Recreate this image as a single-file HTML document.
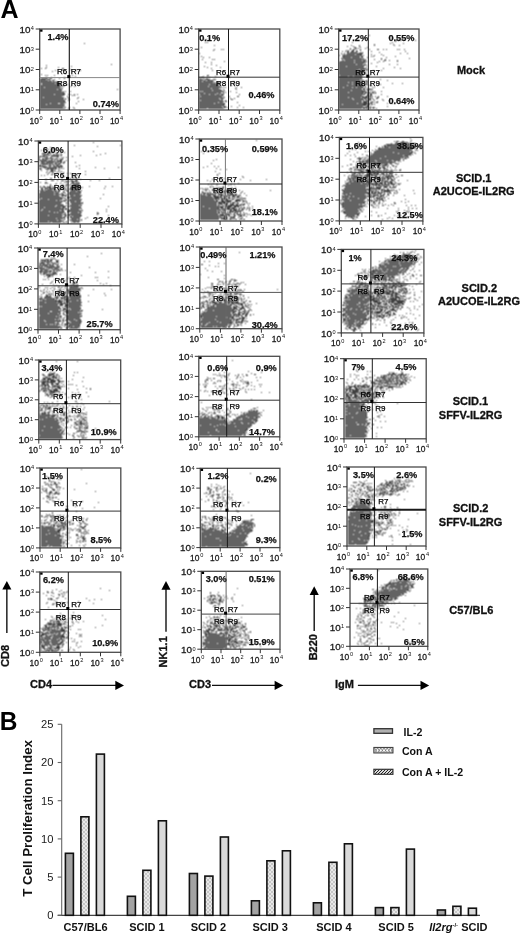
<!DOCTYPE html>
<html><head><meta charset="utf-8"><style>
html,body{margin:0;padding:0;background:#fff;}
body{width:520px;height:934px;overflow:hidden;}
svg{display:block;font-family:"Liberation Sans",sans-serif;}
.tk{font-size:9.4px;fill:#1a1a1a;stroke:#1a1a1a;stroke-width:0.3px;}
.sp{font-size:5.6px;fill:#111;}
.rl{font-size:8px;fill:#000;stroke:#000;stroke-width:0.25px;}
.pc{font-size:9.2px;font-weight:bold;fill:#111;stroke:#111;stroke-width:0.25px;}
.lab{font-size:11px;font-weight:bold;fill:#111;stroke:#111;stroke-width:0.3px;}
.ax{font-size:11px;font-weight:bold;fill:#111;stroke:#111;stroke-width:0.3px;}
.yt{font-size:11.2px;fill:#1a1a1a;}
.bl{font-size:11px;font-weight:bold;fill:#111;}
.lg{font-size:10.6px;font-weight:bold;fill:#111;}
.yl{font-size:13.3px;font-weight:bold;fill:#111;}
.big{font-size:25px;font-weight:bold;fill:#000;}
</style></head><body>
<svg width="520" height="934" viewBox="0 0 520 934">
<defs>
<filter id="bl" filterUnits="userSpaceOnUse" x="0" y="0" width="520" height="934"><feConvolveMatrix order="3" kernelMatrix="1 2 1 2 4 2 1 2 1" divisor="16" edgeMode="none"/></filter>
<pattern id="xh" width="4" height="4" patternUnits="userSpaceOnUse"><rect width="4" height="4" fill="#e8e8e8"/><path d="M0 0L4 4M4 0L0 4" stroke="#b8b8b8" stroke-width="0.7"/></pattern>
<pattern id="xh2" width="6" height="6" patternUnits="userSpaceOnUse"><rect width="6" height="6" fill="#f4f4f4"/><path d="M0 0L6 6M6 0L0 6" stroke="#555" stroke-width="0.8"/></pattern>
<pattern id="dh" width="3" height="3" patternUnits="userSpaceOnUse"><rect width="3" height="3" fill="#ddd"/><path d="M0 3L3 0" stroke="#222" stroke-width="1"/></pattern>
</defs>
<rect width="520" height="934" fill="#fff"/>
<text class="big" x="0.5" y="17.7">A</text>
<text class="big" transform="translate(-0.15,730.4) scale(0.98,1)">B</text>
<g filter="url(#bl)"><path fill="#646464" d="M40 79h6v1h-6zM47 79h2v1h-2zM40 80h8v1h-8zM49 80h2v1h-2zM40 81h12v1h-12zM53 81h2v1h-2zM40 82h16v1h-16zM40 83h1v1h-1zM42 83h13v1h-13zM56 83h1v1h-1zM40 84h1v1h-1zM42 84h16v1h-16zM40 85h19v1h-19zM40 86h20v1h-20zM40 87h4v1h-4zM45 87h15v1h-15zM40 88h21v1h-21zM40 89h17v1h-17zM58 89h3v1h-3zM40 90h22v1h-22zM40 91h22v1h-22zM40 92h23v1h-23zM40 93h23v1h-23zM40 94h14v1h-14zM55 94h8v1h-8zM40 95h23v1h-23zM40 96h22v1h-22zM40 97h3v1h-3zM44 97h20v1h-20zM40 98h24v1h-24zM40 99h24v1h-24zM40 100h24v1h-24zM40 101h24v1h-24zM40 102h24v1h-24zM40 103h10v1h-10zM51 103h7v1h-7zM60 103h4v1h-4zM40 104h6v1h-6zM47 104h17v1h-17zM40 105h24v1h-24zM40 106h24v1h-24zM40 107h23v1h-23zM40 108h24v1h-24z"/>
<path fill="#404040" d="M84 43h1v1h-1zM111 64h1v1h-1zM46 65h1v1h-1zM71 66h1v1h-1zM46 67h1v1h-1zM58 67h1v1h-1zM41 68h1v1h-1zM45 68h1v1h-1zM62 68h2v1h-2zM62 69h1v1h-1zM70 69h1v1h-1zM55 70h1v1h-1zM76 70h1v1h-1zM80 70h1v1h-1zM52 71h1v1h-1zM65 73h1v1h-1zM41 74h1v1h-1zM45 75h1v1h-1zM47 75h1v1h-1zM54 75h1v1h-1zM72 75h1v1h-1zM69 76h1v1h-1zM75 76h1v1h-1zM46 77h1v1h-1zM51 77h1v1h-1zM64 77h1v1h-1zM41 78h7v1h-7zM49 78h3v1h-3zM59 78h1v1h-1zM64 78h1v1h-1zM49 79h1v1h-1zM54 79h1v1h-1zM52 80h2v1h-2zM56 81h1v1h-1zM56 82h3v1h-3zM60 82h1v1h-1zM57 83h3v1h-3zM76 83h1v1h-1zM58 84h3v1h-3zM67 84h1v1h-1zM59 85h1v1h-1zM61 85h1v1h-1zM63 85h1v1h-1zM60 86h1v1h-1zM63 86h1v1h-1zM70 86h1v1h-1zM74 86h1v1h-1zM61 87h1v1h-1zM62 88h1v1h-1zM61 89h1v1h-1zM117 89h1v1h-1zM63 91h1v1h-1zM65 91h1v1h-1zM70 91h1v1h-1zM63 92h1v1h-1zM63 93h2v1h-2zM63 94h2v1h-2zM68 94h1v1h-1zM70 94h1v1h-1zM74 94h1v1h-1zM77 94h1v1h-1zM63 95h1v1h-1zM72 95h1v1h-1zM74 95h1v1h-1zM67 96h1v1h-1zM68 97h1v1h-1zM78 97h1v1h-1zM65 98h1v1h-1zM68 98h1v1h-1zM77 98h1v1h-1zM65 99h1v1h-1zM69 99h1v1h-1zM83 99h1v1h-1zM64 100h1v1h-1zM68 100h1v1h-1zM64 101h1v1h-1zM78 101h1v1h-1zM64 102h2v1h-2zM76 103h1v1h-1zM64 104h1v1h-1zM64 106h1v1h-1zM65 107h1v1h-1zM69 107h1v1h-1zM73 107h1v1h-1zM64 108h1v1h-1zM68 108h1v1h-1zM74 108h1v1h-1z"/></g>
<rect x="39.7" y="29.0" width="80.4" height="81.0" fill="none" stroke="#4a4a4a" stroke-width="1.3"/>
<line x1="69.3" y1="29.0" x2="69.3" y2="110.0" stroke="#111" stroke-width="1.1"/>
<line x1="39.7" y1="77.6" x2="120.1" y2="77.6" stroke="#888" stroke-width="1"/>
<rect x="40.1" y="29.5" width="2.4" height="2.2" fill="#000"/>
<rect x="67.3" y="75.1" width="3" height="3" fill="#000"/>
<line x1="39.7" y1="110.0" x2="39.7" y2="114.0" stroke="#333" stroke-width="1"/>
<line x1="35.7" y1="110.0" x2="39.7" y2="110.0" stroke="#333" stroke-width="1"/>
<text class="tk" x="38.9" y="123.5" text-anchor="end" textLength="9.4" lengthAdjust="spacingAndGlyphs">10</text><text class="sp" x="39.6" y="119.6">0</text>
<text class="tk" x="30.4" y="113.6" text-anchor="end" textLength="11" lengthAdjust="spacingAndGlyphs">10</text><text class="sp" x="30.8" y="111.3">0</text>
<line x1="59.8" y1="110.0" x2="59.8" y2="114.0" stroke="#333" stroke-width="1"/>
<line x1="35.7" y1="89.8" x2="39.7" y2="89.8" stroke="#333" stroke-width="1"/>
<text class="tk" x="59.0" y="123.5" text-anchor="end" textLength="9.4" lengthAdjust="spacingAndGlyphs">10</text><text class="sp" x="59.7" y="119.6">1</text>
<text class="tk" x="30.4" y="93.3" text-anchor="end" textLength="11" lengthAdjust="spacingAndGlyphs">10</text><text class="sp" x="30.8" y="91.0">1</text>
<line x1="79.9" y1="110.0" x2="79.9" y2="114.0" stroke="#333" stroke-width="1"/>
<line x1="35.7" y1="69.5" x2="39.7" y2="69.5" stroke="#333" stroke-width="1"/>
<text class="tk" x="79.1" y="123.5" text-anchor="end" textLength="9.4" lengthAdjust="spacingAndGlyphs">10</text><text class="sp" x="79.8" y="119.6">2</text>
<text class="tk" x="30.4" y="73.1" text-anchor="end" textLength="11" lengthAdjust="spacingAndGlyphs">10</text><text class="sp" x="30.8" y="70.8">2</text>
<line x1="100.0" y1="110.0" x2="100.0" y2="114.0" stroke="#333" stroke-width="1"/>
<line x1="35.7" y1="49.2" x2="39.7" y2="49.2" stroke="#333" stroke-width="1"/>
<text class="tk" x="99.2" y="123.5" text-anchor="end" textLength="9.4" lengthAdjust="spacingAndGlyphs">10</text><text class="sp" x="99.9" y="119.6">3</text>
<text class="tk" x="30.4" y="52.9" text-anchor="end" textLength="11" lengthAdjust="spacingAndGlyphs">10</text><text class="sp" x="30.8" y="50.5">3</text>
<line x1="120.1" y1="110.0" x2="120.1" y2="114.0" stroke="#333" stroke-width="1"/>
<line x1="35.7" y1="29.0" x2="39.7" y2="29.0" stroke="#333" stroke-width="1"/>
<text class="tk" x="119.3" y="123.5" text-anchor="end" textLength="9.4" lengthAdjust="spacingAndGlyphs">10</text><text class="sp" x="120.0" y="119.6">4</text>
<text class="tk" x="30.4" y="32.6" text-anchor="end" textLength="11" lengthAdjust="spacingAndGlyphs">10</text><text class="sp" x="30.8" y="30.3">4</text>
<text class="rl" x="67.3" y="74.2" text-anchor="end">R6</text>
<text class="rl" x="70.7" y="74.2">R7</text>
<text class="rl" x="67.3" y="86.0" text-anchor="end">R8</text>
<text class="rl" x="70.7" y="86.0">R9</text>
<text class="pc" x="47.5" y="40.4" text-anchor="start">1.4%</text>
<text class="pc" x="118.9" y="106.7" text-anchor="end">0.74%</text>
<g filter="url(#bl)"><path fill="#646464" d="M199 79h4v1h-4zM205 79h3v1h-3zM199 80h7v1h-7zM207 80h4v1h-4zM199 81h3v1h-3zM203 81h11v1h-11zM199 82h14v1h-14zM214 82h1v1h-1zM199 83h17v1h-17zM199 84h10v1h-10zM210 84h7v1h-7zM199 85h19v1h-19zM199 86h9v1h-9zM209 86h10v1h-10zM199 87h21v1h-21zM199 88h12v1h-12zM212 88h7v1h-7zM199 89h22v1h-22zM199 90h13v1h-13zM213 90h8v1h-8zM199 91h1v1h-1zM201 91h1v1h-1zM203 91h18v1h-18zM199 92h22v1h-22zM199 93h5v1h-5zM205 93h12v1h-12zM218 93h4v1h-4zM200 94h9v1h-9zM210 94h5v1h-5zM216 94h4v1h-4zM221 94h1v1h-1zM199 95h23v1h-23zM199 96h1v1h-1zM201 96h21v1h-21zM199 97h24v1h-24zM199 98h20v1h-20zM220 98h3v1h-3zM199 99h21v1h-21zM221 99h2v1h-2zM199 100h1v1h-1zM201 100h22v1h-22zM199 101h24v1h-24zM199 102h19v1h-19zM219 102h4v1h-4zM199 103h15v1h-15zM215 103h8v1h-8zM199 104h24v1h-24zM199 105h24v1h-24zM199 106h23v1h-23zM199 107h24v1h-24zM199 108h8v1h-8zM208 108h15v1h-15z"/>
<path fill="#404040" d="M215 36h1v1h-1zM203 38h1v1h-1zM206 39h1v1h-1zM205 42h1v1h-1zM207 42h1v1h-1zM214 45h1v1h-1zM201 47h1v1h-1zM214 49h1v1h-1zM221 49h1v1h-1zM223 49h1v1h-1zM213 50h1v1h-1zM199 53h1v1h-1zM201 56h1v1h-1zM203 57h1v1h-1zM209 57h1v1h-1zM202 59h1v1h-1zM212 59h1v1h-1zM214 59h1v1h-1zM224 61h1v1h-1zM205 62h1v1h-1zM211 62h1v1h-1zM211 64h1v1h-1zM216 65h1v1h-1zM204 66h1v1h-1zM207 67h1v1h-1zM220 67h1v1h-1zM211 68h1v1h-1zM212 70h1v1h-1zM238 72h1v1h-1zM207 75h2v1h-2zM203 76h1v1h-1zM207 76h1v1h-1zM215 76h1v1h-1zM199 77h1v1h-1zM201 77h2v1h-2zM209 77h1v1h-1zM229 77h1v1h-1zM200 78h1v1h-1zM203 78h2v1h-2zM206 78h2v1h-2zM208 79h2v1h-2zM213 79h3v1h-3zM211 80h2v1h-2zM233 81h1v1h-1zM216 82h3v1h-3zM220 82h1v1h-1zM217 83h3v1h-3zM234 83h1v1h-1zM217 84h2v1h-2zM234 84h1v1h-1zM219 85h1v1h-1zM231 85h1v1h-1zM219 86h1v1h-1zM220 87h2v1h-2zM223 87h1v1h-1zM225 87h1v1h-1zM236 87h1v1h-1zM241 87h1v1h-1zM235 88h1v1h-1zM223 89h1v1h-1zM236 89h1v1h-1zM221 90h1v1h-1zM224 90h1v1h-1zM221 91h3v1h-3zM230 91h1v1h-1zM223 92h1v1h-1zM225 92h1v1h-1zM236 92h1v1h-1zM263 92h1v1h-1zM223 93h1v1h-1zM222 94h2v1h-2zM239 94h1v1h-1zM222 95h1v1h-1zM223 96h1v1h-1zM229 96h1v1h-1zM237 96h2v1h-2zM224 97h1v1h-1zM223 98h1v1h-1zM230 98h1v1h-1zM234 98h1v1h-1zM231 99h2v1h-2zM225 100h1v1h-1zM223 101h1v1h-1zM225 101h2v1h-2zM237 102h1v1h-1zM223 103h2v1h-2zM223 104h2v1h-2zM223 105h1v1h-1zM239 105h1v1h-1zM223 106h3v1h-3zM231 106h1v1h-1zM224 107h2v1h-2zM227 107h1v1h-1zM237 107h1v1h-1zM243 107h1v1h-1zM223 108h1v1h-1z"/></g>
<rect x="198.7" y="29.0" width="81.1" height="81.0" fill="none" stroke="#4a4a4a" stroke-width="1.3"/>
<line x1="228.5" y1="29.0" x2="228.5" y2="110.0" stroke="#1a1a1a" stroke-width="1"/>
<line x1="198.7" y1="77.2" x2="279.8" y2="77.2" stroke="#333" stroke-width="1"/>
<rect x="199.1" y="29.5" width="2.4" height="2.2" fill="#000"/>
<rect x="226.5" y="74.7" width="3" height="3" fill="#000"/>
<line x1="198.7" y1="110.0" x2="198.7" y2="114.0" stroke="#333" stroke-width="1"/>
<line x1="194.7" y1="110.0" x2="198.7" y2="110.0" stroke="#333" stroke-width="1"/>
<text class="tk" x="197.9" y="123.5" text-anchor="end" textLength="9.4" lengthAdjust="spacingAndGlyphs">10</text><text class="sp" x="198.6" y="119.6">0</text>
<text class="tk" x="189.4" y="113.6" text-anchor="end" textLength="11" lengthAdjust="spacingAndGlyphs">10</text><text class="sp" x="189.8" y="111.3">0</text>
<line x1="219.0" y1="110.0" x2="219.0" y2="114.0" stroke="#333" stroke-width="1"/>
<line x1="194.7" y1="89.8" x2="198.7" y2="89.8" stroke="#333" stroke-width="1"/>
<text class="tk" x="218.2" y="123.5" text-anchor="end" textLength="9.4" lengthAdjust="spacingAndGlyphs">10</text><text class="sp" x="218.9" y="119.6">1</text>
<text class="tk" x="189.4" y="93.3" text-anchor="end" textLength="11" lengthAdjust="spacingAndGlyphs">10</text><text class="sp" x="189.8" y="91.0">1</text>
<line x1="239.2" y1="110.0" x2="239.2" y2="114.0" stroke="#333" stroke-width="1"/>
<line x1="194.7" y1="69.5" x2="198.7" y2="69.5" stroke="#333" stroke-width="1"/>
<text class="tk" x="238.4" y="123.5" text-anchor="end" textLength="9.4" lengthAdjust="spacingAndGlyphs">10</text><text class="sp" x="239.2" y="119.6">2</text>
<text class="tk" x="189.4" y="73.1" text-anchor="end" textLength="11" lengthAdjust="spacingAndGlyphs">10</text><text class="sp" x="189.8" y="70.8">2</text>
<line x1="259.5" y1="110.0" x2="259.5" y2="114.0" stroke="#333" stroke-width="1"/>
<line x1="194.7" y1="49.2" x2="198.7" y2="49.2" stroke="#333" stroke-width="1"/>
<text class="tk" x="258.7" y="123.5" text-anchor="end" textLength="9.4" lengthAdjust="spacingAndGlyphs">10</text><text class="sp" x="259.4" y="119.6">3</text>
<text class="tk" x="189.4" y="52.9" text-anchor="end" textLength="11" lengthAdjust="spacingAndGlyphs">10</text><text class="sp" x="189.8" y="50.5">3</text>
<line x1="279.8" y1="110.0" x2="279.8" y2="114.0" stroke="#333" stroke-width="1"/>
<line x1="194.7" y1="29.0" x2="198.7" y2="29.0" stroke="#333" stroke-width="1"/>
<text class="tk" x="279.0" y="123.5" text-anchor="end" textLength="9.4" lengthAdjust="spacingAndGlyphs">10</text><text class="sp" x="279.7" y="119.6">4</text>
<text class="tk" x="189.4" y="32.6" text-anchor="end" textLength="11" lengthAdjust="spacingAndGlyphs">10</text><text class="sp" x="189.8" y="30.3">4</text>
<text class="rl" x="226.3" y="74.6" text-anchor="end">R6</text>
<text class="rl" x="229.7" y="74.6">R7</text>
<text class="rl" x="226.3" y="86.1" text-anchor="end">R8</text>
<text class="rl" x="229.7" y="86.1">R9</text>
<text class="pc" x="199.2" y="40.9" text-anchor="start">0.1%</text>
<text class="pc" x="274.5" y="97.9" text-anchor="end">0.46%</text>
<g filter="url(#bl)"><path fill="#646464" d="M350 52h6v1h-6zM347 53h11v1h-11zM346 54h9v1h-9zM356 54h4v1h-4zM345 55h16v1h-16zM344 56h16v1h-16zM344 57h7v1h-7zM352 57h8v1h-8zM361 57h1v1h-1zM343 58h19v1h-19zM342 59h1v1h-1zM344 59h19v1h-19zM342 60h2v1h-2zM345 60h9v1h-9zM355 60h7v1h-7zM341 61h23v1h-23zM340 62h14v1h-14zM355 62h9v1h-9zM339 63h25v1h-25zM339 64h17v1h-17zM357 64h6v1h-6zM339 65h25v1h-25zM339 66h7v1h-7zM347 66h17v1h-17zM339 67h25v1h-25zM339 68h25v1h-25zM339 69h20v1h-20zM360 69h4v1h-4zM339 70h18v1h-18zM358 70h5v1h-5zM339 71h24v1h-24zM339 72h24v1h-24zM339 73h24v1h-24zM339 74h23v1h-23zM340 75h22v1h-22zM339 76h9v1h-9zM349 76h4v1h-4zM354 76h7v1h-7zM339 77h22v1h-22zM339 78h21v1h-21zM339 79h21v1h-21zM339 80h21v1h-21zM339 81h21v1h-21zM339 82h9v1h-9zM349 82h3v1h-3zM353 82h7v1h-7zM339 83h22v1h-22zM339 84h13v1h-13zM353 84h8v1h-8zM339 85h8v1h-8zM348 85h13v1h-13zM339 86h22v1h-22zM339 87h4v1h-4zM344 87h8v1h-8zM353 87h3v1h-3zM357 87h5v1h-5zM339 88h23v1h-23zM339 89h23v1h-23zM339 90h12v1h-12zM352 90h10v1h-10zM339 91h23v1h-23zM339 92h9v1h-9zM349 92h13v1h-13zM339 93h23v1h-23zM339 94h23v1h-23zM339 95h23v1h-23zM339 96h23v1h-23zM339 97h9v1h-9zM349 97h12v1h-12zM339 98h13v1h-13zM353 98h9v1h-9zM339 99h14v1h-14zM354 99h8v1h-8zM339 100h23v1h-23zM339 101h23v1h-23zM339 102h23v1h-23zM339 103h18v1h-18zM358 103h5v1h-5zM339 104h3v1h-3zM343 104h20v1h-20zM339 105h24v1h-24zM339 106h24v1h-24zM339 107h24v1h-24zM339 108h23v1h-23z"/>
<path fill="#404040" d="M369 35h1v1h-1zM347 38h1v1h-1zM392 38h1v1h-1zM396 40h1v1h-1zM400 40h1v1h-1zM415 40h1v1h-1zM395 41h1v1h-1zM352 42h1v1h-1zM392 42h1v1h-1zM390 43h1v1h-1zM403 43h1v1h-1zM374 44h1v1h-1zM393 44h1v1h-1zM351 45h1v1h-1zM359 45h1v1h-1zM374 45h1v1h-1zM394 45h1v1h-1zM399 45h1v1h-1zM347 46h1v1h-1zM353 46h1v1h-1zM359 46h1v1h-1zM354 47h2v1h-2zM360 47h1v1h-1zM367 47h1v1h-1zM350 48h1v1h-1zM355 48h2v1h-2zM358 48h1v1h-1zM365 48h1v1h-1zM350 49h1v1h-1zM353 49h2v1h-2zM360 49h1v1h-1zM369 49h1v1h-1zM377 49h2v1h-2zM383 49h1v1h-1zM386 49h1v1h-1zM397 49h1v1h-1zM399 49h1v1h-1zM404 49h1v1h-1zM346 50h1v1h-1zM348 50h1v1h-1zM352 50h2v1h-2zM356 50h1v1h-1zM360 50h1v1h-1zM342 51h1v1h-1zM345 51h1v1h-1zM347 51h2v1h-2zM351 51h3v1h-3zM356 51h2v1h-2zM371 51h1v1h-1zM405 51h1v1h-1zM347 52h2v1h-2zM356 52h1v1h-1zM360 52h1v1h-1zM362 52h1v1h-1zM379 52h1v1h-1zM341 53h1v1h-1zM344 53h1v1h-1zM358 53h5v1h-5zM400 53h1v1h-1zM407 53h1v1h-1zM342 54h1v1h-1zM344 54h1v1h-1zM360 54h2v1h-2zM371 54h1v1h-1zM381 54h1v1h-1zM339 55h1v1h-1zM343 55h2v1h-2zM361 55h1v1h-1zM363 55h1v1h-1zM374 55h1v1h-1zM383 55h1v1h-1zM342 56h2v1h-2zM361 56h2v1h-2zM371 56h1v1h-1zM373 56h1v1h-1zM395 56h1v1h-1zM343 57h1v1h-1zM362 57h1v1h-1zM367 57h1v1h-1zM386 57h1v1h-1zM341 58h2v1h-2zM363 58h1v1h-1zM381 58h1v1h-1zM409 58h1v1h-1zM363 59h1v1h-1zM365 59h1v1h-1zM374 59h1v1h-1zM381 59h1v1h-1zM385 59h1v1h-1zM363 60h3v1h-3zM384 60h2v1h-2zM389 60h1v1h-1zM397 60h1v1h-1zM340 61h1v1h-1zM364 61h1v1h-1zM366 61h1v1h-1zM379 61h1v1h-1zM383 61h1v1h-1zM397 61h1v1h-1zM339 62h1v1h-1zM364 62h2v1h-2zM377 62h1v1h-1zM371 63h1v1h-1zM364 64h2v1h-2zM389 64h1v1h-1zM397 64h1v1h-1zM364 65h1v1h-1zM366 65h1v1h-1zM376 66h1v1h-1zM366 67h1v1h-1zM394 67h1v1h-1zM364 68h2v1h-2zM383 68h1v1h-1zM400 68h1v1h-1zM364 69h1v1h-1zM366 69h2v1h-2zM364 70h1v1h-1zM366 70h1v1h-1zM373 70h1v1h-1zM381 70h1v1h-1zM363 72h3v1h-3zM365 73h1v1h-1zM362 74h1v1h-1zM365 74h1v1h-1zM362 75h1v1h-1zM361 76h1v1h-1zM361 77h1v1h-1zM360 78h2v1h-2zM361 79h1v1h-1zM380 79h1v1h-1zM360 80h1v1h-1zM362 80h2v1h-2zM366 80h1v1h-1zM387 80h1v1h-1zM361 81h2v1h-2zM364 81h4v1h-4zM361 82h1v1h-1zM367 82h1v1h-1zM361 83h2v1h-2zM364 83h3v1h-3zM392 83h1v1h-1zM402 83h1v1h-1zM361 84h2v1h-2zM364 84h1v1h-1zM366 84h2v1h-2zM380 84h1v1h-1zM361 85h1v1h-1zM364 85h1v1h-1zM369 85h1v1h-1zM371 85h1v1h-1zM361 86h3v1h-3zM365 86h1v1h-1zM362 87h1v1h-1zM365 87h1v1h-1zM372 87h1v1h-1zM374 87h1v1h-1zM383 87h1v1h-1zM363 88h2v1h-2zM367 88h1v1h-1zM369 88h1v1h-1zM363 89h2v1h-2zM366 89h1v1h-1zM368 89h5v1h-5zM362 90h1v1h-1zM364 90h1v1h-1zM367 90h2v1h-2zM362 91h4v1h-4zM370 91h1v1h-1zM372 91h1v1h-1zM374 91h1v1h-1zM381 91h1v1h-1zM362 92h2v1h-2zM365 92h5v1h-5zM372 92h2v1h-2zM375 92h1v1h-1zM362 93h1v1h-1zM364 93h2v1h-2zM368 93h1v1h-1zM370 93h2v1h-2zM373 93h1v1h-1zM375 93h1v1h-1zM362 94h3v1h-3zM367 94h2v1h-2zM370 94h2v1h-2zM381 94h1v1h-1zM367 95h2v1h-2zM370 95h2v1h-2zM362 96h2v1h-2zM365 96h3v1h-3zM369 96h2v1h-2zM372 96h1v1h-1zM375 96h1v1h-1zM378 96h1v1h-1zM387 96h1v1h-1zM362 97h6v1h-6zM369 97h1v1h-1zM371 97h1v1h-1zM377 97h2v1h-2zM362 98h1v1h-1zM364 98h2v1h-2zM367 98h1v1h-1zM369 98h2v1h-2zM372 98h1v1h-1zM376 98h2v1h-2zM362 99h2v1h-2zM365 99h2v1h-2zM368 99h3v1h-3zM373 99h1v1h-1zM382 99h1v1h-1zM363 100h1v1h-1zM366 100h1v1h-1zM368 100h1v1h-1zM370 100h1v1h-1zM374 100h1v1h-1zM383 100h1v1h-1zM363 101h6v1h-6zM372 101h1v1h-1zM377 101h1v1h-1zM363 102h4v1h-4zM370 102h3v1h-3zM374 102h1v1h-1zM376 102h2v1h-2zM363 103h7v1h-7zM371 103h1v1h-1zM387 103h1v1h-1zM392 103h1v1h-1zM363 104h4v1h-4zM368 104h2v1h-2zM371 104h2v1h-2zM374 104h1v1h-1zM363 105h3v1h-3zM367 105h2v1h-2zM366 106h3v1h-3zM370 106h1v1h-1zM387 106h1v1h-1zM363 107h4v1h-4zM368 107h1v1h-1zM370 107h1v1h-1zM372 107h3v1h-3zM363 108h2v1h-2zM366 108h2v1h-2zM369 108h2v1h-2zM373 108h1v1h-1zM376 108h1v1h-1z"/></g>
<rect x="338.7" y="29.0" width="80.3" height="81.0" fill="none" stroke="#4a4a4a" stroke-width="1.3"/>
<line x1="368.3" y1="29.0" x2="368.3" y2="110.0" stroke="#1a1a1a" stroke-width="1"/>
<line x1="338.7" y1="77.1" x2="419.0" y2="77.1" stroke="#333" stroke-width="1"/>
<rect x="339.1" y="29.5" width="2.4" height="2.2" fill="#000"/>
<rect x="366.3" y="74.6" width="3" height="3" fill="#000"/>
<line x1="338.7" y1="110.0" x2="338.7" y2="114.0" stroke="#333" stroke-width="1"/>
<line x1="334.7" y1="110.0" x2="338.7" y2="110.0" stroke="#333" stroke-width="1"/>
<text class="tk" x="337.9" y="123.5" text-anchor="end" textLength="9.4" lengthAdjust="spacingAndGlyphs">10</text><text class="sp" x="338.6" y="119.6">0</text>
<text class="tk" x="329.4" y="113.6" text-anchor="end" textLength="11" lengthAdjust="spacingAndGlyphs">10</text><text class="sp" x="329.8" y="111.3">0</text>
<line x1="358.8" y1="110.0" x2="358.8" y2="114.0" stroke="#333" stroke-width="1"/>
<line x1="334.7" y1="89.8" x2="338.7" y2="89.8" stroke="#333" stroke-width="1"/>
<text class="tk" x="358.0" y="123.5" text-anchor="end" textLength="9.4" lengthAdjust="spacingAndGlyphs">10</text><text class="sp" x="358.7" y="119.6">1</text>
<text class="tk" x="329.4" y="93.3" text-anchor="end" textLength="11" lengthAdjust="spacingAndGlyphs">10</text><text class="sp" x="329.8" y="91.0">1</text>
<line x1="378.9" y1="110.0" x2="378.9" y2="114.0" stroke="#333" stroke-width="1"/>
<line x1="334.7" y1="69.5" x2="338.7" y2="69.5" stroke="#333" stroke-width="1"/>
<text class="tk" x="378.1" y="123.5" text-anchor="end" textLength="9.4" lengthAdjust="spacingAndGlyphs">10</text><text class="sp" x="378.8" y="119.6">2</text>
<text class="tk" x="329.4" y="73.1" text-anchor="end" textLength="11" lengthAdjust="spacingAndGlyphs">10</text><text class="sp" x="329.8" y="70.8">2</text>
<line x1="398.9" y1="110.0" x2="398.9" y2="114.0" stroke="#333" stroke-width="1"/>
<line x1="334.7" y1="49.2" x2="338.7" y2="49.2" stroke="#333" stroke-width="1"/>
<text class="tk" x="398.1" y="123.5" text-anchor="end" textLength="9.4" lengthAdjust="spacingAndGlyphs">10</text><text class="sp" x="398.8" y="119.6">3</text>
<text class="tk" x="329.4" y="52.9" text-anchor="end" textLength="11" lengthAdjust="spacingAndGlyphs">10</text><text class="sp" x="329.8" y="50.5">3</text>
<line x1="419.0" y1="110.0" x2="419.0" y2="114.0" stroke="#333" stroke-width="1"/>
<line x1="334.7" y1="29.0" x2="338.7" y2="29.0" stroke="#333" stroke-width="1"/>
<text class="tk" x="418.2" y="123.5" text-anchor="end" textLength="9.4" lengthAdjust="spacingAndGlyphs">10</text><text class="sp" x="418.9" y="119.6">4</text>
<text class="tk" x="329.4" y="32.6" text-anchor="end" textLength="11" lengthAdjust="spacingAndGlyphs">10</text><text class="sp" x="329.8" y="30.3">4</text>
<text class="rl" x="365.5" y="74.6" text-anchor="end">R6</text>
<text class="rl" x="369.7" y="74.6">R7</text>
<text class="rl" x="365.5" y="86.1" text-anchor="end">R8</text>
<text class="rl" x="369.7" y="86.1">R9</text>
<text class="pc" x="342.1" y="40.9" text-anchor="start">17.2%</text>
<text class="pc" x="414.5" y="40.9" text-anchor="end">0.55%</text>
<text class="pc" x="414.5" y="103.8" text-anchor="end">0.64%</text>
<g filter="url(#bl)"><path fill="#646464" d="M48 154h1v1h-1zM50 154h1v1h-1zM53 154h1v1h-1zM46 155h1v1h-1zM48 155h2v1h-2zM51 155h5v1h-5zM44 156h1v1h-1zM46 156h2v1h-2zM51 156h6v1h-6zM44 157h4v1h-4zM50 157h2v1h-2zM57 157h1v1h-1zM43 158h1v1h-1zM45 158h9v1h-9zM55 158h3v1h-3zM42 159h6v1h-6zM51 159h2v1h-2zM54 159h2v1h-2zM57 159h1v1h-1zM42 160h5v1h-5zM48 160h5v1h-5zM54 160h1v1h-1zM56 160h4v1h-4zM42 161h14v1h-14zM57 161h3v1h-3zM42 162h3v1h-3zM46 162h8v1h-8zM55 162h4v1h-4zM42 163h11v1h-11zM54 163h3v1h-3zM58 163h2v1h-2zM43 164h5v1h-5zM49 164h2v1h-2zM52 164h2v1h-2zM55 164h4v1h-4zM44 165h1v1h-1zM48 165h4v1h-4zM53 165h2v1h-2zM56 165h3v1h-3zM44 166h3v1h-3zM49 166h2v1h-2zM53 166h5v1h-5zM45 167h12v1h-12zM47 168h8v1h-8zM75 181h1v1h-1zM73 182h1v1h-1zM76 182h1v1h-1zM73 183h5v1h-5zM73 184h6v1h-6zM72 185h7v1h-7zM72 186h7v1h-7zM71 187h9v1h-9zM71 188h9v1h-9zM44 189h2v1h-2zM47 189h5v1h-5zM53 189h1v1h-1zM71 189h8v1h-8zM42 190h2v1h-2zM45 190h8v1h-8zM54 190h2v1h-2zM71 190h9v1h-9zM41 191h16v1h-16zM71 191h5v1h-5zM77 191h3v1h-3zM40 192h14v1h-14zM55 192h3v1h-3zM70 192h10v1h-10zM39 193h20v1h-20zM70 193h11v1h-11zM39 194h15v1h-15zM55 194h5v1h-5zM70 194h10v1h-10zM39 195h20v1h-20zM70 195h4v1h-4zM75 195h6v1h-6zM39 196h21v1h-21zM70 196h11v1h-11zM39 197h22v1h-22zM70 197h11v1h-11zM39 198h2v1h-2zM42 198h19v1h-19zM71 198h9v1h-9zM40 199h8v1h-8zM49 199h13v1h-13zM70 199h11v1h-11zM39 200h17v1h-17zM57 200h3v1h-3zM61 200h1v1h-1zM70 200h11v1h-11zM39 201h23v1h-23zM70 201h5v1h-5zM76 201h5v1h-5zM39 202h23v1h-23zM70 202h11v1h-11zM39 203h22v1h-22zM71 203h10v1h-10zM39 204h23v1h-23zM71 204h10v1h-10zM39 205h17v1h-17zM57 205h6v1h-6zM70 205h9v1h-9zM80 205h1v1h-1zM39 206h16v1h-16zM56 206h7v1h-7zM70 206h11v1h-11zM39 207h5v1h-5zM45 207h16v1h-16zM62 207h1v1h-1zM71 207h10v1h-10zM39 208h24v1h-24zM70 208h11v1h-11zM39 209h3v1h-3zM43 209h20v1h-20zM70 209h9v1h-9zM39 210h2v1h-2zM42 210h18v1h-18zM61 210h2v1h-2zM70 210h11v1h-11zM39 211h10v1h-10zM50 211h13v1h-13zM70 211h11v1h-11zM39 212h15v1h-15zM55 212h2v1h-2zM58 212h5v1h-5zM71 212h7v1h-7zM79 212h2v1h-2zM39 213h24v1h-24zM70 213h11v1h-11zM39 214h23v1h-23zM70 214h11v1h-11zM39 215h9v1h-9zM49 215h14v1h-14zM71 215h9v1h-9zM39 216h23v1h-23zM71 216h1v1h-1zM73 216h7v1h-7zM39 217h24v1h-24zM71 217h9v1h-9zM39 218h17v1h-17zM57 218h6v1h-6zM71 218h9v1h-9zM39 219h22v1h-22zM62 219h1v1h-1zM71 219h6v1h-6zM78 219h2v1h-2zM39 220h18v1h-18zM58 220h4v1h-4zM71 220h9v1h-9zM39 221h9v1h-9zM49 221h13v1h-13zM72 221h8v1h-8zM39 222h12v1h-12zM52 222h9v1h-9zM73 222h3v1h-3zM77 222h2v1h-2z"/>
<path fill="#404040" d="M93 142h1v1h-1zM74 145h1v1h-1zM120 145h1v1h-1zM97 146h1v1h-1zM50 147h1v1h-1zM48 149h1v1h-1zM52 149h1v1h-1zM41 150h1v1h-1zM45 150h1v1h-1zM54 150h1v1h-1zM50 151h1v1h-1zM60 151h1v1h-1zM93 151h1v1h-1zM44 152h1v1h-1zM48 152h3v1h-3zM52 152h1v1h-1zM56 152h1v1h-1zM64 152h1v1h-1zM42 153h4v1h-4zM47 153h2v1h-2zM50 153h1v1h-1zM56 153h2v1h-2zM60 153h1v1h-1zM105 153h1v1h-1zM42 154h1v1h-1zM44 154h1v1h-1zM46 154h2v1h-2zM54 154h1v1h-1zM56 154h1v1h-1zM58 154h1v1h-1zM61 154h1v1h-1zM100 154h1v1h-1zM43 155h3v1h-3zM56 155h3v1h-3zM60 155h2v1h-2zM80 155h1v1h-1zM96 155h1v1h-1zM39 156h5v1h-5zM57 156h2v1h-2zM72 156h1v1h-1zM39 157h1v1h-1zM61 157h1v1h-1zM63 157h1v1h-1zM66 157h1v1h-1zM39 158h1v1h-1zM42 158h1v1h-1zM59 158h1v1h-1zM62 158h1v1h-1zM39 159h1v1h-1zM60 159h3v1h-3zM39 160h3v1h-3zM60 160h2v1h-2zM66 160h1v1h-1zM41 161h1v1h-1zM60 161h2v1h-2zM64 161h1v1h-1zM39 162h1v1h-1zM41 162h1v1h-1zM60 162h2v1h-2zM63 162h2v1h-2zM75 162h1v1h-1zM41 163h1v1h-1zM60 163h1v1h-1zM63 163h1v1h-1zM40 164h1v1h-1zM42 164h1v1h-1zM59 164h1v1h-1zM39 165h2v1h-2zM42 165h1v1h-1zM60 165h2v1h-2zM79 165h1v1h-1zM39 166h5v1h-5zM58 166h5v1h-5zM76 166h1v1h-1zM43 167h2v1h-2zM58 167h2v1h-2zM61 167h1v1h-1zM95 167h1v1h-1zM118 167h1v1h-1zM39 168h3v1h-3zM45 168h1v1h-1zM55 168h2v1h-2zM59 168h1v1h-1zM61 168h1v1h-1zM63 168h1v1h-1zM79 168h1v1h-1zM104 168h1v1h-1zM40 169h1v1h-1zM46 169h3v1h-3zM50 169h4v1h-4zM55 169h1v1h-1zM58 169h1v1h-1zM41 170h1v1h-1zM51 170h2v1h-2zM54 170h1v1h-1zM59 170h1v1h-1zM47 171h1v1h-1zM50 171h4v1h-4zM55 171h1v1h-1zM58 171h1v1h-1zM61 171h1v1h-1zM85 171h1v1h-1zM46 172h1v1h-1zM49 172h1v1h-1zM52 172h1v1h-1zM57 172h1v1h-1zM60 172h1v1h-1zM63 172h1v1h-1zM48 173h1v1h-1zM53 173h1v1h-1zM63 173h1v1h-1zM67 173h1v1h-1zM70 173h1v1h-1zM47 174h1v1h-1zM51 174h2v1h-2zM56 174h1v1h-1zM74 174h1v1h-1zM77 174h1v1h-1zM85 174h1v1h-1zM41 175h1v1h-1zM44 175h1v1h-1zM73 175h1v1h-1zM76 175h1v1h-1zM62 176h3v1h-3zM67 176h1v1h-1zM73 177h1v1h-1zM75 177h1v1h-1zM50 178h2v1h-2zM70 178h1v1h-1zM73 178h1v1h-1zM76 178h1v1h-1zM109 178h1v1h-1zM45 179h2v1h-2zM61 179h1v1h-1zM70 179h1v1h-1zM76 179h2v1h-2zM80 179h1v1h-1zM51 180h3v1h-3zM57 180h1v1h-1zM62 180h2v1h-2zM65 180h1v1h-1zM71 180h2v1h-2zM75 180h2v1h-2zM90 180h1v1h-1zM99 180h1v1h-1zM61 181h1v1h-1zM66 181h2v1h-2zM69 181h1v1h-1zM71 181h4v1h-4zM76 181h2v1h-2zM40 182h1v1h-1zM45 182h2v1h-2zM64 182h1v1h-1zM66 182h1v1h-1zM72 182h1v1h-1zM78 182h1v1h-1zM45 183h1v1h-1zM47 183h1v1h-1zM56 183h1v1h-1zM60 183h1v1h-1zM71 183h2v1h-2zM78 183h2v1h-2zM50 184h1v1h-1zM55 184h1v1h-1zM62 184h1v1h-1zM66 184h2v1h-2zM70 184h1v1h-1zM50 185h1v1h-1zM62 185h1v1h-1zM64 185h1v1h-1zM66 185h1v1h-1zM69 185h1v1h-1zM79 185h1v1h-1zM40 186h1v1h-1zM43 186h2v1h-2zM47 186h1v1h-1zM49 186h2v1h-2zM52 186h1v1h-1zM58 186h1v1h-1zM62 186h1v1h-1zM66 186h1v1h-1zM71 186h1v1h-1zM79 186h1v1h-1zM89 186h1v1h-1zM105 186h1v1h-1zM112 186h1v1h-1zM40 187h1v1h-1zM42 187h1v1h-1zM44 187h2v1h-2zM47 187h4v1h-4zM53 187h2v1h-2zM59 187h2v1h-2zM63 187h2v1h-2zM70 187h1v1h-1zM80 187h1v1h-1zM82 187h1v1h-1zM41 188h2v1h-2zM45 188h3v1h-3zM49 188h5v1h-5zM55 188h1v1h-1zM58 188h1v1h-1zM61 188h1v1h-1zM63 188h1v1h-1zM65 188h1v1h-1zM67 188h1v1h-1zM70 188h1v1h-1zM104 188h1v1h-1zM41 189h2v1h-2zM54 189h1v1h-1zM59 189h2v1h-2zM63 189h1v1h-1zM65 189h1v1h-1zM69 189h2v1h-2zM39 190h1v1h-1zM41 190h1v1h-1zM56 190h1v1h-1zM58 190h2v1h-2zM64 190h1v1h-1zM66 190h2v1h-2zM81 190h1v1h-1zM40 191h1v1h-1zM58 191h2v1h-2zM63 191h1v1h-1zM67 191h1v1h-1zM70 191h1v1h-1zM80 191h1v1h-1zM58 192h1v1h-1zM63 192h2v1h-2zM69 192h1v1h-1zM80 192h1v1h-1zM61 193h2v1h-2zM65 193h1v1h-1zM69 193h1v1h-1zM60 194h1v1h-1zM62 194h2v1h-2zM67 194h1v1h-1zM69 194h1v1h-1zM103 194h1v1h-1zM61 195h6v1h-6zM81 195h1v1h-1zM62 196h1v1h-1zM65 196h1v1h-1zM68 196h1v1h-1zM61 197h1v1h-1zM63 197h1v1h-1zM67 197h3v1h-3zM61 198h2v1h-2zM64 198h2v1h-2zM68 198h1v1h-1zM100 198h1v1h-1zM66 199h1v1h-1zM69 199h1v1h-1zM81 199h1v1h-1zM63 200h4v1h-4zM69 200h1v1h-1zM62 201h1v1h-1zM64 201h1v1h-1zM68 201h1v1h-1zM66 202h1v1h-1zM82 202h1v1h-1zM66 203h1v1h-1zM68 203h1v1h-1zM81 203h2v1h-2zM62 204h1v1h-1zM69 204h1v1h-1zM63 205h1v1h-1zM66 205h1v1h-1zM81 205h1v1h-1zM63 206h3v1h-3zM68 206h2v1h-2zM108 206h1v1h-1zM63 207h2v1h-2zM63 208h1v1h-1zM65 208h2v1h-2zM81 208h1v1h-1zM63 209h1v1h-1zM65 209h2v1h-2zM68 209h1v1h-1zM106 209h1v1h-1zM63 210h1v1h-1zM68 210h2v1h-2zM81 210h2v1h-2zM63 211h1v1h-1zM67 211h3v1h-3zM106 211h1v1h-1zM63 212h2v1h-2zM68 212h1v1h-1zM81 212h1v1h-1zM97 212h1v1h-1zM65 213h1v1h-1zM97 213h2v1h-2zM63 214h3v1h-3zM68 214h2v1h-2zM97 214h1v1h-1zM65 215h2v1h-2zM68 215h2v1h-2zM80 215h2v1h-2zM108 215h1v1h-1zM64 216h2v1h-2zM70 216h1v1h-1zM80 216h1v1h-1zM63 217h2v1h-2zM67 217h2v1h-2zM70 217h1v1h-1zM87 217h1v1h-1zM64 218h1v1h-1zM85 218h1v1h-1zM64 219h1v1h-1zM69 219h1v1h-1zM81 219h1v1h-1zM63 220h1v1h-1zM70 220h1v1h-1zM81 220h1v1h-1zM62 221h1v1h-1zM66 221h1v1h-1zM63 222h2v1h-2zM66 222h1v1h-1zM71 222h1v1h-1zM118 222h1v1h-1z"/></g>
<rect x="38.4" y="141.0" width="83.5" height="82.9" fill="none" stroke="#4a4a4a" stroke-width="1.3"/>
<line x1="68.1" y1="141.0" x2="68.1" y2="223.9" stroke="#1a1a1a" stroke-width="1"/>
<line x1="38.4" y1="179.5" x2="121.9" y2="179.5" stroke="#333" stroke-width="1"/>
<rect x="38.8" y="141.5" width="2.4" height="2.2" fill="#000"/>
<rect x="66.1" y="177.0" width="3" height="3" fill="#000"/>
<line x1="38.4" y1="223.9" x2="38.4" y2="227.9" stroke="#333" stroke-width="1"/>
<line x1="34.4" y1="223.9" x2="38.4" y2="223.9" stroke="#333" stroke-width="1"/>
<text class="tk" x="37.6" y="237.4" text-anchor="end" textLength="9.4" lengthAdjust="spacingAndGlyphs">10</text><text class="sp" x="38.3" y="233.5">0</text>
<text class="tk" x="29.1" y="227.5" text-anchor="end" textLength="11" lengthAdjust="spacingAndGlyphs">10</text><text class="sp" x="29.5" y="225.2">0</text>
<line x1="59.3" y1="223.9" x2="59.3" y2="227.9" stroke="#333" stroke-width="1"/>
<line x1="34.4" y1="203.2" x2="38.4" y2="203.2" stroke="#333" stroke-width="1"/>
<text class="tk" x="58.5" y="237.4" text-anchor="end" textLength="9.4" lengthAdjust="spacingAndGlyphs">10</text><text class="sp" x="59.2" y="233.5">1</text>
<text class="tk" x="29.1" y="206.8" text-anchor="end" textLength="11" lengthAdjust="spacingAndGlyphs">10</text><text class="sp" x="29.5" y="204.5">1</text>
<line x1="80.2" y1="223.9" x2="80.2" y2="227.9" stroke="#333" stroke-width="1"/>
<line x1="34.4" y1="182.4" x2="38.4" y2="182.4" stroke="#333" stroke-width="1"/>
<text class="tk" x="79.4" y="237.4" text-anchor="end" textLength="9.4" lengthAdjust="spacingAndGlyphs">10</text><text class="sp" x="80.1" y="233.5">2</text>
<text class="tk" x="29.1" y="186.0" text-anchor="end" textLength="11" lengthAdjust="spacingAndGlyphs">10</text><text class="sp" x="29.5" y="183.8">2</text>
<line x1="101.0" y1="223.9" x2="101.0" y2="227.9" stroke="#333" stroke-width="1"/>
<line x1="34.4" y1="161.7" x2="38.4" y2="161.7" stroke="#333" stroke-width="1"/>
<text class="tk" x="100.2" y="237.4" text-anchor="end" textLength="9.4" lengthAdjust="spacingAndGlyphs">10</text><text class="sp" x="100.9" y="233.5">3</text>
<text class="tk" x="29.1" y="165.3" text-anchor="end" textLength="11" lengthAdjust="spacingAndGlyphs">10</text><text class="sp" x="29.5" y="163.0">3</text>
<line x1="121.9" y1="223.9" x2="121.9" y2="227.9" stroke="#333" stroke-width="1"/>
<line x1="34.4" y1="141.0" x2="38.4" y2="141.0" stroke="#333" stroke-width="1"/>
<text class="tk" x="121.1" y="237.4" text-anchor="end" textLength="9.4" lengthAdjust="spacingAndGlyphs">10</text><text class="sp" x="121.8" y="233.5">4</text>
<text class="tk" x="29.1" y="144.6" text-anchor="end" textLength="11" lengthAdjust="spacingAndGlyphs">10</text><text class="sp" x="29.5" y="142.3">4</text>
<text class="rl" x="64.1" y="177.6" text-anchor="end">R6</text>
<text class="rl" x="71.2" y="177.6">R7</text>
<text class="rl" x="64.1" y="190.0" text-anchor="end">R8</text>
<text class="rl" x="71.2" y="190.0">R9</text>
<text class="pc" x="42.8" y="152.8" text-anchor="start">6.0%</text>
<text class="pc" x="118.9" y="222.7" text-anchor="end">22.4%</text>
<g filter="url(#bl)"><path fill="#646464" d="M200 194h2v1h-2zM203 194h2v1h-2zM206 194h3v1h-3zM200 195h6v1h-6zM207 195h4v1h-4zM200 196h12v1h-12zM200 197h13v1h-13zM200 198h15v1h-15zM200 199h14v1h-14zM200 200h15v1h-15zM200 201h16v1h-16zM200 202h17v1h-17zM200 203h17v1h-17zM200 204h17v1h-17zM200 205h17v1h-17zM200 206h3v1h-3zM204 206h14v1h-14zM200 207h18v1h-18zM200 208h9v1h-9zM210 208h8v1h-8zM200 209h18v1h-18zM200 210h17v1h-17zM200 211h19v1h-19zM200 212h17v1h-17zM218 212h1v1h-1zM200 213h19v1h-19zM200 214h18v1h-18zM200 215h19v1h-19zM200 216h19v1h-19zM200 217h19v1h-19zM200 218h19v1h-19zM200 219h19v1h-19z"/>
<path fill="#404040" d="M256 140h1v1h-1zM203 146h1v1h-1zM205 146h1v1h-1zM201 151h1v1h-1zM207 151h1v1h-1zM203 153h1v1h-1zM216 159h1v1h-1zM213 160h1v1h-1zM211 163h1v1h-1zM207 166h1v1h-1zM214 166h1v1h-1zM218 166h1v1h-1zM203 167h1v1h-1zM216 168h1v1h-1zM220 169h1v1h-1zM226 169h1v1h-1zM215 171h1v1h-1zM219 173h1v1h-1zM217 174h1v1h-1zM217 175h1v1h-1zM242 176h1v1h-1zM243 177h1v1h-1zM224 178h1v1h-1zM212 179h1v1h-1zM227 179h1v1h-1zM240 179h1v1h-1zM266 179h1v1h-1zM207 180h1v1h-1zM222 180h1v1h-1zM250 180h1v1h-1zM210 181h1v1h-1zM221 181h1v1h-1zM213 183h1v1h-1zM238 183h1v1h-1zM208 184h1v1h-1zM211 184h1v1h-1zM216 184h2v1h-2zM225 184h1v1h-1zM230 184h2v1h-2zM234 184h1v1h-1zM228 185h1v1h-1zM210 186h1v1h-1zM212 186h1v1h-1zM223 186h1v1h-1zM210 187h1v1h-1zM213 187h1v1h-1zM216 187h1v1h-1zM218 187h1v1h-1zM220 187h1v1h-1zM222 187h2v1h-2zM231 187h1v1h-1zM235 187h1v1h-1zM200 188h1v1h-1zM202 188h1v1h-1zM205 188h1v1h-1zM207 188h1v1h-1zM214 188h1v1h-1zM216 188h1v1h-1zM218 188h1v1h-1zM220 188h1v1h-1zM222 188h2v1h-2zM226 188h1v1h-1zM229 188h1v1h-1zM232 188h1v1h-1zM203 189h1v1h-1zM205 189h1v1h-1zM207 189h1v1h-1zM212 189h2v1h-2zM215 189h1v1h-1zM218 189h4v1h-4zM228 189h5v1h-5zM205 190h2v1h-2zM209 190h1v1h-1zM212 190h2v1h-2zM216 190h1v1h-1zM218 190h2v1h-2zM221 190h2v1h-2zM224 190h5v1h-5zM230 190h2v1h-2zM233 190h1v1h-1zM239 190h1v1h-1zM270 190h1v1h-1zM202 191h1v1h-1zM214 191h2v1h-2zM218 191h1v1h-1zM221 191h1v1h-1zM223 191h2v1h-2zM226 191h4v1h-4zM231 191h3v1h-3zM235 191h1v1h-1zM242 191h1v1h-1zM202 192h2v1h-2zM205 192h1v1h-1zM207 192h1v1h-1zM209 192h2v1h-2zM215 192h2v1h-2zM218 192h1v1h-1zM220 192h3v1h-3zM224 192h2v1h-2zM227 192h4v1h-4zM232 192h1v1h-1zM241 192h1v1h-1zM201 193h1v1h-1zM203 193h3v1h-3zM207 193h2v1h-2zM210 193h1v1h-1zM212 193h1v1h-1zM214 193h2v1h-2zM217 193h1v1h-1zM219 193h1v1h-1zM221 193h1v1h-1zM224 193h1v1h-1zM227 193h1v1h-1zM229 193h4v1h-4zM235 193h1v1h-1zM240 193h1v1h-1zM244 193h1v1h-1zM209 194h5v1h-5zM215 194h1v1h-1zM218 194h5v1h-5zM224 194h1v1h-1zM227 194h2v1h-2zM230 194h4v1h-4zM235 194h2v1h-2zM213 195h3v1h-3zM218 195h1v1h-1zM220 195h3v1h-3zM224 195h1v1h-1zM226 195h1v1h-1zM228 195h3v1h-3zM232 195h5v1h-5zM238 195h3v1h-3zM246 195h1v1h-1zM213 196h6v1h-6zM220 196h2v1h-2zM223 196h5v1h-5zM229 196h1v1h-1zM232 196h3v1h-3zM237 196h2v1h-2zM214 197h8v1h-8zM224 197h2v1h-2zM228 197h2v1h-2zM232 197h1v1h-1zM234 197h1v1h-1zM236 197h4v1h-4zM241 197h1v1h-1zM215 198h4v1h-4zM221 198h6v1h-6zM228 198h3v1h-3zM232 198h1v1h-1zM234 198h1v1h-1zM240 198h1v1h-1zM242 198h4v1h-4zM215 199h2v1h-2zM218 199h2v1h-2zM221 199h2v1h-2zM224 199h4v1h-4zM232 199h2v1h-2zM236 199h4v1h-4zM241 199h1v1h-1zM216 200h2v1h-2zM221 200h3v1h-3zM226 200h6v1h-6zM235 200h6v1h-6zM242 200h2v1h-2zM245 200h1v1h-1zM216 201h2v1h-2zM219 201h1v1h-1zM221 201h10v1h-10zM235 201h3v1h-3zM239 201h1v1h-1zM243 201h2v1h-2zM246 201h1v1h-1zM218 202h8v1h-8zM227 202h2v1h-2zM230 202h1v1h-1zM232 202h3v1h-3zM237 202h1v1h-1zM242 202h1v1h-1zM246 202h1v1h-1zM218 203h4v1h-4zM223 203h5v1h-5zM230 203h1v1h-1zM232 203h2v1h-2zM235 203h1v1h-1zM237 203h2v1h-2zM244 203h1v1h-1zM247 203h1v1h-1zM249 203h1v1h-1zM218 204h1v1h-1zM220 204h3v1h-3zM225 204h3v1h-3zM230 204h4v1h-4zM236 204h2v1h-2zM240 204h5v1h-5zM218 205h2v1h-2zM223 205h1v1h-1zM225 205h2v1h-2zM228 205h13v1h-13zM243 205h1v1h-1zM248 205h1v1h-1zM218 206h1v1h-1zM220 206h4v1h-4zM225 206h7v1h-7zM234 206h5v1h-5zM241 206h1v1h-1zM252 206h1v1h-1zM218 207h5v1h-5zM225 207h1v1h-1zM227 207h4v1h-4zM232 207h4v1h-4zM238 207h1v1h-1zM240 207h1v1h-1zM243 207h2v1h-2zM247 207h1v1h-1zM249 207h1v1h-1zM218 208h1v1h-1zM221 208h4v1h-4zM226 208h4v1h-4zM231 208h4v1h-4zM236 208h1v1h-1zM239 208h1v1h-1zM241 208h2v1h-2zM244 208h1v1h-1zM247 208h1v1h-1zM249 208h1v1h-1zM252 208h1v1h-1zM218 209h3v1h-3zM222 209h1v1h-1zM224 209h2v1h-2zM227 209h5v1h-5zM233 209h4v1h-4zM238 209h2v1h-2zM242 209h2v1h-2zM246 209h1v1h-1zM249 209h1v1h-1zM218 210h1v1h-1zM220 210h1v1h-1zM222 210h4v1h-4zM230 210h2v1h-2zM233 210h4v1h-4zM238 210h1v1h-1zM240 210h3v1h-3zM249 210h1v1h-1zM219 211h1v1h-1zM221 211h1v1h-1zM224 211h1v1h-1zM227 211h1v1h-1zM229 211h5v1h-5zM235 211h6v1h-6zM219 212h1v1h-1zM221 212h4v1h-4zM227 212h1v1h-1zM229 212h2v1h-2zM232 212h1v1h-1zM234 212h2v1h-2zM237 212h1v1h-1zM240 212h1v1h-1zM243 212h1v1h-1zM219 213h1v1h-1zM222 213h1v1h-1zM224 213h3v1h-3zM228 213h1v1h-1zM230 213h1v1h-1zM234 213h1v1h-1zM236 213h2v1h-2zM240 213h1v1h-1zM244 213h1v1h-1zM246 213h1v1h-1zM220 214h4v1h-4zM226 214h4v1h-4zM231 214h1v1h-1zM233 214h2v1h-2zM237 214h4v1h-4zM242 214h1v1h-1zM244 214h1v1h-1zM247 214h1v1h-1zM249 214h1v1h-1zM219 215h8v1h-8zM228 215h2v1h-2zM234 215h2v1h-2zM238 215h1v1h-1zM240 215h2v1h-2zM243 215h2v1h-2zM251 215h1v1h-1zM220 216h1v1h-1zM222 216h1v1h-1zM224 216h3v1h-3zM229 216h1v1h-1zM231 216h1v1h-1zM233 216h2v1h-2zM239 216h3v1h-3zM246 216h1v1h-1zM219 217h3v1h-3zM223 217h5v1h-5zM230 217h5v1h-5zM238 217h1v1h-1zM242 217h1v1h-1zM221 218h6v1h-6zM230 218h1v1h-1zM232 218h1v1h-1zM234 218h1v1h-1zM240 218h2v1h-2zM221 219h1v1h-1zM223 219h5v1h-5zM229 219h3v1h-3zM233 219h1v1h-1zM235 219h2v1h-2zM239 219h1v1h-1zM241 219h1v1h-1zM243 219h2v1h-2z"/></g>
<rect x="199.4" y="139.0" width="82.6" height="82.0" fill="none" stroke="#4a4a4a" stroke-width="1.3"/>
<line x1="225.4" y1="139.0" x2="225.4" y2="221.0" stroke="#777" stroke-width="1"/>
<line x1="199.4" y1="184.0" x2="282.0" y2="184.0" stroke="#222" stroke-width="1"/>
<rect x="199.8" y="139.5" width="2.4" height="2.2" fill="#000"/>
<rect x="223.4" y="181.5" width="3" height="3" fill="#000"/>
<line x1="199.4" y1="221.0" x2="199.4" y2="225.0" stroke="#333" stroke-width="1"/>
<line x1="195.4" y1="221.0" x2="199.4" y2="221.0" stroke="#333" stroke-width="1"/>
<text class="tk" x="198.6" y="234.5" text-anchor="end" textLength="9.4" lengthAdjust="spacingAndGlyphs">10</text><text class="sp" x="199.3" y="230.6">0</text>
<text class="tk" x="190.1" y="224.6" text-anchor="end" textLength="11" lengthAdjust="spacingAndGlyphs">10</text><text class="sp" x="190.5" y="222.3">0</text>
<line x1="220.1" y1="221.0" x2="220.1" y2="225.0" stroke="#333" stroke-width="1"/>
<line x1="195.4" y1="200.5" x2="199.4" y2="200.5" stroke="#333" stroke-width="1"/>
<text class="tk" x="219.2" y="234.5" text-anchor="end" textLength="9.4" lengthAdjust="spacingAndGlyphs">10</text><text class="sp" x="220.0" y="230.6">1</text>
<text class="tk" x="190.1" y="204.1" text-anchor="end" textLength="11" lengthAdjust="spacingAndGlyphs">10</text><text class="sp" x="190.5" y="201.8">1</text>
<line x1="240.7" y1="221.0" x2="240.7" y2="225.0" stroke="#333" stroke-width="1"/>
<line x1="195.4" y1="180.0" x2="199.4" y2="180.0" stroke="#333" stroke-width="1"/>
<text class="tk" x="239.9" y="234.5" text-anchor="end" textLength="9.4" lengthAdjust="spacingAndGlyphs">10</text><text class="sp" x="240.6" y="230.6">2</text>
<text class="tk" x="190.1" y="183.6" text-anchor="end" textLength="11" lengthAdjust="spacingAndGlyphs">10</text><text class="sp" x="190.5" y="181.3">2</text>
<line x1="261.4" y1="221.0" x2="261.4" y2="225.0" stroke="#333" stroke-width="1"/>
<line x1="195.4" y1="159.5" x2="199.4" y2="159.5" stroke="#333" stroke-width="1"/>
<text class="tk" x="260.6" y="234.5" text-anchor="end" textLength="9.4" lengthAdjust="spacingAndGlyphs">10</text><text class="sp" x="261.2" y="230.6">3</text>
<text class="tk" x="190.1" y="163.1" text-anchor="end" textLength="11" lengthAdjust="spacingAndGlyphs">10</text><text class="sp" x="190.5" y="160.8">3</text>
<line x1="282.0" y1="221.0" x2="282.0" y2="225.0" stroke="#333" stroke-width="1"/>
<line x1="195.4" y1="139.0" x2="199.4" y2="139.0" stroke="#333" stroke-width="1"/>
<text class="tk" x="281.2" y="234.5" text-anchor="end" textLength="9.4" lengthAdjust="spacingAndGlyphs">10</text><text class="sp" x="281.9" y="230.6">4</text>
<text class="tk" x="190.1" y="142.6" text-anchor="end" textLength="11" lengthAdjust="spacingAndGlyphs">10</text><text class="sp" x="190.5" y="140.3">4</text>
<text class="rl" x="223.3" y="181.8" text-anchor="end">R6</text>
<text class="rl" x="226.8" y="181.8">R7</text>
<text class="rl" x="223.3" y="193.3" text-anchor="end">R8</text>
<text class="rl" x="226.8" y="193.3">R9</text>
<text class="pc" x="202.1" y="152.0" text-anchor="start">0.35%</text>
<text class="pc" x="277.8" y="152.0" text-anchor="end">0.59%</text>
<text class="pc" x="277.8" y="215.4" text-anchor="end">18.1%</text>
<g filter="url(#bl)"><path fill="#646464" d="M397 143h9v1h-9zM407 143h2v1h-2zM392 144h8v1h-8zM401 144h9v1h-9zM388 145h15v1h-15zM404 145h6v1h-6zM386 146h27v1h-27zM384 147h5v1h-5zM390 147h23v1h-23zM381 148h32v1h-32zM379 149h33v1h-33zM377 150h35v1h-35zM375 151h35v1h-35zM411 151h1v1h-1zM374 152h19v1h-19zM394 152h17v1h-17zM373 153h25v1h-25zM399 153h11v1h-11zM372 154h37v1h-37zM370 155h33v1h-33zM404 155h4v1h-4zM369 156h16v1h-16zM386 156h20v1h-20zM369 157h35v1h-35zM368 158h12v1h-12zM381 158h20v1h-20zM402 158h1v1h-1zM367 159h34v1h-34zM367 160h8v1h-8zM376 160h11v1h-11zM388 160h4v1h-4zM393 160h6v1h-6zM367 161h9v1h-9zM377 161h16v1h-16zM394 161h2v1h-2zM367 162h26v1h-26zM368 163h1v1h-1zM370 163h2v1h-2zM373 163h15v1h-15zM389 163h1v1h-1zM370 164h2v1h-2zM373 164h8v1h-8zM382 164h1v1h-1zM384 164h2v1h-2zM354 175h4v1h-4zM359 175h1v1h-1zM353 176h7v1h-7zM351 177h8v1h-8zM360 177h2v1h-2zM350 178h13v1h-13zM350 179h1v1h-1zM352 179h3v1h-3zM356 179h7v1h-7zM349 180h16v1h-16zM349 181h3v1h-3zM353 181h11v1h-11zM347 182h18v1h-18zM347 183h2v1h-2zM350 183h11v1h-11zM362 183h4v1h-4zM346 184h20v1h-20zM346 185h20v1h-20zM345 186h21v1h-21zM345 187h21v1h-21zM345 188h21v1h-21zM344 189h23v1h-23zM344 190h23v1h-23zM344 191h23v1h-23zM343 192h24v1h-24zM343 193h7v1h-7zM351 193h16v1h-16zM343 194h3v1h-3zM347 194h18v1h-18zM344 195h22v1h-22zM343 196h6v1h-6zM350 196h3v1h-3zM354 196h12v1h-12zM343 197h23v1h-23zM344 198h4v1h-4zM349 198h9v1h-9zM359 198h7v1h-7zM343 199h22v1h-22zM343 200h7v1h-7zM351 200h13v1h-13zM344 201h21v1h-21zM343 202h21v1h-21zM343 203h21v1h-21zM343 204h16v1h-16zM360 204h2v1h-2zM343 205h20v1h-20zM343 206h20v1h-20zM343 207h19v1h-19zM344 208h16v1h-16zM344 209h14v1h-14zM359 209h2v1h-2zM345 210h14v1h-14zM345 211h14v1h-14zM345 212h13v1h-13zM346 213h12v1h-12zM346 214h11v1h-11zM348 215h7v1h-7zM349 216h5v1h-5z"/>
<path fill="#404040" d="M410 138h1v1h-1zM411 140h1v1h-1zM394 141h1v1h-1zM396 141h3v1h-3zM402 141h2v1h-2zM410 141h1v1h-1zM358 142h1v1h-1zM396 142h1v1h-1zM400 142h8v1h-8zM391 143h1v1h-1zM395 143h2v1h-2zM409 143h7v1h-7zM356 144h1v1h-1zM386 144h6v1h-6zM411 144h1v1h-1zM413 144h1v1h-1zM420 144h1v1h-1zM361 145h1v1h-1zM384 145h2v1h-2zM387 145h1v1h-1zM414 145h3v1h-3zM349 146h1v1h-1zM356 146h1v1h-1zM376 146h1v1h-1zM382 146h1v1h-1zM384 146h2v1h-2zM414 146h2v1h-2zM417 146h1v1h-1zM379 147h1v1h-1zM382 147h1v1h-1zM413 147h3v1h-3zM359 148h2v1h-2zM378 148h3v1h-3zM414 148h1v1h-1zM420 148h1v1h-1zM352 149h1v1h-1zM355 149h1v1h-1zM375 149h1v1h-1zM378 149h1v1h-1zM416 149h1v1h-1zM372 150h1v1h-1zM376 150h1v1h-1zM415 150h1v1h-1zM417 150h1v1h-1zM349 151h1v1h-1zM365 151h1v1h-1zM368 151h1v1h-1zM374 151h1v1h-1zM412 151h1v1h-1zM357 152h1v1h-1zM370 152h1v1h-1zM411 152h2v1h-2zM414 152h1v1h-1zM347 153h1v1h-1zM371 153h1v1h-1zM410 153h2v1h-2zM415 153h1v1h-1zM354 154h1v1h-1zM362 154h1v1h-1zM370 154h1v1h-1zM409 154h2v1h-2zM412 154h1v1h-1zM345 155h1v1h-1zM350 155h1v1h-1zM366 155h2v1h-2zM408 155h1v1h-1zM410 155h1v1h-1zM355 156h1v1h-1zM368 156h1v1h-1zM406 156h2v1h-2zM359 157h1v1h-1zM362 157h1v1h-1zM364 157h1v1h-1zM366 157h1v1h-1zM405 157h1v1h-1zM407 157h2v1h-2zM357 158h5v1h-5zM365 158h1v1h-1zM404 158h3v1h-3zM350 159h1v1h-1zM359 159h2v1h-2zM363 159h2v1h-2zM403 159h1v1h-1zM359 160h1v1h-1zM362 160h1v1h-1zM365 160h2v1h-2zM399 160h1v1h-1zM403 160h1v1h-1zM353 161h1v1h-1zM357 161h1v1h-1zM359 161h2v1h-2zM362 161h3v1h-3zM366 161h1v1h-1zM398 161h1v1h-1zM400 161h1v1h-1zM356 162h1v1h-1zM359 162h5v1h-5zM365 162h2v1h-2zM393 162h2v1h-2zM359 163h2v1h-2zM364 163h2v1h-2zM367 163h1v1h-1zM390 163h2v1h-2zM395 163h2v1h-2zM398 163h1v1h-1zM350 164h2v1h-2zM356 164h1v1h-1zM358 164h1v1h-1zM360 164h3v1h-3zM364 164h1v1h-1zM368 164h1v1h-1zM386 164h2v1h-2zM391 164h1v1h-1zM397 164h1v1h-1zM347 165h1v1h-1zM356 165h2v1h-2zM361 165h1v1h-1zM363 165h4v1h-4zM369 165h2v1h-2zM372 165h3v1h-3zM376 165h5v1h-5zM382 165h5v1h-5zM388 165h1v1h-1zM392 165h2v1h-2zM342 166h1v1h-1zM356 166h2v1h-2zM359 166h1v1h-1zM361 166h2v1h-2zM364 166h1v1h-1zM367 166h3v1h-3zM371 166h1v1h-1zM373 166h1v1h-1zM377 166h2v1h-2zM382 166h1v1h-1zM384 166h1v1h-1zM387 166h1v1h-1zM393 166h1v1h-1zM395 166h2v1h-2zM353 167h2v1h-2zM356 167h2v1h-2zM360 167h1v1h-1zM363 167h1v1h-1zM365 167h1v1h-1zM368 167h3v1h-3zM372 167h2v1h-2zM378 167h3v1h-3zM382 167h3v1h-3zM387 167h1v1h-1zM390 167h1v1h-1zM350 168h2v1h-2zM356 168h1v1h-1zM360 168h5v1h-5zM370 168h2v1h-2zM373 168h1v1h-1zM376 168h1v1h-1zM379 168h2v1h-2zM383 168h3v1h-3zM395 168h1v1h-1zM349 169h1v1h-1zM351 169h1v1h-1zM354 169h2v1h-2zM357 169h3v1h-3zM361 169h1v1h-1zM363 169h1v1h-1zM366 169h3v1h-3zM371 169h2v1h-2zM374 169h1v1h-1zM378 169h2v1h-2zM384 169h1v1h-1zM386 169h2v1h-2zM391 169h1v1h-1zM400 169h1v1h-1zM354 170h1v1h-1zM356 170h1v1h-1zM358 170h4v1h-4zM363 170h1v1h-1zM365 170h4v1h-4zM372 170h1v1h-1zM374 170h4v1h-4zM379 170h1v1h-1zM381 170h1v1h-1zM383 170h2v1h-2zM386 170h1v1h-1zM388 170h1v1h-1zM390 170h1v1h-1zM392 170h1v1h-1zM394 170h1v1h-1zM396 170h1v1h-1zM399 170h2v1h-2zM350 171h2v1h-2zM360 171h4v1h-4zM366 171h2v1h-2zM369 171h6v1h-6zM376 171h6v1h-6zM383 171h1v1h-1zM385 171h2v1h-2zM388 171h1v1h-1zM390 171h3v1h-3zM347 172h1v1h-1zM351 172h1v1h-1zM354 172h2v1h-2zM358 172h2v1h-2zM361 172h2v1h-2zM364 172h1v1h-1zM367 172h1v1h-1zM369 172h2v1h-2zM372 172h4v1h-4zM377 172h2v1h-2zM381 172h1v1h-1zM383 172h2v1h-2zM386 172h2v1h-2zM389 172h2v1h-2zM392 172h1v1h-1zM352 173h4v1h-4zM357 173h1v1h-1zM359 173h2v1h-2zM362 173h2v1h-2zM367 173h5v1h-5zM373 173h6v1h-6zM381 173h3v1h-3zM386 173h1v1h-1zM389 173h4v1h-4zM352 174h1v1h-1zM354 174h1v1h-1zM357 174h1v1h-1zM359 174h1v1h-1zM366 174h7v1h-7zM374 174h1v1h-1zM376 174h3v1h-3zM380 174h1v1h-1zM382 174h3v1h-3zM386 174h2v1h-2zM389 174h1v1h-1zM391 174h1v1h-1zM395 174h2v1h-2zM344 175h1v1h-1zM349 175h1v1h-1zM351 175h3v1h-3zM360 175h3v1h-3zM364 175h6v1h-6zM371 175h6v1h-6zM380 175h1v1h-1zM384 175h1v1h-1zM386 175h1v1h-1zM388 175h2v1h-2zM391 175h2v1h-2zM401 175h2v1h-2zM348 176h1v1h-1zM351 176h1v1h-1zM361 176h1v1h-1zM364 176h1v1h-1zM366 176h4v1h-4zM371 176h1v1h-1zM375 176h2v1h-2zM379 176h1v1h-1zM382 176h2v1h-2zM385 176h9v1h-9zM398 176h1v1h-1zM348 177h1v1h-1zM363 177h5v1h-5zM369 177h2v1h-2zM372 177h1v1h-1zM374 177h7v1h-7zM382 177h1v1h-1zM384 177h1v1h-1zM386 177h3v1h-3zM390 177h1v1h-1zM393 177h1v1h-1zM396 177h1v1h-1zM348 178h2v1h-2zM363 178h1v1h-1zM365 178h2v1h-2zM368 178h1v1h-1zM370 178h1v1h-1zM374 178h1v1h-1zM377 178h3v1h-3zM381 178h5v1h-5zM387 178h5v1h-5zM394 178h1v1h-1zM347 179h1v1h-1zM349 179h1v1h-1zM365 179h1v1h-1zM367 179h5v1h-5zM374 179h2v1h-2zM378 179h2v1h-2zM382 179h1v1h-1zM384 179h1v1h-1zM387 179h2v1h-2zM391 179h2v1h-2zM394 179h1v1h-1zM347 180h1v1h-1zM366 180h2v1h-2zM369 180h6v1h-6zM378 180h6v1h-6zM385 180h1v1h-1zM387 180h1v1h-1zM391 180h3v1h-3zM398 180h1v1h-1zM407 180h1v1h-1zM345 181h1v1h-1zM366 181h6v1h-6zM374 181h1v1h-1zM376 181h1v1h-1zM378 181h1v1h-1zM382 181h1v1h-1zM384 181h4v1h-4zM389 181h3v1h-3zM394 181h1v1h-1zM366 182h5v1h-5zM374 182h4v1h-4zM379 182h4v1h-4zM384 182h2v1h-2zM387 182h2v1h-2zM390 182h3v1h-3zM395 182h1v1h-1zM345 183h2v1h-2zM366 183h1v1h-1zM368 183h6v1h-6zM375 183h3v1h-3zM379 183h4v1h-4zM384 183h2v1h-2zM388 183h5v1h-5zM394 183h1v1h-1zM396 183h1v1h-1zM398 183h1v1h-1zM400 183h1v1h-1zM366 184h4v1h-4zM371 184h9v1h-9zM381 184h2v1h-2zM384 184h5v1h-5zM391 184h4v1h-4zM398 184h2v1h-2zM343 185h3v1h-3zM367 185h1v1h-1zM369 185h2v1h-2zM373 185h1v1h-1zM375 185h2v1h-2zM378 185h3v1h-3zM382 185h3v1h-3zM386 185h1v1h-1zM388 185h2v1h-2zM393 185h1v1h-1zM396 185h1v1h-1zM342 186h1v1h-1zM366 186h3v1h-3zM371 186h1v1h-1zM373 186h1v1h-1zM376 186h1v1h-1zM378 186h1v1h-1zM380 186h2v1h-2zM384 186h4v1h-4zM390 186h1v1h-1zM393 186h1v1h-1zM395 186h1v1h-1zM369 187h3v1h-3zM373 187h1v1h-1zM376 187h5v1h-5zM383 187h4v1h-4zM389 187h2v1h-2zM392 187h4v1h-4zM344 188h1v1h-1zM367 188h1v1h-1zM369 188h12v1h-12zM387 188h1v1h-1zM391 188h1v1h-1zM342 189h1v1h-1zM367 189h4v1h-4zM372 189h1v1h-1zM374 189h1v1h-1zM376 189h1v1h-1zM378 189h2v1h-2zM381 189h4v1h-4zM387 189h2v1h-2zM393 189h1v1h-1zM399 189h1v1h-1zM342 190h2v1h-2zM368 190h4v1h-4zM373 190h1v1h-1zM375 190h2v1h-2zM381 190h2v1h-2zM384 190h9v1h-9zM394 190h1v1h-1zM396 190h1v1h-1zM413 190h1v1h-1zM343 191h1v1h-1zM369 191h1v1h-1zM371 191h3v1h-3zM375 191h1v1h-1zM377 191h2v1h-2zM381 191h1v1h-1zM383 191h7v1h-7zM396 191h1v1h-1zM367 192h3v1h-3zM371 192h2v1h-2zM374 192h3v1h-3zM378 192h2v1h-2zM381 192h2v1h-2zM384 192h1v1h-1zM387 192h1v1h-1zM389 192h2v1h-2zM394 192h1v1h-1zM397 192h1v1h-1zM342 193h1v1h-1zM367 193h3v1h-3zM371 193h5v1h-5zM377 193h5v1h-5zM384 193h1v1h-1zM388 193h1v1h-1zM390 193h1v1h-1zM394 193h1v1h-1zM396 193h1v1h-1zM414 193h1v1h-1zM368 194h3v1h-3zM373 194h1v1h-1zM375 194h1v1h-1zM377 194h1v1h-1zM380 194h1v1h-1zM383 194h2v1h-2zM387 194h2v1h-2zM342 195h1v1h-1zM366 195h1v1h-1zM368 195h1v1h-1zM370 195h2v1h-2zM373 195h6v1h-6zM380 195h4v1h-4zM388 195h1v1h-1zM393 195h1v1h-1zM404 195h1v1h-1zM342 196h1v1h-1zM367 196h4v1h-4zM372 196h3v1h-3zM378 196h1v1h-1zM380 196h2v1h-2zM383 196h1v1h-1zM386 196h1v1h-1zM342 197h1v1h-1zM366 197h1v1h-1zM369 197h3v1h-3zM373 197h1v1h-1zM376 197h2v1h-2zM379 197h2v1h-2zM382 197h1v1h-1zM384 197h1v1h-1zM342 198h1v1h-1zM374 198h1v1h-1zM376 198h4v1h-4zM381 198h2v1h-2zM384 198h1v1h-1zM388 198h1v1h-1zM342 199h1v1h-1zM367 199h2v1h-2zM370 199h1v1h-1zM374 199h1v1h-1zM377 199h1v1h-1zM379 199h4v1h-4zM405 199h1v1h-1zM340 200h2v1h-2zM368 200h5v1h-5zM375 200h3v1h-3zM379 200h1v1h-1zM382 200h2v1h-2zM385 200h1v1h-1zM365 201h1v1h-1zM367 201h1v1h-1zM371 201h1v1h-1zM373 201h2v1h-2zM376 201h1v1h-1zM379 201h1v1h-1zM383 201h1v1h-1zM401 201h1v1h-1zM408 201h1v1h-1zM340 202h1v1h-1zM342 202h1v1h-1zM364 202h1v1h-1zM370 202h1v1h-1zM373 202h2v1h-2zM379 202h1v1h-1zM394 202h1v1h-1zM405 202h1v1h-1zM340 203h1v1h-1zM342 203h1v1h-1zM364 203h1v1h-1zM367 203h1v1h-1zM373 203h1v1h-1zM375 203h1v1h-1zM378 203h2v1h-2zM382 203h1v1h-1zM394 203h2v1h-2zM341 204h2v1h-2zM365 204h1v1h-1zM369 204h1v1h-1zM371 204h1v1h-1zM374 204h1v1h-1zM385 204h1v1h-1zM391 204h1v1h-1zM342 205h1v1h-1zM363 205h2v1h-2zM371 205h2v1h-2zM376 205h1v1h-1zM378 205h1v1h-1zM382 205h2v1h-2zM388 205h1v1h-1zM393 205h1v1h-1zM406 205h1v1h-1zM411 205h1v1h-1zM415 205h1v1h-1zM342 206h1v1h-1zM364 206h1v1h-1zM366 206h1v1h-1zM373 206h1v1h-1zM342 207h1v1h-1zM362 207h1v1h-1zM373 207h1v1h-1zM375 207h1v1h-1zM378 207h1v1h-1zM408 207h1v1h-1zM387 208h1v1h-1zM398 208h1v1h-1zM412 208h1v1h-1zM416 208h1v1h-1zM343 209h1v1h-1zM361 209h1v1h-1zM363 209h1v1h-1zM408 209h1v1h-1zM342 210h1v1h-1zM360 210h1v1h-1zM398 210h1v1h-1zM404 210h1v1h-1zM341 211h1v1h-1zM343 211h2v1h-2zM361 211h2v1h-2zM371 211h1v1h-1zM396 211h1v1h-1zM406 211h2v1h-2zM409 211h1v1h-1zM343 212h2v1h-2zM359 212h1v1h-1zM376 212h1v1h-1zM397 212h1v1h-1zM408 212h1v1h-1zM344 213h2v1h-2zM358 213h2v1h-2zM385 213h1v1h-1zM357 214h2v1h-2zM398 214h1v1h-1zM404 214h2v1h-2zM346 215h2v1h-2zM357 215h2v1h-2zM371 215h1v1h-1zM378 215h1v1h-1zM381 215h1v1h-1zM394 215h1v1h-1zM400 215h1v1h-1zM345 216h2v1h-2zM348 216h1v1h-1zM354 216h1v1h-1zM356 216h1v1h-1zM365 216h1v1h-1zM378 216h1v1h-1zM397 216h1v1h-1zM348 217h1v1h-1zM350 217h3v1h-3zM354 217h1v1h-1zM356 217h2v1h-2zM389 217h1v1h-1zM345 218h1v1h-1zM352 218h2v1h-2zM387 218h1v1h-1zM392 218h1v1h-1zM353 219h1v1h-1zM355 219h1v1h-1zM382 219h1v1h-1z"/></g>
<rect x="339.4" y="137.4" width="83.5" height="83.5" fill="none" stroke="#4a4a4a" stroke-width="1.3"/>
<line x1="369.5" y1="137.4" x2="369.5" y2="220.9" stroke="#1a1a1a" stroke-width="1"/>
<line x1="339.4" y1="172.3" x2="422.9" y2="172.3" stroke="#333" stroke-width="1"/>
<rect x="339.8" y="137.9" width="2.4" height="2.2" fill="#000"/>
<rect x="367.5" y="169.8" width="3" height="3" fill="#000"/>
<line x1="339.4" y1="220.9" x2="339.4" y2="224.9" stroke="#333" stroke-width="1"/>
<line x1="335.4" y1="220.9" x2="339.4" y2="220.9" stroke="#333" stroke-width="1"/>
<text class="tk" x="338.6" y="234.4" text-anchor="end" textLength="9.4" lengthAdjust="spacingAndGlyphs">10</text><text class="sp" x="339.3" y="230.5">0</text>
<text class="tk" x="330.1" y="224.5" text-anchor="end" textLength="11" lengthAdjust="spacingAndGlyphs">10</text><text class="sp" x="330.5" y="222.2">0</text>
<line x1="360.3" y1="220.9" x2="360.3" y2="224.9" stroke="#333" stroke-width="1"/>
<line x1="335.4" y1="200.0" x2="339.4" y2="200.0" stroke="#333" stroke-width="1"/>
<text class="tk" x="359.5" y="234.4" text-anchor="end" textLength="9.4" lengthAdjust="spacingAndGlyphs">10</text><text class="sp" x="360.2" y="230.5">1</text>
<text class="tk" x="330.1" y="203.6" text-anchor="end" textLength="11" lengthAdjust="spacingAndGlyphs">10</text><text class="sp" x="330.5" y="201.3">1</text>
<line x1="381.1" y1="220.9" x2="381.1" y2="224.9" stroke="#333" stroke-width="1"/>
<line x1="335.4" y1="179.2" x2="339.4" y2="179.2" stroke="#333" stroke-width="1"/>
<text class="tk" x="380.3" y="234.4" text-anchor="end" textLength="9.4" lengthAdjust="spacingAndGlyphs">10</text><text class="sp" x="381.0" y="230.5">2</text>
<text class="tk" x="330.1" y="182.8" text-anchor="end" textLength="11" lengthAdjust="spacingAndGlyphs">10</text><text class="sp" x="330.5" y="180.5">2</text>
<line x1="402.0" y1="220.9" x2="402.0" y2="224.9" stroke="#333" stroke-width="1"/>
<line x1="335.4" y1="158.3" x2="339.4" y2="158.3" stroke="#333" stroke-width="1"/>
<text class="tk" x="401.2" y="234.4" text-anchor="end" textLength="9.4" lengthAdjust="spacingAndGlyphs">10</text><text class="sp" x="401.9" y="230.5">3</text>
<text class="tk" x="330.1" y="161.9" text-anchor="end" textLength="11" lengthAdjust="spacingAndGlyphs">10</text><text class="sp" x="330.5" y="159.6">3</text>
<line x1="422.9" y1="220.9" x2="422.9" y2="224.9" stroke="#333" stroke-width="1"/>
<line x1="335.4" y1="137.4" x2="339.4" y2="137.4" stroke="#333" stroke-width="1"/>
<text class="tk" x="422.1" y="234.4" text-anchor="end" textLength="9.4" lengthAdjust="spacingAndGlyphs">10</text><text class="sp" x="422.8" y="230.5">4</text>
<text class="tk" x="330.1" y="141.0" text-anchor="end" textLength="11" lengthAdjust="spacingAndGlyphs">10</text><text class="sp" x="330.5" y="138.7">4</text>
<text class="rl" x="366.8" y="168.4" text-anchor="end">R6</text>
<text class="rl" x="370.4" y="168.4">R7</text>
<text class="rl" x="366.8" y="181.7" text-anchor="end">R8</text>
<text class="rl" x="370.4" y="181.7">R9</text>
<text class="pc" x="346.0" y="148.9" text-anchor="start">1.6%</text>
<text class="pc" x="422.9" y="148.9" text-anchor="end">38.5%</text>
<text class="pc" x="422.9" y="218.3" text-anchor="end">12.5%</text>
<g filter="url(#bl)"><path fill="#646464" d="M45 261h7v1h-7zM43 262h2v1h-2zM46 262h4v1h-4zM51 262h2v1h-2zM54 262h1v1h-1zM42 263h3v1h-3zM47 263h2v1h-2zM50 263h1v1h-1zM52 263h4v1h-4zM42 264h9v1h-9zM52 264h2v1h-2zM55 264h2v1h-2zM41 265h7v1h-7zM49 265h5v1h-5zM41 266h2v1h-2zM44 266h11v1h-11zM56 266h2v1h-2zM40 267h3v1h-3zM44 267h1v1h-1zM46 267h12v1h-12zM40 268h5v1h-5zM46 268h1v1h-1zM48 268h5v1h-5zM54 268h4v1h-4zM40 269h9v1h-9zM52 269h5v1h-5zM41 270h2v1h-2zM44 270h4v1h-4zM49 270h3v1h-3zM53 270h2v1h-2zM56 270h1v1h-1zM41 271h11v1h-11zM53 271h2v1h-2zM43 272h5v1h-5zM49 272h2v1h-2zM52 272h3v1h-3zM44 273h3v1h-3zM48 273h1v1h-1zM50 273h1v1h-1zM52 273h2v1h-2zM47 274h4v1h-4zM73 285h3v1h-3zM71 286h6v1h-6zM71 287h7v1h-7zM70 288h8v1h-8zM70 289h9v1h-9zM69 290h10v1h-10zM69 291h10v1h-10zM69 292h9v1h-9zM79 292h1v1h-1zM69 293h11v1h-11zM69 294h11v1h-11zM69 295h11v1h-11zM69 296h11v1h-11zM44 297h8v1h-8zM68 297h12v1h-12zM41 298h2v1h-2zM44 298h9v1h-9zM68 298h1v1h-1zM70 298h10v1h-10zM40 299h5v1h-5zM46 299h9v1h-9zM68 299h12v1h-12zM40 300h1v1h-1zM42 300h13v1h-13zM68 300h9v1h-9zM78 300h3v1h-3zM39 301h17v1h-17zM68 301h2v1h-2zM71 301h10v1h-10zM39 302h6v1h-6zM46 302h11v1h-11zM68 302h13v1h-13zM39 303h19v1h-19zM68 303h13v1h-13zM39 304h19v1h-19zM67 304h14v1h-14zM39 305h19v1h-19zM68 305h13v1h-13zM40 306h1v1h-1zM42 306h17v1h-17zM68 306h12v1h-12zM39 307h20v1h-20zM68 307h13v1h-13zM39 308h20v1h-20zM68 308h1v1h-1zM70 308h11v1h-11zM39 309h20v1h-20zM68 309h2v1h-2zM71 309h10v1h-10zM39 310h20v1h-20zM68 310h12v1h-12zM39 311h11v1h-11zM52 311h7v1h-7zM68 311h13v1h-13zM39 312h20v1h-20zM68 312h10v1h-10zM79 312h1v1h-1zM39 313h9v1h-9zM49 313h9v1h-9zM68 313h13v1h-13zM39 314h20v1h-20zM68 314h13v1h-13zM40 315h19v1h-19zM68 315h12v1h-12zM39 316h17v1h-17zM57 316h3v1h-3zM68 316h12v1h-12zM39 317h20v1h-20zM68 317h12v1h-12zM39 318h21v1h-21zM68 318h12v1h-12zM39 319h16v1h-16zM56 319h2v1h-2zM59 319h1v1h-1zM68 319h6v1h-6zM75 319h5v1h-5zM39 320h5v1h-5zM45 320h15v1h-15zM68 320h8v1h-8zM77 320h3v1h-3zM39 321h6v1h-6zM46 321h14v1h-14zM70 321h10v1h-10zM39 322h16v1h-16zM57 322h2v1h-2zM68 322h2v1h-2zM71 322h9v1h-9zM39 323h20v1h-20zM69 323h11v1h-11zM39 324h7v1h-7zM47 324h3v1h-3zM51 324h1v1h-1zM53 324h2v1h-2zM56 324h3v1h-3zM69 324h10v1h-10zM39 325h19v1h-19zM69 325h10v1h-10zM39 326h20v1h-20zM70 326h3v1h-3zM74 326h5v1h-5zM39 327h20v1h-20zM70 327h9v1h-9zM39 328h20v1h-20zM70 328h8v1h-8z"/>
<path fill="#404040" d="M59 253h1v1h-1zM101 253h1v1h-1zM87 256h1v1h-1zM51 257h1v1h-1zM53 258h2v1h-2zM41 259h1v1h-1zM43 259h1v1h-1zM45 259h4v1h-4zM50 259h3v1h-3zM55 259h1v1h-1zM41 260h5v1h-5zM47 260h2v1h-2zM50 260h2v1h-2zM56 260h3v1h-3zM40 261h1v1h-1zM42 261h1v1h-1zM44 261h1v1h-1zM56 261h2v1h-2zM41 262h2v1h-2zM56 262h3v1h-3zM39 263h3v1h-3zM40 264h1v1h-1zM57 264h2v1h-2zM61 264h1v1h-1zM74 264h1v1h-1zM39 265h2v1h-2zM57 265h1v1h-1zM39 266h1v1h-1zM58 266h2v1h-2zM39 267h1v1h-1zM58 267h1v1h-1zM89 267h1v1h-1zM39 268h1v1h-1zM59 268h1v1h-1zM61 268h1v1h-1zM57 269h2v1h-2zM61 269h1v1h-1zM40 270h1v1h-1zM58 270h3v1h-3zM62 270h1v1h-1zM65 270h1v1h-1zM39 271h2v1h-2zM56 271h2v1h-2zM108 271h1v1h-1zM40 272h2v1h-2zM55 272h1v1h-1zM70 272h1v1h-1zM95 272h1v1h-1zM40 273h1v1h-1zM43 273h1v1h-1zM54 273h3v1h-3zM41 274h1v1h-1zM43 274h2v1h-2zM46 274h1v1h-1zM51 274h4v1h-4zM56 274h1v1h-1zM60 274h1v1h-1zM46 275h5v1h-5zM52 275h1v1h-1zM81 275h1v1h-1zM44 276h1v1h-1zM48 276h3v1h-3zM52 276h1v1h-1zM47 277h2v1h-2zM69 277h1v1h-1zM74 277h1v1h-1zM95 277h1v1h-1zM97 277h1v1h-1zM108 277h1v1h-1zM56 278h1v1h-1zM67 278h1v1h-1zM43 279h1v1h-1zM45 279h1v1h-1zM48 279h1v1h-1zM54 279h1v1h-1zM65 280h1v1h-1zM97 280h1v1h-1zM52 281h1v1h-1zM74 281h1v1h-1zM51 282h1v1h-1zM63 282h1v1h-1zM72 282h1v1h-1zM74 282h1v1h-1zM76 282h1v1h-1zM50 283h1v1h-1zM73 283h3v1h-3zM100 283h1v1h-1zM106 283h1v1h-1zM42 284h1v1h-1zM53 284h1v1h-1zM65 284h1v1h-1zM70 284h1v1h-1zM72 284h2v1h-2zM77 284h1v1h-1zM103 284h1v1h-1zM56 285h1v1h-1zM66 285h1v1h-1zM68 285h1v1h-1zM71 285h1v1h-1zM76 285h2v1h-2zM110 285h1v1h-1zM54 286h1v1h-1zM58 286h2v1h-2zM62 286h1v1h-1zM64 286h2v1h-2zM69 286h2v1h-2zM77 286h2v1h-2zM39 287h1v1h-1zM45 287h1v1h-1zM47 287h1v1h-1zM52 287h1v1h-1zM58 287h1v1h-1zM61 287h1v1h-1zM70 287h1v1h-1zM81 287h1v1h-1zM50 288h1v1h-1zM54 288h1v1h-1zM60 288h1v1h-1zM65 288h1v1h-1zM69 288h1v1h-1zM78 288h3v1h-3zM82 288h1v1h-1zM44 289h1v1h-1zM47 289h1v1h-1zM54 289h1v1h-1zM59 289h1v1h-1zM63 289h1v1h-1zM67 289h1v1h-1zM69 289h1v1h-1zM79 289h1v1h-1zM93 289h1v1h-1zM111 289h1v1h-1zM40 290h1v1h-1zM43 290h1v1h-1zM52 290h1v1h-1zM57 290h1v1h-1zM59 290h3v1h-3zM67 290h2v1h-2zM79 290h2v1h-2zM41 291h1v1h-1zM46 291h1v1h-1zM49 291h1v1h-1zM53 291h1v1h-1zM59 291h2v1h-2zM65 291h1v1h-1zM68 291h1v1h-1zM43 292h2v1h-2zM47 292h1v1h-1zM56 292h1v1h-1zM58 292h1v1h-1zM62 292h1v1h-1zM64 292h2v1h-2zM68 292h1v1h-1zM43 293h1v1h-1zM49 293h1v1h-1zM51 293h1v1h-1zM53 293h1v1h-1zM57 293h1v1h-1zM59 293h1v1h-1zM62 293h4v1h-4zM68 293h1v1h-1zM104 293h1v1h-1zM41 294h1v1h-1zM46 294h1v1h-1zM48 294h2v1h-2zM51 294h1v1h-1zM59 294h6v1h-6zM46 295h2v1h-2zM50 295h1v1h-1zM53 295h1v1h-1zM57 295h2v1h-2zM62 295h2v1h-2zM66 295h1v1h-1zM80 295h1v1h-1zM88 295h1v1h-1zM105 295h1v1h-1zM39 296h1v1h-1zM41 296h1v1h-1zM45 296h6v1h-6zM55 296h1v1h-1zM57 296h1v1h-1zM63 296h5v1h-5zM80 296h1v1h-1zM41 297h1v1h-1zM55 297h4v1h-4zM60 297h3v1h-3zM64 297h2v1h-2zM67 297h1v1h-1zM80 297h1v1h-1zM39 298h2v1h-2zM53 298h2v1h-2zM56 298h2v1h-2zM61 298h4v1h-4zM66 298h2v1h-2zM39 299h1v1h-1zM56 299h1v1h-1zM59 299h1v1h-1zM61 299h1v1h-1zM64 299h4v1h-4zM80 299h1v1h-1zM55 300h2v1h-2zM58 300h3v1h-3zM62 300h1v1h-1zM64 300h1v1h-1zM66 300h2v1h-2zM56 301h7v1h-7zM64 301h1v1h-1zM66 301h2v1h-2zM88 301h1v1h-1zM58 302h4v1h-4zM64 302h1v1h-1zM66 302h2v1h-2zM81 302h1v1h-1zM58 303h1v1h-1zM60 303h6v1h-6zM59 304h4v1h-4zM65 304h2v1h-2zM60 305h3v1h-3zM65 305h3v1h-3zM81 305h1v1h-1zM59 306h1v1h-1zM64 306h3v1h-3zM59 307h1v1h-1zM62 307h1v1h-1zM66 307h2v1h-2zM59 308h2v1h-2zM63 308h3v1h-3zM60 309h1v1h-1zM63 309h4v1h-4zM102 309h1v1h-1zM60 310h1v1h-1zM62 310h2v1h-2zM66 310h2v1h-2zM81 310h2v1h-2zM59 311h2v1h-2zM64 311h4v1h-4zM81 311h1v1h-1zM59 312h1v1h-1zM63 312h1v1h-1zM66 312h2v1h-2zM59 313h2v1h-2zM63 313h1v1h-1zM66 313h2v1h-2zM81 313h1v1h-1zM59 314h1v1h-1zM63 314h2v1h-2zM60 315h1v1h-1zM65 315h3v1h-3zM81 315h1v1h-1zM60 316h2v1h-2zM67 316h1v1h-1zM80 316h2v1h-2zM60 317h1v1h-1zM64 317h1v1h-1zM66 317h2v1h-2zM61 318h1v1h-1zM63 318h1v1h-1zM67 318h1v1h-1zM63 319h1v1h-1zM66 319h2v1h-2zM80 319h1v1h-1zM60 320h1v1h-1zM62 320h2v1h-2zM65 320h2v1h-2zM80 320h1v1h-1zM60 321h1v1h-1zM63 321h1v1h-1zM67 321h1v1h-1zM80 321h2v1h-2zM62 322h1v1h-1zM67 322h1v1h-1zM80 322h1v1h-1zM62 323h1v1h-1zM65 323h1v1h-1zM67 323h2v1h-2zM80 323h1v1h-1zM59 324h1v1h-1zM61 324h1v1h-1zM64 324h4v1h-4zM79 324h1v1h-1zM62 325h1v1h-1zM65 325h1v1h-1zM68 325h1v1h-1zM79 325h1v1h-1zM59 326h2v1h-2zM64 326h1v1h-1zM68 326h2v1h-2zM79 326h1v1h-1zM59 327h1v1h-1zM61 327h1v1h-1zM66 327h3v1h-3zM60 328h2v1h-2zM66 328h1v1h-1zM69 328h1v1h-1zM79 328h1v1h-1z"/></g>
<rect x="38.0" y="248.0" width="82.2" height="81.7" fill="none" stroke="#4a4a4a" stroke-width="1.3"/>
<line x1="67.1" y1="248.0" x2="67.1" y2="329.7" stroke="#1a1a1a" stroke-width="1"/>
<line x1="38.0" y1="285.8" x2="120.2" y2="285.8" stroke="#333" stroke-width="1"/>
<rect x="38.4" y="248.5" width="2.4" height="2.2" fill="#000"/>
<rect x="65.1" y="283.3" width="3" height="3" fill="#000"/>
<line x1="38.0" y1="329.7" x2="38.0" y2="333.7" stroke="#333" stroke-width="1"/>
<line x1="34.0" y1="329.7" x2="38.0" y2="329.7" stroke="#333" stroke-width="1"/>
<text class="tk" x="37.2" y="343.2" text-anchor="end" textLength="9.4" lengthAdjust="spacingAndGlyphs">10</text><text class="sp" x="37.9" y="339.3">0</text>
<text class="tk" x="28.7" y="333.3" text-anchor="end" textLength="11" lengthAdjust="spacingAndGlyphs">10</text><text class="sp" x="29.1" y="331.0">0</text>
<line x1="58.5" y1="329.7" x2="58.5" y2="333.7" stroke="#333" stroke-width="1"/>
<line x1="34.0" y1="309.3" x2="38.0" y2="309.3" stroke="#333" stroke-width="1"/>
<text class="tk" x="57.8" y="343.2" text-anchor="end" textLength="9.4" lengthAdjust="spacingAndGlyphs">10</text><text class="sp" x="58.4" y="339.3">1</text>
<text class="tk" x="28.7" y="312.9" text-anchor="end" textLength="11" lengthAdjust="spacingAndGlyphs">10</text><text class="sp" x="29.1" y="310.6">1</text>
<line x1="79.1" y1="329.7" x2="79.1" y2="333.7" stroke="#333" stroke-width="1"/>
<line x1="34.0" y1="288.9" x2="38.0" y2="288.9" stroke="#333" stroke-width="1"/>
<text class="tk" x="78.3" y="343.2" text-anchor="end" textLength="9.4" lengthAdjust="spacingAndGlyphs">10</text><text class="sp" x="79.0" y="339.3">2</text>
<text class="tk" x="28.7" y="292.5" text-anchor="end" textLength="11" lengthAdjust="spacingAndGlyphs">10</text><text class="sp" x="29.1" y="290.2">2</text>
<line x1="99.7" y1="329.7" x2="99.7" y2="333.7" stroke="#333" stroke-width="1"/>
<line x1="34.0" y1="268.4" x2="38.0" y2="268.4" stroke="#333" stroke-width="1"/>
<text class="tk" x="98.9" y="343.2" text-anchor="end" textLength="9.4" lengthAdjust="spacingAndGlyphs">10</text><text class="sp" x="99.6" y="339.3">3</text>
<text class="tk" x="28.7" y="272.0" text-anchor="end" textLength="11" lengthAdjust="spacingAndGlyphs">10</text><text class="sp" x="29.1" y="269.7">3</text>
<line x1="120.2" y1="329.7" x2="120.2" y2="333.7" stroke="#333" stroke-width="1"/>
<line x1="34.0" y1="248.0" x2="38.0" y2="248.0" stroke="#333" stroke-width="1"/>
<text class="tk" x="119.4" y="343.2" text-anchor="end" textLength="9.4" lengthAdjust="spacingAndGlyphs">10</text><text class="sp" x="120.1" y="339.3">4</text>
<text class="tk" x="28.7" y="251.6" text-anchor="end" textLength="11" lengthAdjust="spacingAndGlyphs">10</text><text class="sp" x="29.1" y="249.3">4</text>
<text class="rl" x="64.8" y="283.3" text-anchor="end">R6</text>
<text class="rl" x="69.3" y="283.3">R7</text>
<text class="rl" x="64.8" y="296.4" text-anchor="end">R8</text>
<text class="rl" x="69.3" y="296.4">R9</text>
<text class="pc" x="42.7" y="256.8" text-anchor="start">7.4%</text>
<text class="pc" x="112.6" y="326.5" text-anchor="end">25.7%</text>
<g filter="url(#bl)"><path fill="#646464" d="M221 302h1v1h-1zM224 302h1v1h-1zM217 303h9v1h-9zM227 303h1v1h-1zM213 304h14v1h-14zM228 304h1v1h-1zM212 305h3v1h-3zM216 305h14v1h-14zM210 306h5v1h-5zM216 306h15v1h-15zM209 307h22v1h-22zM207 308h25v1h-25zM206 309h26v1h-26zM207 310h6v1h-6zM214 310h19v1h-19zM206 311h27v1h-27zM204 312h27v1h-27zM232 312h1v1h-1zM203 313h28v1h-28zM232 313h1v1h-1zM203 314h29v1h-29zM202 315h30v1h-30zM202 316h14v1h-14zM217 316h16v1h-16zM203 317h23v1h-23zM227 317h5v1h-5zM201 318h29v1h-29zM231 318h1v1h-1zM202 319h13v1h-13zM216 319h16v1h-16zM201 320h30v1h-30zM201 321h16v1h-16zM218 321h13v1h-13zM201 322h8v1h-8zM210 322h10v1h-10zM221 322h9v1h-9zM202 323h5v1h-5zM208 323h22v1h-22zM202 324h4v1h-4zM207 324h21v1h-21zM201 325h4v1h-4zM206 325h22v1h-22zM201 326h12v1h-12zM214 326h2v1h-2zM217 326h9v1h-9zM202 327h19v1h-19zM222 327h3v1h-3z"/>
<path fill="#404040" d="M239 252h1v1h-1zM256 255h1v1h-1zM219 257h1v1h-1zM204 261h1v1h-1zM209 261h1v1h-1zM218 263h1v1h-1zM224 263h1v1h-1zM201 264h2v1h-2zM209 265h1v1h-1zM215 266h1v1h-1zM218 266h1v1h-1zM205 268h1v1h-1zM207 270h1v1h-1zM212 271h1v1h-1zM221 271h1v1h-1zM200 274h1v1h-1zM224 275h1v1h-1zM208 277h1v1h-1zM224 278h1v1h-1zM217 279h2v1h-2zM231 279h2v1h-2zM234 279h1v1h-1zM230 280h1v1h-1zM234 280h3v1h-3zM219 281h2v1h-2zM222 281h1v1h-1zM226 281h1v1h-1zM229 281h2v1h-2zM234 281h1v1h-1zM218 282h1v1h-1zM222 282h1v1h-1zM225 282h1v1h-1zM229 282h1v1h-1zM241 282h1v1h-1zM243 282h1v1h-1zM211 283h2v1h-2zM223 283h1v1h-1zM229 283h1v1h-1zM233 283h1v1h-1zM236 283h3v1h-3zM240 283h1v1h-1zM212 284h1v1h-1zM217 284h2v1h-2zM220 284h1v1h-1zM223 284h1v1h-1zM227 284h3v1h-3zM231 284h1v1h-1zM234 284h2v1h-2zM239 284h1v1h-1zM245 284h1v1h-1zM211 285h1v1h-1zM232 285h1v1h-1zM235 285h2v1h-2zM212 286h2v1h-2zM216 286h1v1h-1zM228 286h1v1h-1zM232 286h1v1h-1zM237 286h2v1h-2zM207 287h1v1h-1zM209 287h1v1h-1zM211 287h1v1h-1zM219 287h1v1h-1zM205 288h1v1h-1zM211 288h1v1h-1zM215 288h1v1h-1zM219 288h1v1h-1zM222 288h4v1h-4zM227 288h1v1h-1zM231 288h1v1h-1zM233 288h2v1h-2zM202 289h1v1h-1zM216 289h1v1h-1zM219 289h1v1h-1zM227 289h1v1h-1zM235 289h2v1h-2zM238 289h1v1h-1zM240 289h1v1h-1zM244 289h1v1h-1zM277 289h1v1h-1zM214 290h1v1h-1zM216 290h2v1h-2zM224 290h2v1h-2zM227 290h1v1h-1zM232 290h1v1h-1zM234 290h1v1h-1zM238 290h1v1h-1zM240 290h2v1h-2zM204 291h1v1h-1zM207 291h1v1h-1zM215 291h1v1h-1zM219 291h1v1h-1zM222 291h1v1h-1zM225 291h1v1h-1zM227 291h1v1h-1zM229 291h1v1h-1zM236 291h2v1h-2zM239 291h1v1h-1zM242 291h2v1h-2zM201 292h1v1h-1zM205 292h1v1h-1zM207 292h3v1h-3zM211 292h1v1h-1zM221 292h1v1h-1zM223 292h1v1h-1zM225 292h1v1h-1zM229 292h3v1h-3zM234 292h1v1h-1zM236 292h1v1h-1zM203 293h1v1h-1zM209 293h2v1h-2zM212 293h1v1h-1zM215 293h1v1h-1zM220 293h1v1h-1zM225 293h1v1h-1zM227 293h1v1h-1zM230 293h2v1h-2zM234 293h1v1h-1zM236 293h3v1h-3zM240 293h1v1h-1zM208 294h1v1h-1zM210 294h1v1h-1zM213 294h1v1h-1zM224 294h1v1h-1zM227 294h2v1h-2zM230 294h1v1h-1zM234 294h3v1h-3zM239 294h3v1h-3zM209 295h1v1h-1zM212 295h1v1h-1zM218 295h1v1h-1zM220 295h2v1h-2zM223 295h1v1h-1zM227 295h1v1h-1zM229 295h4v1h-4zM243 295h1v1h-1zM203 296h3v1h-3zM209 296h1v1h-1zM212 296h1v1h-1zM219 296h1v1h-1zM228 296h1v1h-1zM230 296h1v1h-1zM233 296h2v1h-2zM236 296h1v1h-1zM240 296h1v1h-1zM243 296h1v1h-1zM200 297h1v1h-1zM202 297h1v1h-1zM205 297h1v1h-1zM207 297h1v1h-1zM217 297h2v1h-2zM222 297h2v1h-2zM225 297h3v1h-3zM230 297h1v1h-1zM232 297h1v1h-1zM234 297h5v1h-5zM248 297h1v1h-1zM200 298h1v1h-1zM203 298h1v1h-1zM210 298h1v1h-1zM212 298h1v1h-1zM217 298h2v1h-2zM220 298h1v1h-1zM222 298h2v1h-2zM226 298h1v1h-1zM228 298h2v1h-2zM231 298h1v1h-1zM234 298h2v1h-2zM238 298h1v1h-1zM240 298h2v1h-2zM244 298h1v1h-1zM209 299h1v1h-1zM218 299h1v1h-1zM220 299h1v1h-1zM223 299h3v1h-3zM228 299h1v1h-1zM230 299h2v1h-2zM233 299h1v1h-1zM236 299h3v1h-3zM241 299h1v1h-1zM243 299h1v1h-1zM206 300h1v1h-1zM209 300h1v1h-1zM212 300h1v1h-1zM217 300h1v1h-1zM221 300h1v1h-1zM223 300h4v1h-4zM229 300h1v1h-1zM231 300h1v1h-1zM233 300h2v1h-2zM236 300h1v1h-1zM238 300h1v1h-1zM241 300h1v1h-1zM246 300h1v1h-1zM203 301h1v1h-1zM205 301h3v1h-3zM211 301h4v1h-4zM217 301h3v1h-3zM221 301h1v1h-1zM224 301h2v1h-2zM227 301h6v1h-6zM234 301h1v1h-1zM236 301h2v1h-2zM241 301h1v1h-1zM243 301h1v1h-1zM245 301h1v1h-1zM249 301h2v1h-2zM201 302h2v1h-2zM204 302h1v1h-1zM207 302h1v1h-1zM209 302h2v1h-2zM212 302h5v1h-5zM219 302h2v1h-2zM225 302h2v1h-2zM228 302h2v1h-2zM231 302h8v1h-8zM243 302h2v1h-2zM200 303h1v1h-1zM202 303h2v1h-2zM207 303h1v1h-1zM210 303h1v1h-1zM212 303h1v1h-1zM214 303h3v1h-3zM228 303h2v1h-2zM231 303h3v1h-3zM235 303h8v1h-8zM244 303h1v1h-1zM247 303h1v1h-1zM256 303h1v1h-1zM200 304h1v1h-1zM203 304h1v1h-1zM205 304h1v1h-1zM207 304h1v1h-1zM209 304h1v1h-1zM230 304h2v1h-2zM233 304h2v1h-2zM238 304h1v1h-1zM240 304h3v1h-3zM245 304h1v1h-1zM249 304h1v1h-1zM251 304h1v1h-1zM202 305h2v1h-2zM207 305h2v1h-2zM210 305h1v1h-1zM230 305h2v1h-2zM235 305h2v1h-2zM239 305h1v1h-1zM241 305h2v1h-2zM245 305h1v1h-1zM247 305h2v1h-2zM200 306h1v1h-1zM202 306h2v1h-2zM206 306h1v1h-1zM208 306h1v1h-1zM233 306h2v1h-2zM236 306h2v1h-2zM242 306h2v1h-2zM245 306h2v1h-2zM250 306h1v1h-1zM201 307h1v1h-1zM203 307h2v1h-2zM207 307h2v1h-2zM231 307h1v1h-1zM233 307h4v1h-4zM238 307h2v1h-2zM241 307h3v1h-3zM247 307h2v1h-2zM200 308h2v1h-2zM233 308h4v1h-4zM240 308h5v1h-5zM249 308h1v1h-1zM205 309h1v1h-1zM232 309h3v1h-3zM236 309h2v1h-2zM239 309h3v1h-3zM244 309h1v1h-1zM250 309h1v1h-1zM205 310h1v1h-1zM233 310h1v1h-1zM235 310h1v1h-1zM238 310h2v1h-2zM244 310h2v1h-2zM248 310h2v1h-2zM251 310h1v1h-1zM202 311h1v1h-1zM204 311h1v1h-1zM233 311h4v1h-4zM239 311h1v1h-1zM242 311h3v1h-3zM246 311h1v1h-1zM248 311h1v1h-1zM203 312h1v1h-1zM233 312h2v1h-2zM238 312h4v1h-4zM244 312h2v1h-2zM247 312h2v1h-2zM201 313h2v1h-2zM233 313h1v1h-1zM235 313h1v1h-1zM238 313h2v1h-2zM242 313h3v1h-3zM246 313h2v1h-2zM200 314h1v1h-1zM202 314h1v1h-1zM233 314h8v1h-8zM242 314h2v1h-2zM245 314h3v1h-3zM250 314h1v1h-1zM253 314h1v1h-1zM200 315h2v1h-2zM233 315h2v1h-2zM236 315h1v1h-1zM238 315h2v1h-2zM241 315h1v1h-1zM245 315h2v1h-2zM250 315h1v1h-1zM200 316h2v1h-2zM233 316h1v1h-1zM235 316h4v1h-4zM241 316h2v1h-2zM245 316h2v1h-2zM200 317h2v1h-2zM232 317h2v1h-2zM239 317h1v1h-1zM242 317h3v1h-3zM232 318h2v1h-2zM235 318h1v1h-1zM237 318h1v1h-1zM239 318h6v1h-6zM246 318h1v1h-1zM200 319h1v1h-1zM233 319h2v1h-2zM236 319h4v1h-4zM242 319h2v1h-2zM231 320h1v1h-1zM233 320h1v1h-1zM235 320h3v1h-3zM241 320h3v1h-3zM245 320h1v1h-1zM200 321h1v1h-1zM231 321h1v1h-1zM233 321h1v1h-1zM236 321h1v1h-1zM238 321h2v1h-2zM241 321h2v1h-2zM244 321h1v1h-1zM246 321h2v1h-2zM200 322h1v1h-1zM230 322h3v1h-3zM235 322h8v1h-8zM200 323h1v1h-1zM230 323h2v1h-2zM233 323h1v1h-1zM236 323h1v1h-1zM241 323h1v1h-1zM245 323h1v1h-1zM200 324h1v1h-1zM229 324h1v1h-1zM231 324h1v1h-1zM234 324h1v1h-1zM237 324h2v1h-2zM240 324h1v1h-1zM200 325h1v1h-1zM229 325h2v1h-2zM234 325h1v1h-1zM237 325h2v1h-2zM241 325h1v1h-1zM228 326h2v1h-2zM234 326h1v1h-1zM236 326h1v1h-1zM201 327h1v1h-1zM225 327h1v1h-1zM228 327h2v1h-2zM233 327h1v1h-1z"/></g>
<rect x="199.8" y="247.0" width="82.2" height="81.7" fill="none" stroke="#4a4a4a" stroke-width="1.3"/>
<line x1="226.0" y1="247.0" x2="226.0" y2="328.7" stroke="#666" stroke-width="1"/>
<line x1="199.8" y1="292.4" x2="282.0" y2="292.4" stroke="#555" stroke-width="1"/>
<rect x="200.2" y="247.5" width="2.4" height="2.2" fill="#000"/>
<rect x="224.0" y="289.9" width="3" height="3" fill="#000"/>
<line x1="199.8" y1="328.7" x2="199.8" y2="332.7" stroke="#333" stroke-width="1"/>
<line x1="195.8" y1="328.7" x2="199.8" y2="328.7" stroke="#333" stroke-width="1"/>
<text class="tk" x="199.0" y="342.2" text-anchor="end" textLength="9.4" lengthAdjust="spacingAndGlyphs">10</text><text class="sp" x="199.7" y="338.3">0</text>
<text class="tk" x="190.5" y="332.3" text-anchor="end" textLength="11" lengthAdjust="spacingAndGlyphs">10</text><text class="sp" x="190.9" y="330.0">0</text>
<line x1="220.4" y1="328.7" x2="220.4" y2="332.7" stroke="#333" stroke-width="1"/>
<line x1="195.8" y1="308.3" x2="199.8" y2="308.3" stroke="#333" stroke-width="1"/>
<text class="tk" x="219.6" y="342.2" text-anchor="end" textLength="9.4" lengthAdjust="spacingAndGlyphs">10</text><text class="sp" x="220.3" y="338.3">1</text>
<text class="tk" x="190.5" y="311.9" text-anchor="end" textLength="11" lengthAdjust="spacingAndGlyphs">10</text><text class="sp" x="190.9" y="309.6">1</text>
<line x1="240.9" y1="328.7" x2="240.9" y2="332.7" stroke="#333" stroke-width="1"/>
<line x1="195.8" y1="287.9" x2="199.8" y2="287.9" stroke="#333" stroke-width="1"/>
<text class="tk" x="240.1" y="342.2" text-anchor="end" textLength="9.4" lengthAdjust="spacingAndGlyphs">10</text><text class="sp" x="240.8" y="338.3">2</text>
<text class="tk" x="190.5" y="291.5" text-anchor="end" textLength="11" lengthAdjust="spacingAndGlyphs">10</text><text class="sp" x="190.9" y="289.2">2</text>
<line x1="261.4" y1="328.7" x2="261.4" y2="332.7" stroke="#333" stroke-width="1"/>
<line x1="195.8" y1="267.4" x2="199.8" y2="267.4" stroke="#333" stroke-width="1"/>
<text class="tk" x="260.6" y="342.2" text-anchor="end" textLength="9.4" lengthAdjust="spacingAndGlyphs">10</text><text class="sp" x="261.3" y="338.3">3</text>
<text class="tk" x="190.5" y="271.0" text-anchor="end" textLength="11" lengthAdjust="spacingAndGlyphs">10</text><text class="sp" x="190.9" y="268.7">3</text>
<line x1="282.0" y1="328.7" x2="282.0" y2="332.7" stroke="#333" stroke-width="1"/>
<line x1="195.8" y1="247.0" x2="199.8" y2="247.0" stroke="#333" stroke-width="1"/>
<text class="tk" x="281.2" y="342.2" text-anchor="end" textLength="9.4" lengthAdjust="spacingAndGlyphs">10</text><text class="sp" x="281.9" y="338.3">4</text>
<text class="tk" x="190.5" y="250.6" text-anchor="end" textLength="11" lengthAdjust="spacingAndGlyphs">10</text><text class="sp" x="190.9" y="248.3">4</text>
<text class="rl" x="223.3" y="290.7" text-anchor="end">R6</text>
<text class="rl" x="227.7" y="290.7">R7</text>
<text class="rl" x="223.3" y="301.3" text-anchor="end">R8</text>
<text class="rl" x="227.7" y="301.3">R9</text>
<text class="pc" x="200.3" y="258.3" text-anchor="start">0.49%</text>
<text class="pc" x="275.5" y="258.3" text-anchor="end">1.21%</text>
<text class="pc" x="277.8" y="328.2" text-anchor="end">30.4%</text>
<g filter="url(#bl)"><path fill="#646464" d="M407 254h2v1h-2zM401 255h12v1h-12zM397 256h1v1h-1zM399 256h12v1h-12zM394 257h2v1h-2zM397 257h3v1h-3zM401 257h10v1h-10zM412 257h1v1h-1zM414 257h1v1h-1zM392 258h2v1h-2zM395 258h16v1h-16zM412 258h1v1h-1zM414 258h1v1h-1zM390 259h1v1h-1zM392 259h10v1h-10zM403 259h6v1h-6zM410 259h2v1h-2zM414 259h1v1h-1zM388 260h4v1h-4zM393 260h15v1h-15zM409 260h5v1h-5zM387 261h12v1h-12zM400 261h3v1h-3zM404 261h4v1h-4zM409 261h6v1h-6zM384 262h1v1h-1zM386 262h1v1h-1zM388 262h25v1h-25zM383 263h5v1h-5zM389 263h10v1h-10zM400 263h13v1h-13zM382 264h1v1h-1zM384 264h29v1h-29zM380 265h20v1h-20zM401 265h10v1h-10zM379 266h6v1h-6zM386 266h7v1h-7zM394 266h1v1h-1zM396 266h14v1h-14zM378 267h31v1h-31zM378 268h2v1h-2zM381 268h20v1h-20zM403 268h2v1h-2zM406 268h2v1h-2zM376 269h2v1h-2zM379 269h2v1h-2zM382 269h5v1h-5zM388 269h12v1h-12zM401 269h6v1h-6zM375 270h16v1h-16zM392 270h7v1h-7zM400 270h4v1h-4zM405 270h1v1h-1zM374 271h8v1h-8zM383 271h3v1h-3zM387 271h15v1h-15zM403 271h1v1h-1zM373 272h3v1h-3zM377 272h7v1h-7zM385 272h17v1h-17zM373 273h25v1h-25zM399 273h2v1h-2zM373 274h1v1h-1zM375 274h7v1h-7zM383 274h16v1h-16zM373 275h2v1h-2zM376 275h4v1h-4zM381 275h5v1h-5zM387 275h9v1h-9zM373 276h6v1h-6zM380 276h1v1h-1zM382 276h8v1h-8zM391 276h3v1h-3zM373 277h4v1h-4zM378 277h9v1h-9zM388 277h3v1h-3zM374 278h1v1h-1zM377 278h2v1h-2zM380 278h1v1h-1zM382 278h5v1h-5zM376 279h1v1h-1zM378 279h5v1h-5zM358 285h3v1h-3zM355 286h2v1h-2zM358 286h3v1h-3zM362 286h2v1h-2zM356 287h5v1h-5zM362 287h1v1h-1zM364 287h1v1h-1zM352 288h1v1h-1zM355 288h5v1h-5zM361 288h2v1h-2zM364 288h2v1h-2zM351 289h7v1h-7zM359 289h1v1h-1zM361 289h5v1h-5zM351 290h7v1h-7zM359 290h6v1h-6zM351 291h12v1h-12zM364 291h3v1h-3zM349 292h7v1h-7zM357 292h11v1h-11zM350 293h4v1h-4zM355 293h13v1h-13zM348 294h20v1h-20zM348 295h3v1h-3zM352 295h17v1h-17zM347 296h1v1h-1zM349 296h10v1h-10zM360 296h8v1h-8zM346 297h2v1h-2zM349 297h16v1h-16zM367 297h3v1h-3zM346 298h24v1h-24zM346 299h1v1h-1zM348 299h1v1h-1zM350 299h13v1h-13zM364 299h7v1h-7zM345 300h26v1h-26zM345 301h24v1h-24zM370 301h1v1h-1zM346 302h13v1h-13zM360 302h8v1h-8zM369 302h1v1h-1zM345 303h14v1h-14zM360 303h7v1h-7zM368 303h1v1h-1zM370 303h1v1h-1zM346 304h1v1h-1zM348 304h9v1h-9zM358 304h6v1h-6zM365 304h1v1h-1zM367 304h4v1h-4zM344 305h25v1h-25zM346 306h13v1h-13zM360 306h8v1h-8zM369 306h2v1h-2zM345 307h20v1h-20zM366 307h4v1h-4zM344 308h7v1h-7zM352 308h18v1h-18zM344 309h2v1h-2zM347 309h3v1h-3zM351 309h5v1h-5zM357 309h4v1h-4zM362 309h6v1h-6zM369 309h1v1h-1zM344 310h21v1h-21zM366 310h3v1h-3zM345 311h19v1h-19zM366 311h3v1h-3zM345 312h18v1h-18zM364 312h4v1h-4zM344 313h9v1h-9zM354 313h12v1h-12zM367 313h1v1h-1zM344 314h2v1h-2zM347 314h8v1h-8zM356 314h11v1h-11zM344 315h23v1h-23zM345 316h2v1h-2zM349 316h17v1h-17zM345 317h21v1h-21zM344 318h2v1h-2zM347 318h2v1h-2zM350 318h15v1h-15zM345 319h16v1h-16zM362 319h3v1h-3zM345 320h1v1h-1zM347 320h8v1h-8zM356 320h8v1h-8zM345 321h13v1h-13zM359 321h4v1h-4zM346 322h1v1h-1zM348 322h7v1h-7zM356 322h1v1h-1zM358 322h3v1h-3zM346 323h8v1h-8zM355 323h7v1h-7zM348 324h7v1h-7zM356 324h5v1h-5zM348 325h4v1h-4zM353 325h7v1h-7zM349 326h5v1h-5zM356 326h2v1h-2zM353 327h3v1h-3z"/>
<path fill="#404040" d="M415 250h1v1h-1zM412 251h1v1h-1zM400 252h1v1h-1zM403 252h1v1h-1zM407 252h1v1h-1zM410 252h2v1h-2zM414 252h1v1h-1zM403 253h1v1h-1zM409 253h1v1h-1zM394 254h1v1h-1zM403 254h4v1h-4zM409 254h1v1h-1zM417 254h2v1h-2zM395 255h1v1h-1zM397 255h1v1h-1zM413 255h1v1h-1zM416 255h1v1h-1zM390 256h1v1h-1zM394 256h3v1h-3zM414 256h2v1h-2zM420 256h1v1h-1zM393 257h1v1h-1zM415 257h3v1h-3zM421 257h1v1h-1zM385 258h1v1h-1zM390 258h1v1h-1zM415 258h2v1h-2zM419 258h1v1h-1zM387 259h2v1h-2zM415 259h1v1h-1zM418 259h1v1h-1zM385 260h2v1h-2zM415 260h1v1h-1zM379 261h1v1h-1zM384 261h2v1h-2zM416 261h2v1h-2zM382 262h1v1h-1zM414 262h2v1h-2zM421 262h1v1h-1zM381 263h1v1h-1zM414 263h1v1h-1zM379 264h2v1h-2zM413 264h2v1h-2zM419 264h1v1h-1zM379 265h1v1h-1zM375 266h1v1h-1zM411 266h1v1h-1zM414 266h1v1h-1zM372 267h2v1h-2zM376 267h1v1h-1zM372 268h1v1h-1zM375 268h1v1h-1zM408 268h1v1h-1zM413 268h1v1h-1zM362 269h1v1h-1zM365 269h1v1h-1zM369 269h1v1h-1zM373 269h1v1h-1zM375 269h1v1h-1zM407 269h1v1h-1zM412 269h1v1h-1zM364 270h1v1h-1zM372 270h3v1h-3zM406 270h1v1h-1zM410 270h1v1h-1zM419 270h1v1h-1zM363 271h1v1h-1zM365 271h1v1h-1zM368 271h1v1h-1zM371 271h3v1h-3zM404 271h2v1h-2zM414 271h1v1h-1zM361 272h1v1h-1zM364 272h1v1h-1zM369 272h2v1h-2zM372 272h1v1h-1zM402 272h2v1h-2zM405 272h1v1h-1zM358 273h1v1h-1zM360 273h1v1h-1zM362 273h1v1h-1zM365 273h1v1h-1zM367 273h1v1h-1zM371 273h2v1h-2zM403 273h1v1h-1zM409 273h1v1h-1zM357 274h2v1h-2zM368 274h1v1h-1zM371 274h2v1h-2zM402 274h2v1h-2zM407 274h1v1h-1zM412 274h1v1h-1zM416 274h1v1h-1zM355 275h1v1h-1zM358 275h1v1h-1zM364 275h2v1h-2zM368 275h1v1h-1zM370 275h1v1h-1zM372 275h1v1h-1zM397 275h1v1h-1zM399 275h1v1h-1zM412 275h2v1h-2zM420 275h2v1h-2zM359 276h1v1h-1zM365 276h3v1h-3zM372 276h1v1h-1zM405 276h1v1h-1zM410 276h1v1h-1zM413 276h1v1h-1zM359 277h1v1h-1zM362 277h1v1h-1zM365 277h1v1h-1zM367 277h1v1h-1zM370 277h3v1h-3zM391 277h4v1h-4zM399 277h1v1h-1zM403 277h1v1h-1zM362 278h1v1h-1zM364 278h2v1h-2zM372 278h2v1h-2zM389 278h2v1h-2zM393 278h1v1h-1zM410 278h1v1h-1zM416 278h1v1h-1zM360 279h1v1h-1zM366 279h1v1h-1zM371 279h1v1h-1zM375 279h1v1h-1zM383 279h4v1h-4zM388 279h2v1h-2zM391 279h2v1h-2zM394 279h1v1h-1zM396 279h2v1h-2zM399 279h1v1h-1zM404 279h1v1h-1zM406 279h1v1h-1zM358 280h1v1h-1zM369 280h1v1h-1zM371 280h2v1h-2zM376 280h1v1h-1zM378 280h2v1h-2zM383 280h1v1h-1zM385 280h2v1h-2zM388 280h4v1h-4zM393 280h1v1h-1zM395 280h1v1h-1zM407 280h1v1h-1zM353 281h2v1h-2zM357 281h1v1h-1zM359 281h1v1h-1zM373 281h3v1h-3zM377 281h1v1h-1zM379 281h1v1h-1zM381 281h1v1h-1zM383 281h1v1h-1zM385 281h1v1h-1zM391 281h2v1h-2zM396 281h2v1h-2zM399 281h1v1h-1zM403 281h1v1h-1zM420 281h1v1h-1zM357 282h3v1h-3zM361 282h2v1h-2zM365 282h1v1h-1zM375 282h1v1h-1zM381 282h1v1h-1zM385 282h1v1h-1zM388 282h1v1h-1zM393 282h2v1h-2zM397 282h3v1h-3zM401 282h1v1h-1zM403 282h1v1h-1zM419 282h1v1h-1zM350 283h1v1h-1zM352 283h1v1h-1zM354 283h1v1h-1zM356 283h2v1h-2zM360 283h6v1h-6zM371 283h1v1h-1zM373 283h2v1h-2zM377 283h2v1h-2zM381 283h4v1h-4zM387 283h4v1h-4zM392 283h2v1h-2zM395 283h2v1h-2zM398 283h3v1h-3zM402 283h1v1h-1zM404 283h1v1h-1zM356 284h1v1h-1zM359 284h4v1h-4zM365 284h1v1h-1zM367 284h1v1h-1zM370 284h1v1h-1zM375 284h4v1h-4zM380 284h2v1h-2zM383 284h2v1h-2zM386 284h1v1h-1zM389 284h1v1h-1zM391 284h1v1h-1zM393 284h4v1h-4zM398 284h1v1h-1zM400 284h2v1h-2zM403 284h1v1h-1zM405 284h3v1h-3zM416 284h1v1h-1zM352 285h1v1h-1zM355 285h1v1h-1zM362 285h1v1h-1zM364 285h5v1h-5zM372 285h1v1h-1zM374 285h1v1h-1zM381 285h1v1h-1zM383 285h5v1h-5zM389 285h2v1h-2zM392 285h3v1h-3zM396 285h3v1h-3zM400 285h6v1h-6zM409 285h1v1h-1zM352 286h3v1h-3zM364 286h2v1h-2zM367 286h2v1h-2zM377 286h2v1h-2zM382 286h1v1h-1zM384 286h3v1h-3zM389 286h1v1h-1zM391 286h6v1h-6zM398 286h5v1h-5zM412 286h1v1h-1zM351 287h1v1h-1zM366 287h2v1h-2zM372 287h1v1h-1zM374 287h1v1h-1zM376 287h2v1h-2zM379 287h2v1h-2zM382 287h3v1h-3zM386 287h7v1h-7zM395 287h2v1h-2zM398 287h1v1h-1zM400 287h1v1h-1zM404 287h1v1h-1zM349 288h2v1h-2zM366 288h3v1h-3zM375 288h1v1h-1zM377 288h1v1h-1zM379 288h2v1h-2zM382 288h5v1h-5zM389 288h1v1h-1zM391 288h2v1h-2zM394 288h2v1h-2zM401 288h6v1h-6zM347 289h1v1h-1zM367 289h1v1h-1zM370 289h1v1h-1zM373 289h1v1h-1zM375 289h2v1h-2zM378 289h1v1h-1zM382 289h2v1h-2zM386 289h3v1h-3zM393 289h1v1h-1zM395 289h1v1h-1zM398 289h3v1h-3zM402 289h1v1h-1zM405 289h2v1h-2zM409 289h1v1h-1zM413 289h1v1h-1zM348 290h3v1h-3zM367 290h2v1h-2zM374 290h2v1h-2zM377 290h1v1h-1zM380 290h2v1h-2zM383 290h2v1h-2zM386 290h1v1h-1zM388 290h3v1h-3zM392 290h2v1h-2zM395 290h1v1h-1zM400 290h5v1h-5zM406 290h1v1h-1zM347 291h3v1h-3zM368 291h3v1h-3zM374 291h4v1h-4zM379 291h3v1h-3zM383 291h5v1h-5zM389 291h5v1h-5zM398 291h2v1h-2zM401 291h1v1h-1zM404 291h1v1h-1zM406 291h2v1h-2zM421 291h1v1h-1zM368 292h1v1h-1zM370 292h1v1h-1zM372 292h5v1h-5zM378 292h1v1h-1zM380 292h1v1h-1zM382 292h3v1h-3zM386 292h5v1h-5zM392 292h5v1h-5zM398 292h3v1h-3zM403 292h4v1h-4zM410 292h1v1h-1zM414 292h1v1h-1zM368 293h2v1h-2zM371 293h2v1h-2zM375 293h1v1h-1zM377 293h3v1h-3zM382 293h8v1h-8zM391 293h3v1h-3zM395 293h3v1h-3zM402 293h2v1h-2zM405 293h1v1h-1zM407 293h1v1h-1zM409 293h1v1h-1zM346 294h2v1h-2zM368 294h2v1h-2zM372 294h1v1h-1zM376 294h6v1h-6zM386 294h7v1h-7zM394 294h6v1h-6zM405 294h1v1h-1zM414 294h1v1h-1zM345 295h1v1h-1zM369 295h2v1h-2zM373 295h2v1h-2zM377 295h2v1h-2zM380 295h2v1h-2zM383 295h2v1h-2zM391 295h3v1h-3zM395 295h2v1h-2zM400 295h1v1h-1zM403 295h1v1h-1zM414 295h1v1h-1zM345 296h2v1h-2zM369 296h5v1h-5zM376 296h4v1h-4zM381 296h2v1h-2zM384 296h2v1h-2zM387 296h2v1h-2zM390 296h3v1h-3zM394 296h5v1h-5zM400 296h6v1h-6zM345 297h1v1h-1zM370 297h2v1h-2zM373 297h2v1h-2zM376 297h1v1h-1zM379 297h2v1h-2zM382 297h3v1h-3zM388 297h1v1h-1zM390 297h1v1h-1zM392 297h2v1h-2zM395 297h5v1h-5zM410 297h1v1h-1zM419 297h1v1h-1zM344 298h2v1h-2zM370 298h1v1h-1zM372 298h8v1h-8zM381 298h2v1h-2zM384 298h3v1h-3zM390 298h7v1h-7zM398 298h6v1h-6zM406 298h1v1h-1zM408 298h2v1h-2zM414 298h1v1h-1zM371 299h4v1h-4zM376 299h1v1h-1zM378 299h1v1h-1zM380 299h2v1h-2zM383 299h1v1h-1zM385 299h1v1h-1zM388 299h9v1h-9zM399 299h1v1h-1zM404 299h2v1h-2zM415 299h1v1h-1zM344 300h1v1h-1zM371 300h9v1h-9zM382 300h1v1h-1zM384 300h1v1h-1zM386 300h2v1h-2zM389 300h1v1h-1zM391 300h13v1h-13zM405 300h1v1h-1zM417 300h1v1h-1zM373 301h5v1h-5zM379 301h1v1h-1zM382 301h3v1h-3zM386 301h1v1h-1zM388 301h7v1h-7zM396 301h9v1h-9zM410 301h1v1h-1zM413 301h1v1h-1zM343 302h2v1h-2zM372 302h1v1h-1zM374 302h8v1h-8zM384 302h1v1h-1zM386 302h1v1h-1zM388 302h2v1h-2zM391 302h3v1h-3zM395 302h1v1h-1zM397 302h6v1h-6zM404 302h1v1h-1zM344 303h1v1h-1zM371 303h1v1h-1zM374 303h1v1h-1zM377 303h4v1h-4zM383 303h1v1h-1zM385 303h2v1h-2zM389 303h1v1h-1zM391 303h1v1h-1zM393 303h11v1h-11zM343 304h1v1h-1zM371 304h2v1h-2zM374 304h3v1h-3zM378 304h2v1h-2zM381 304h1v1h-1zM383 304h5v1h-5zM390 304h2v1h-2zM394 304h4v1h-4zM399 304h1v1h-1zM402 304h2v1h-2zM422 304h1v1h-1zM342 305h2v1h-2zM372 305h2v1h-2zM375 305h1v1h-1zM377 305h2v1h-2zM380 305h1v1h-1zM385 305h1v1h-1zM388 305h1v1h-1zM391 305h3v1h-3zM395 305h1v1h-1zM397 305h5v1h-5zM372 306h4v1h-4zM377 306h8v1h-8zM386 306h2v1h-2zM389 306h2v1h-2zM392 306h2v1h-2zM395 306h2v1h-2zM398 306h1v1h-1zM402 306h1v1h-1zM414 306h1v1h-1zM419 306h1v1h-1zM372 307h1v1h-1zM374 307h1v1h-1zM377 307h1v1h-1zM379 307h1v1h-1zM381 307h2v1h-2zM384 307h3v1h-3zM389 307h1v1h-1zM391 307h1v1h-1zM393 307h6v1h-6zM401 307h2v1h-2zM407 307h1v1h-1zM342 308h2v1h-2zM370 308h5v1h-5zM376 308h2v1h-2zM379 308h2v1h-2zM382 308h1v1h-1zM384 308h1v1h-1zM386 308h2v1h-2zM389 308h1v1h-1zM392 308h2v1h-2zM398 308h1v1h-1zM400 308h1v1h-1zM409 308h1v1h-1zM414 308h1v1h-1zM343 309h1v1h-1zM371 309h1v1h-1zM373 309h2v1h-2zM376 309h3v1h-3zM380 309h3v1h-3zM385 309h1v1h-1zM387 309h1v1h-1zM390 309h5v1h-5zM396 309h2v1h-2zM400 309h1v1h-1zM417 309h1v1h-1zM343 310h1v1h-1zM369 310h1v1h-1zM372 310h1v1h-1zM375 310h1v1h-1zM380 310h3v1h-3zM384 310h2v1h-2zM389 310h1v1h-1zM391 310h5v1h-5zM410 310h1v1h-1zM342 311h2v1h-2zM369 311h1v1h-1zM371 311h2v1h-2zM374 311h1v1h-1zM376 311h6v1h-6zM384 311h1v1h-1zM387 311h4v1h-4zM395 311h2v1h-2zM368 312h1v1h-1zM371 312h2v1h-2zM374 312h7v1h-7zM382 312h2v1h-2zM385 312h4v1h-4zM390 312h1v1h-1zM393 312h1v1h-1zM343 313h1v1h-1zM368 313h1v1h-1zM370 313h1v1h-1zM372 313h1v1h-1zM374 313h1v1h-1zM376 313h4v1h-4zM381 313h1v1h-1zM385 313h4v1h-4zM390 313h1v1h-1zM393 313h2v1h-2zM406 313h1v1h-1zM410 313h1v1h-1zM342 314h2v1h-2zM367 314h2v1h-2zM372 314h1v1h-1zM374 314h1v1h-1zM376 314h1v1h-1zM381 314h2v1h-2zM384 314h1v1h-1zM388 314h3v1h-3zM393 314h3v1h-3zM413 314h1v1h-1zM342 315h2v1h-2zM370 315h1v1h-1zM374 315h1v1h-1zM376 315h5v1h-5zM382 315h3v1h-3zM386 315h2v1h-2zM389 315h2v1h-2zM392 315h1v1h-1zM399 315h1v1h-1zM402 315h1v1h-1zM419 315h1v1h-1zM343 316h1v1h-1zM366 316h1v1h-1zM369 316h1v1h-1zM371 316h1v1h-1zM374 316h1v1h-1zM376 316h1v1h-1zM378 316h4v1h-4zM383 316h2v1h-2zM386 316h1v1h-1zM389 316h1v1h-1zM404 316h1v1h-1zM342 317h1v1h-1zM368 317h1v1h-1zM370 317h2v1h-2zM373 317h1v1h-1zM376 317h2v1h-2zM379 317h1v1h-1zM381 317h3v1h-3zM388 317h1v1h-1zM395 317h1v1h-1zM401 317h1v1h-1zM403 317h1v1h-1zM406 317h1v1h-1zM343 318h1v1h-1zM365 318h2v1h-2zM368 318h2v1h-2zM372 318h1v1h-1zM374 318h1v1h-1zM382 318h1v1h-1zM401 318h1v1h-1zM415 318h1v1h-1zM343 319h2v1h-2zM365 319h4v1h-4zM377 319h2v1h-2zM384 319h1v1h-1zM393 319h1v1h-1zM408 319h1v1h-1zM343 320h2v1h-2zM364 320h2v1h-2zM367 320h1v1h-1zM370 320h1v1h-1zM376 320h1v1h-1zM380 320h1v1h-1zM384 320h1v1h-1zM391 320h1v1h-1zM343 321h1v1h-1zM363 321h1v1h-1zM342 322h1v1h-1zM344 322h1v1h-1zM362 322h2v1h-2zM366 322h1v1h-1zM384 322h1v1h-1zM390 322h1v1h-1zM409 322h1v1h-1zM412 322h1v1h-1zM345 323h1v1h-1zM362 323h2v1h-2zM365 323h1v1h-1zM372 323h1v1h-1zM391 323h1v1h-1zM405 323h1v1h-1zM412 323h1v1h-1zM344 324h1v1h-1zM346 324h1v1h-1zM361 324h2v1h-2zM364 324h1v1h-1zM372 324h1v1h-1zM375 324h1v1h-1zM379 324h1v1h-1zM400 324h1v1h-1zM347 325h1v1h-1zM360 325h1v1h-1zM386 325h1v1h-1zM346 326h2v1h-2zM358 326h3v1h-3zM348 327h3v1h-3zM358 327h1v1h-1zM360 327h1v1h-1zM362 327h1v1h-1zM375 327h1v1h-1zM391 327h1v1h-1zM345 328h2v1h-2zM349 328h2v1h-2zM354 328h2v1h-2zM358 328h2v1h-2zM399 328h2v1h-2zM347 329h1v1h-1zM351 329h6v1h-6zM418 329h1v1h-1zM353 330h2v1h-2zM360 330h1v1h-1zM400 330h1v1h-1zM417 330h1v1h-1zM353 331h2v1h-2z"/></g>
<rect x="341.3" y="249.4" width="82.6" height="83.5" fill="none" stroke="#4a4a4a" stroke-width="1.3"/>
<line x1="370.9" y1="249.4" x2="370.9" y2="332.9" stroke="#1a1a1a" stroke-width="1"/>
<line x1="341.3" y1="283.9" x2="423.9" y2="283.9" stroke="#333" stroke-width="1"/>
<rect x="341.7" y="249.9" width="2.4" height="2.2" fill="#000"/>
<rect x="368.9" y="281.4" width="3" height="3" fill="#000"/>
<line x1="341.3" y1="332.9" x2="341.3" y2="336.9" stroke="#333" stroke-width="1"/>
<line x1="337.3" y1="332.9" x2="341.3" y2="332.9" stroke="#333" stroke-width="1"/>
<text class="tk" x="340.5" y="346.4" text-anchor="end" textLength="9.4" lengthAdjust="spacingAndGlyphs">10</text><text class="sp" x="341.2" y="342.5">0</text>
<text class="tk" x="332.0" y="336.5" text-anchor="end" textLength="11" lengthAdjust="spacingAndGlyphs">10</text><text class="sp" x="332.4" y="334.2">0</text>
<line x1="361.9" y1="332.9" x2="361.9" y2="336.9" stroke="#333" stroke-width="1"/>
<line x1="337.3" y1="312.0" x2="341.3" y2="312.0" stroke="#333" stroke-width="1"/>
<text class="tk" x="361.1" y="346.4" text-anchor="end" textLength="9.4" lengthAdjust="spacingAndGlyphs">10</text><text class="sp" x="361.8" y="342.5">1</text>
<text class="tk" x="332.0" y="315.6" text-anchor="end" textLength="11" lengthAdjust="spacingAndGlyphs">10</text><text class="sp" x="332.4" y="313.3">1</text>
<line x1="382.6" y1="332.9" x2="382.6" y2="336.9" stroke="#333" stroke-width="1"/>
<line x1="337.3" y1="291.1" x2="341.3" y2="291.1" stroke="#333" stroke-width="1"/>
<text class="tk" x="381.8" y="346.4" text-anchor="end" textLength="9.4" lengthAdjust="spacingAndGlyphs">10</text><text class="sp" x="382.5" y="342.5">2</text>
<text class="tk" x="332.0" y="294.8" text-anchor="end" textLength="11" lengthAdjust="spacingAndGlyphs">10</text><text class="sp" x="332.4" y="292.4">2</text>
<line x1="403.2" y1="332.9" x2="403.2" y2="336.9" stroke="#333" stroke-width="1"/>
<line x1="337.3" y1="270.3" x2="341.3" y2="270.3" stroke="#333" stroke-width="1"/>
<text class="tk" x="402.4" y="346.4" text-anchor="end" textLength="9.4" lengthAdjust="spacingAndGlyphs">10</text><text class="sp" x="403.1" y="342.5">3</text>
<text class="tk" x="332.0" y="273.9" text-anchor="end" textLength="11" lengthAdjust="spacingAndGlyphs">10</text><text class="sp" x="332.4" y="271.6">3</text>
<line x1="423.9" y1="332.9" x2="423.9" y2="336.9" stroke="#333" stroke-width="1"/>
<line x1="337.3" y1="249.4" x2="341.3" y2="249.4" stroke="#333" stroke-width="1"/>
<text class="tk" x="423.1" y="346.4" text-anchor="end" textLength="9.4" lengthAdjust="spacingAndGlyphs">10</text><text class="sp" x="423.8" y="342.5">4</text>
<text class="tk" x="332.0" y="253.0" text-anchor="end" textLength="11" lengthAdjust="spacingAndGlyphs">10</text><text class="sp" x="332.4" y="250.7">4</text>
<text class="rl" x="367.8" y="280.4" text-anchor="end">R6</text>
<text class="rl" x="374.0" y="280.4">R7</text>
<text class="rl" x="367.8" y="293.7" text-anchor="end">R8</text>
<text class="rl" x="374.0" y="293.7">R9</text>
<text class="pc" x="348.4" y="260.6" text-anchor="start">1%</text>
<text class="pc" x="417.4" y="260.6" text-anchor="end">24.3%</text>
<text class="pc" x="417.4" y="330.0" text-anchor="end">22.6%</text>
<g filter="url(#bl)"><path fill="#646464" d="M39 414h1v1h-1zM41 414h7v1h-7zM39 415h12v1h-12zM39 416h11v1h-11zM51 416h2v1h-2zM39 417h7v1h-7zM47 417h7v1h-7zM39 418h17v1h-17zM40 419h2v1h-2zM43 419h12v1h-12zM56 419h1v1h-1zM39 420h19v1h-19zM39 421h19v1h-19zM39 422h20v1h-20zM39 423h20v1h-20zM39 424h20v1h-20zM39 425h21v1h-21zM39 426h5v1h-5zM45 426h16v1h-16zM39 427h12v1h-12zM52 427h9v1h-9zM39 428h21v1h-21zM39 429h19v1h-19zM59 429h2v1h-2zM39 430h3v1h-3zM43 430h18v1h-18zM39 431h22v1h-22zM39 432h21v1h-21zM39 433h23v1h-23zM39 434h23v1h-23zM40 435h22v1h-22zM39 436h23v1h-23zM39 437h23v1h-23zM39 438h23v1h-23z"/>
<path fill="#404040" d="M56 361h1v1h-1zM77 361h1v1h-1zM50 369h1v1h-1zM51 370h1v1h-1zM46 371h1v1h-1zM50 372h1v1h-1zM54 372h1v1h-1zM74 372h1v1h-1zM77 372h1v1h-1zM49 373h1v1h-1zM51 373h4v1h-4zM42 374h2v1h-2zM48 374h6v1h-6zM56 374h2v1h-2zM43 375h2v1h-2zM48 375h4v1h-4zM53 375h2v1h-2zM56 375h1v1h-1zM58 375h1v1h-1zM73 375h1v1h-1zM45 376h1v1h-1zM47 376h1v1h-1zM49 376h1v1h-1zM52 376h3v1h-3zM56 376h1v1h-1zM59 376h1v1h-1zM43 377h1v1h-1zM45 377h3v1h-3zM49 377h1v1h-1zM51 377h6v1h-6zM58 377h1v1h-1zM83 377h1v1h-1zM43 378h3v1h-3zM47 378h4v1h-4zM53 378h1v1h-1zM55 378h2v1h-2zM59 378h1v1h-1zM61 378h1v1h-1zM42 379h4v1h-4zM47 379h7v1h-7zM57 379h2v1h-2zM72 379h1v1h-1zM41 380h1v1h-1zM43 380h1v1h-1zM45 380h1v1h-1zM47 380h2v1h-2zM50 380h6v1h-6zM57 380h3v1h-3zM40 381h1v1h-1zM42 381h7v1h-7zM50 381h6v1h-6zM58 381h6v1h-6zM68 381h1v1h-1zM82 381h1v1h-1zM41 382h5v1h-5zM47 382h8v1h-8zM58 382h2v1h-2zM42 383h3v1h-3zM46 383h2v1h-2zM51 383h2v1h-2zM55 383h4v1h-4zM61 383h1v1h-1zM41 384h5v1h-5zM47 384h2v1h-2zM51 384h3v1h-3zM56 384h3v1h-3zM63 384h1v1h-1zM68 384h1v1h-1zM70 384h1v1h-1zM72 384h1v1h-1zM40 385h1v1h-1zM42 385h1v1h-1zM44 385h5v1h-5zM52 385h1v1h-1zM54 385h2v1h-2zM57 385h1v1h-1zM59 385h1v1h-1zM76 385h1v1h-1zM39 386h1v1h-1zM41 386h2v1h-2zM44 386h2v1h-2zM48 386h2v1h-2zM52 386h8v1h-8zM61 386h2v1h-2zM64 386h1v1h-1zM83 386h1v1h-1zM43 387h1v1h-1zM45 387h1v1h-1zM47 387h2v1h-2zM50 387h1v1h-1zM52 387h1v1h-1zM54 387h1v1h-1zM57 387h4v1h-4zM41 388h6v1h-6zM48 388h1v1h-1zM52 388h1v1h-1zM55 388h2v1h-2zM58 388h3v1h-3zM68 388h1v1h-1zM86 388h1v1h-1zM90 388h1v1h-1zM41 389h1v1h-1zM43 389h1v1h-1zM45 389h1v1h-1zM47 389h3v1h-3zM51 389h1v1h-1zM53 389h5v1h-5zM60 389h1v1h-1zM77 389h1v1h-1zM90 389h1v1h-1zM39 390h1v1h-1zM41 390h1v1h-1zM43 390h4v1h-4zM49 390h3v1h-3zM53 390h5v1h-5zM39 391h1v1h-1zM43 391h2v1h-2zM46 391h1v1h-1zM48 391h1v1h-1zM50 391h10v1h-10zM45 392h1v1h-1zM49 392h6v1h-6zM59 392h1v1h-1zM62 392h1v1h-1zM72 392h1v1h-1zM78 392h1v1h-1zM86 392h1v1h-1zM45 393h1v1h-1zM47 393h1v1h-1zM50 393h1v1h-1zM52 393h1v1h-1zM54 393h1v1h-1zM56 393h1v1h-1zM65 393h1v1h-1zM75 393h1v1h-1zM46 394h2v1h-2zM49 394h4v1h-4zM55 394h1v1h-1zM58 394h1v1h-1zM60 394h1v1h-1zM65 394h1v1h-1zM80 394h1v1h-1zM45 395h1v1h-1zM47 395h2v1h-2zM52 395h1v1h-1zM56 395h1v1h-1zM60 395h1v1h-1zM73 395h1v1h-1zM76 395h1v1h-1zM48 396h1v1h-1zM51 396h2v1h-2zM71 396h1v1h-1zM79 396h2v1h-2zM88 396h1v1h-1zM50 397h1v1h-1zM68 397h1v1h-1zM81 399h1v1h-1zM57 401h1v1h-1zM75 401h2v1h-2zM109 401h1v1h-1zM44 402h1v1h-1zM47 402h1v1h-1zM52 402h1v1h-1zM49 403h1v1h-1zM52 403h1v1h-1zM77 403h1v1h-1zM81 403h1v1h-1zM42 404h1v1h-1zM46 404h1v1h-1zM54 404h1v1h-1zM57 404h2v1h-2zM62 404h1v1h-1zM83 404h1v1h-1zM40 405h2v1h-2zM43 405h2v1h-2zM46 405h2v1h-2zM49 405h1v1h-1zM52 405h1v1h-1zM56 405h1v1h-1zM69 405h1v1h-1zM43 406h1v1h-1zM45 406h1v1h-1zM47 406h1v1h-1zM50 406h1v1h-1zM52 406h1v1h-1zM54 406h1v1h-1zM57 406h1v1h-1zM60 406h1v1h-1zM63 406h1v1h-1zM72 406h1v1h-1zM76 406h2v1h-2zM80 406h1v1h-1zM39 407h2v1h-2zM43 407h1v1h-1zM45 407h2v1h-2zM48 407h3v1h-3zM55 407h1v1h-1zM63 407h1v1h-1zM67 407h1v1h-1zM73 407h1v1h-1zM84 407h1v1h-1zM41 408h2v1h-2zM45 408h1v1h-1zM47 408h4v1h-4zM59 408h1v1h-1zM61 408h1v1h-1zM63 408h1v1h-1zM66 408h1v1h-1zM72 408h1v1h-1zM39 409h1v1h-1zM41 409h1v1h-1zM45 409h1v1h-1zM47 409h1v1h-1zM49 409h1v1h-1zM54 409h1v1h-1zM56 409h2v1h-2zM83 409h1v1h-1zM40 410h3v1h-3zM45 410h1v1h-1zM50 410h1v1h-1zM54 410h1v1h-1zM60 410h1v1h-1zM62 410h1v1h-1zM68 410h1v1h-1zM39 411h1v1h-1zM44 411h1v1h-1zM49 411h1v1h-1zM52 411h2v1h-2zM61 411h2v1h-2zM71 411h1v1h-1zM42 412h1v1h-1zM44 412h2v1h-2zM47 412h3v1h-3zM57 412h1v1h-1zM61 412h2v1h-2zM64 412h2v1h-2zM69 412h1v1h-1zM74 412h1v1h-1zM76 412h1v1h-1zM81 412h1v1h-1zM86 412h1v1h-1zM39 413h1v1h-1zM41 413h5v1h-5zM48 413h1v1h-1zM52 413h1v1h-1zM63 413h2v1h-2zM67 413h1v1h-1zM78 413h3v1h-3zM82 413h3v1h-3zM48 414h2v1h-2zM53 414h1v1h-1zM55 414h1v1h-1zM57 414h1v1h-1zM60 414h1v1h-1zM63 414h2v1h-2zM85 414h2v1h-2zM51 415h5v1h-5zM57 415h1v1h-1zM61 415h1v1h-1zM63 415h2v1h-2zM66 415h1v1h-1zM69 415h1v1h-1zM74 415h1v1h-1zM77 415h4v1h-4zM83 415h1v1h-1zM53 416h2v1h-2zM57 416h1v1h-1zM67 416h1v1h-1zM69 416h2v1h-2zM72 416h1v1h-1zM76 416h1v1h-1zM78 416h1v1h-1zM81 416h1v1h-1zM56 417h1v1h-1zM58 417h1v1h-1zM60 417h1v1h-1zM65 417h3v1h-3zM74 417h1v1h-1zM77 417h1v1h-1zM80 417h1v1h-1zM82 417h1v1h-1zM84 417h3v1h-3zM56 418h1v1h-1zM59 418h4v1h-4zM64 418h1v1h-1zM66 418h2v1h-2zM81 418h1v1h-1zM83 418h1v1h-1zM57 419h1v1h-1zM60 419h1v1h-1zM63 419h1v1h-1zM68 419h1v1h-1zM70 419h2v1h-2zM74 419h2v1h-2zM79 419h1v1h-1zM82 419h3v1h-3zM86 419h1v1h-1zM58 420h1v1h-1zM60 420h1v1h-1zM62 420h3v1h-3zM67 420h1v1h-1zM71 420h1v1h-1zM79 420h1v1h-1zM81 420h1v1h-1zM84 420h2v1h-2zM61 421h1v1h-1zM67 421h2v1h-2zM76 421h3v1h-3zM80 421h2v1h-2zM83 421h1v1h-1zM86 421h1v1h-1zM59 422h1v1h-1zM61 422h1v1h-1zM66 422h2v1h-2zM74 422h2v1h-2zM79 422h3v1h-3zM84 422h1v1h-1zM86 422h1v1h-1zM63 423h1v1h-1zM66 423h1v1h-1zM75 423h2v1h-2zM78 423h1v1h-1zM80 423h4v1h-4zM85 423h1v1h-1zM87 423h1v1h-1zM61 424h1v1h-1zM74 424h1v1h-1zM76 424h2v1h-2zM79 424h3v1h-3zM83 424h2v1h-2zM86 424h1v1h-1zM63 425h1v1h-1zM71 425h1v1h-1zM76 425h1v1h-1zM78 425h1v1h-1zM81 425h1v1h-1zM85 425h1v1h-1zM87 425h1v1h-1zM74 426h1v1h-1zM79 426h2v1h-2zM82 426h1v1h-1zM85 426h1v1h-1zM87 426h1v1h-1zM61 427h1v1h-1zM65 427h3v1h-3zM70 427h1v1h-1zM74 427h1v1h-1zM79 427h1v1h-1zM81 427h1v1h-1zM84 427h1v1h-1zM86 427h2v1h-2zM62 428h1v1h-1zM75 428h3v1h-3zM79 428h2v1h-2zM82 428h1v1h-1zM84 428h4v1h-4zM95 428h1v1h-1zM61 429h1v1h-1zM64 429h1v1h-1zM79 429h1v1h-1zM61 430h1v1h-1zM63 430h1v1h-1zM77 430h1v1h-1zM79 430h3v1h-3zM84 430h2v1h-2zM62 431h2v1h-2zM77 431h3v1h-3zM81 431h3v1h-3zM86 431h2v1h-2zM61 432h2v1h-2zM76 432h1v1h-1zM81 432h1v1h-1zM83 432h3v1h-3zM62 433h1v1h-1zM64 433h1v1h-1zM67 433h1v1h-1zM73 433h2v1h-2zM81 433h1v1h-1zM63 434h1v1h-1zM69 434h1v1h-1zM80 434h1v1h-1zM83 434h1v1h-1zM85 434h1v1h-1zM72 435h2v1h-2zM77 435h1v1h-1zM81 435h1v1h-1zM83 435h1v1h-1zM73 436h1v1h-1zM78 436h2v1h-2zM81 436h1v1h-1zM83 436h1v1h-1zM62 437h1v1h-1zM74 437h1v1h-1zM82 437h1v1h-1zM84 437h1v1h-1zM86 437h1v1h-1zM73 438h1v1h-1zM82 438h2v1h-2zM85 438h1v1h-1z"/></g>
<rect x="38.8" y="360.0" width="81.9" height="79.6" fill="none" stroke="#4a4a4a" stroke-width="1.3"/>
<line x1="66.4" y1="360.0" x2="66.4" y2="439.6" stroke="#1a1a1a" stroke-width="1"/>
<line x1="38.8" y1="403.7" x2="120.7" y2="403.7" stroke="#333" stroke-width="1"/>
<rect x="39.2" y="360.5" width="2.4" height="2.2" fill="#000"/>
<rect x="64.4" y="401.2" width="3" height="3" fill="#000"/>
<line x1="38.8" y1="439.6" x2="38.8" y2="443.6" stroke="#333" stroke-width="1"/>
<line x1="34.8" y1="439.6" x2="38.8" y2="439.6" stroke="#333" stroke-width="1"/>
<text class="tk" x="38.0" y="453.1" text-anchor="end" textLength="9.4" lengthAdjust="spacingAndGlyphs">10</text><text class="sp" x="38.7" y="449.2">0</text>
<text class="tk" x="29.5" y="443.2" text-anchor="end" textLength="11" lengthAdjust="spacingAndGlyphs">10</text><text class="sp" x="29.9" y="440.9">0</text>
<line x1="59.3" y1="439.6" x2="59.3" y2="443.6" stroke="#333" stroke-width="1"/>
<line x1="34.8" y1="419.7" x2="38.8" y2="419.7" stroke="#333" stroke-width="1"/>
<text class="tk" x="58.5" y="453.1" text-anchor="end" textLength="9.4" lengthAdjust="spacingAndGlyphs">10</text><text class="sp" x="59.2" y="449.2">1</text>
<text class="tk" x="29.5" y="423.3" text-anchor="end" textLength="11" lengthAdjust="spacingAndGlyphs">10</text><text class="sp" x="29.9" y="421.0">1</text>
<line x1="79.8" y1="439.6" x2="79.8" y2="443.6" stroke="#333" stroke-width="1"/>
<line x1="34.8" y1="399.8" x2="38.8" y2="399.8" stroke="#333" stroke-width="1"/>
<text class="tk" x="79.0" y="453.1" text-anchor="end" textLength="9.4" lengthAdjust="spacingAndGlyphs">10</text><text class="sp" x="79.7" y="449.2">2</text>
<text class="tk" x="29.5" y="403.4" text-anchor="end" textLength="11" lengthAdjust="spacingAndGlyphs">10</text><text class="sp" x="29.9" y="401.1">2</text>
<line x1="100.2" y1="439.6" x2="100.2" y2="443.6" stroke="#333" stroke-width="1"/>
<line x1="34.8" y1="379.9" x2="38.8" y2="379.9" stroke="#333" stroke-width="1"/>
<text class="tk" x="99.4" y="453.1" text-anchor="end" textLength="9.4" lengthAdjust="spacingAndGlyphs">10</text><text class="sp" x="100.1" y="449.2">3</text>
<text class="tk" x="29.5" y="383.5" text-anchor="end" textLength="11" lengthAdjust="spacingAndGlyphs">10</text><text class="sp" x="29.9" y="381.2">3</text>
<line x1="120.7" y1="439.6" x2="120.7" y2="443.6" stroke="#333" stroke-width="1"/>
<line x1="34.8" y1="360.0" x2="38.8" y2="360.0" stroke="#333" stroke-width="1"/>
<text class="tk" x="119.9" y="453.1" text-anchor="end" textLength="9.4" lengthAdjust="spacingAndGlyphs">10</text><text class="sp" x="120.6" y="449.2">4</text>
<text class="tk" x="29.5" y="363.6" text-anchor="end" textLength="11" lengthAdjust="spacingAndGlyphs">10</text><text class="sp" x="29.9" y="361.3">4</text>
<text class="rl" x="63.2" y="399.2" text-anchor="end">R6</text>
<text class="rl" x="71.2" y="399.2">R7</text>
<text class="rl" x="63.2" y="413.4" text-anchor="end">R8</text>
<text class="rl" x="71.2" y="413.4">R9</text>
<text class="pc" x="41.4" y="370.9" text-anchor="start">3.4%</text>
<text class="pc" x="116.8" y="435.0" text-anchor="end">10.9%</text>
<g filter="url(#bl)"><path fill="#646464" d="M249 411h9v1h-9zM246 412h1v1h-1zM248 412h10v1h-10zM244 413h1v1h-1zM246 413h13v1h-13zM243 414h16v1h-16zM240 415h18v1h-18zM239 416h7v1h-7zM247 416h11v1h-11zM199 417h1v1h-1zM201 417h1v1h-1zM203 417h6v1h-6zM210 417h3v1h-3zM237 417h11v1h-11zM249 417h5v1h-5zM255 417h2v1h-2zM199 418h11v1h-11zM211 418h5v1h-5zM217 418h3v1h-3zM236 418h5v1h-5zM242 418h15v1h-15zM199 419h20v1h-20zM220 419h1v1h-1zM234 419h5v1h-5zM240 419h1v1h-1zM242 419h14v1h-14zM199 420h25v1h-25zM233 420h19v1h-19zM253 420h3v1h-3zM199 421h26v1h-26zM232 421h22v1h-22zM199 422h27v1h-27zM231 422h10v1h-10zM242 422h12v1h-12zM199 423h29v1h-29zM230 423h4v1h-4zM235 423h7v1h-7zM243 423h5v1h-5zM249 423h4v1h-4zM199 424h11v1h-11zM211 424h9v1h-9zM221 424h2v1h-2zM224 424h28v1h-28zM199 425h1v1h-1zM201 425h16v1h-16zM218 425h7v1h-7zM226 425h25v1h-25zM199 426h15v1h-15zM215 426h20v1h-20zM236 426h14v1h-14zM199 427h50v1h-50zM199 428h48v1h-48zM199 429h17v1h-17zM217 429h29v1h-29zM199 430h17v1h-17zM217 430h21v1h-21zM239 430h6v1h-6zM199 431h19v1h-19zM219 431h26v1h-26zM199 432h9v1h-9zM209 432h35v1h-35zM199 433h45v1h-45zM199 434h44v1h-44zM199 435h11v1h-11zM211 435h31v1h-31zM243 435h1v1h-1z"/>
<path fill="#404040" d="M232 360h1v1h-1zM268 368h1v1h-1zM248 371h1v1h-1zM224 372h1v1h-1zM261 372h1v1h-1zM219 373h1v1h-1zM229 373h1v1h-1zM251 373h1v1h-1zM213 374h1v1h-1zM215 374h1v1h-1zM228 374h1v1h-1zM238 374h1v1h-1zM242 374h1v1h-1zM246 374h1v1h-1zM254 374h2v1h-2zM217 375h1v1h-1zM219 375h2v1h-2zM222 375h1v1h-1zM224 375h1v1h-1zM228 375h1v1h-1zM235 375h1v1h-1zM238 375h1v1h-1zM246 375h2v1h-2zM224 376h2v1h-2zM237 376h1v1h-1zM243 376h1v1h-1zM207 377h1v1h-1zM221 377h1v1h-1zM225 377h1v1h-1zM227 377h1v1h-1zM237 377h1v1h-1zM240 377h1v1h-1zM256 377h1v1h-1zM260 377h1v1h-1zM208 378h1v1h-1zM210 378h1v1h-1zM213 378h2v1h-2zM236 378h1v1h-1zM206 379h2v1h-2zM226 379h1v1h-1zM229 379h1v1h-1zM242 379h1v1h-1zM205 380h1v1h-1zM207 380h1v1h-1zM211 380h1v1h-1zM218 380h1v1h-1zM220 380h1v1h-1zM226 380h1v1h-1zM240 380h1v1h-1zM257 380h1v1h-1zM205 381h1v1h-1zM217 381h1v1h-1zM220 381h1v1h-1zM232 381h1v1h-1zM241 381h1v1h-1zM243 381h1v1h-1zM245 381h1v1h-1zM247 381h1v1h-1zM205 382h1v1h-1zM214 382h1v1h-1zM237 382h1v1h-1zM245 382h1v1h-1zM247 382h2v1h-2zM251 382h1v1h-1zM207 383h1v1h-1zM213 383h1v1h-1zM215 383h1v1h-1zM227 383h1v1h-1zM233 383h1v1h-1zM243 383h1v1h-1zM246 383h3v1h-3zM199 384h1v1h-1zM203 384h1v1h-1zM205 384h1v1h-1zM225 384h1v1h-1zM231 384h3v1h-3zM235 384h1v1h-1zM237 384h1v1h-1zM248 384h1v1h-1zM259 384h1v1h-1zM261 384h1v1h-1zM206 385h1v1h-1zM224 385h1v1h-1zM233 385h1v1h-1zM236 385h1v1h-1zM239 385h1v1h-1zM247 385h1v1h-1zM251 385h1v1h-1zM204 386h2v1h-2zM215 386h1v1h-1zM219 386h2v1h-2zM222 386h1v1h-1zM224 386h1v1h-1zM233 386h1v1h-1zM246 386h1v1h-1zM254 386h1v1h-1zM260 386h1v1h-1zM205 387h1v1h-1zM235 387h2v1h-2zM243 387h1v1h-1zM217 388h1v1h-1zM222 388h2v1h-2zM225 388h1v1h-1zM229 388h1v1h-1zM233 388h1v1h-1zM239 388h1v1h-1zM242 388h1v1h-1zM221 389h1v1h-1zM230 389h1v1h-1zM233 389h1v1h-1zM240 389h1v1h-1zM245 389h1v1h-1zM248 389h1v1h-1zM251 389h1v1h-1zM254 389h1v1h-1zM200 390h1v1h-1zM205 390h1v1h-1zM222 390h1v1h-1zM226 390h1v1h-1zM235 390h1v1h-1zM204 391h1v1h-1zM207 391h1v1h-1zM211 391h2v1h-2zM218 391h1v1h-1zM220 391h1v1h-1zM245 391h1v1h-1zM213 392h1v1h-1zM215 392h1v1h-1zM218 392h1v1h-1zM222 392h1v1h-1zM224 392h1v1h-1zM233 392h1v1h-1zM238 392h1v1h-1zM246 392h1v1h-1zM261 392h1v1h-1zM269 392h1v1h-1zM224 393h1v1h-1zM234 393h1v1h-1zM227 394h1v1h-1zM209 395h1v1h-1zM220 395h1v1h-1zM251 399h1v1h-1zM201 402h1v1h-1zM222 405h1v1h-1zM215 406h1v1h-1zM206 407h1v1h-1zM208 407h1v1h-1zM210 407h1v1h-1zM212 407h1v1h-1zM218 407h1v1h-1zM257 407h1v1h-1zM202 408h1v1h-1zM216 408h1v1h-1zM227 408h1v1h-1zM253 408h3v1h-3zM203 409h1v1h-1zM207 409h1v1h-1zM213 409h3v1h-3zM217 409h3v1h-3zM227 409h1v1h-1zM251 409h1v1h-1zM205 410h1v1h-1zM222 410h1v1h-1zM226 410h1v1h-1zM229 410h1v1h-1zM249 410h1v1h-1zM251 410h1v1h-1zM253 410h2v1h-2zM256 410h2v1h-2zM263 410h1v1h-1zM199 411h1v1h-1zM206 411h1v1h-1zM214 411h1v1h-1zM217 411h1v1h-1zM219 411h1v1h-1zM230 411h1v1h-1zM248 411h1v1h-1zM202 412h1v1h-1zM209 412h1v1h-1zM211 412h1v1h-1zM214 412h1v1h-1zM219 412h1v1h-1zM224 412h1v1h-1zM230 412h1v1h-1zM241 412h1v1h-1zM244 412h1v1h-1zM259 412h1v1h-1zM261 412h1v1h-1zM199 413h1v1h-1zM201 413h1v1h-1zM204 413h1v1h-1zM208 413h1v1h-1zM213 413h3v1h-3zM227 413h1v1h-1zM229 413h1v1h-1zM243 413h1v1h-1zM259 413h1v1h-1zM199 414h1v1h-1zM202 414h3v1h-3zM206 414h1v1h-1zM211 414h1v1h-1zM226 414h3v1h-3zM232 414h1v1h-1zM234 414h1v1h-1zM237 414h1v1h-1zM241 414h1v1h-1zM260 414h1v1h-1zM202 415h1v1h-1zM205 415h1v1h-1zM207 415h1v1h-1zM211 415h1v1h-1zM216 415h3v1h-3zM220 415h1v1h-1zM224 415h1v1h-1zM226 415h1v1h-1zM228 415h1v1h-1zM235 415h1v1h-1zM261 415h1v1h-1zM200 416h2v1h-2zM204 416h2v1h-2zM208 416h2v1h-2zM211 416h1v1h-1zM215 416h1v1h-1zM217 416h3v1h-3zM221 416h2v1h-2zM229 416h2v1h-2zM238 416h1v1h-1zM258 416h2v1h-2zM213 417h1v1h-1zM215 417h1v1h-1zM217 417h3v1h-3zM221 417h4v1h-4zM236 417h1v1h-1zM257 417h1v1h-1zM259 417h1v1h-1zM221 418h3v1h-3zM225 418h1v1h-1zM227 418h1v1h-1zM257 418h1v1h-1zM222 419h1v1h-1zM224 419h2v1h-2zM233 419h1v1h-1zM256 419h1v1h-1zM224 420h2v1h-2zM228 420h1v1h-1zM256 420h2v1h-2zM225 421h2v1h-2zM230 421h2v1h-2zM255 421h2v1h-2zM226 422h1v1h-1zM228 422h2v1h-2zM255 422h1v1h-1zM253 423h2v1h-2zM251 425h1v1h-1zM250 426h1v1h-1zM249 427h1v1h-1zM247 428h1v1h-1zM246 429h2v1h-2zM245 430h2v1h-2zM245 431h1v1h-1zM244 432h1v1h-1zM246 432h1v1h-1zM250 432h1v1h-1zM244 433h2v1h-2zM244 434h1v1h-1zM248 434h1v1h-1zM244 435h2v1h-2z"/></g>
<rect x="198.8" y="356.3" width="81.0" height="80.5" fill="none" stroke="#4a4a4a" stroke-width="1.3"/>
<line x1="226.7" y1="356.3" x2="226.7" y2="436.8" stroke="#1a1a1a" stroke-width="1"/>
<line x1="198.8" y1="400.2" x2="279.8" y2="400.2" stroke="#333" stroke-width="1"/>
<rect x="199.2" y="356.8" width="2.4" height="2.2" fill="#000"/>
<rect x="224.7" y="397.7" width="3" height="3" fill="#000"/>
<line x1="198.8" y1="436.8" x2="198.8" y2="440.8" stroke="#333" stroke-width="1"/>
<line x1="194.8" y1="436.8" x2="198.8" y2="436.8" stroke="#333" stroke-width="1"/>
<text class="tk" x="198.0" y="450.3" text-anchor="end" textLength="9.4" lengthAdjust="spacingAndGlyphs">10</text><text class="sp" x="198.7" y="446.4">0</text>
<text class="tk" x="189.5" y="440.4" text-anchor="end" textLength="11" lengthAdjust="spacingAndGlyphs">10</text><text class="sp" x="189.9" y="438.1">0</text>
<line x1="219.1" y1="436.8" x2="219.1" y2="440.8" stroke="#333" stroke-width="1"/>
<line x1="194.8" y1="416.7" x2="198.8" y2="416.7" stroke="#333" stroke-width="1"/>
<text class="tk" x="218.2" y="450.3" text-anchor="end" textLength="9.4" lengthAdjust="spacingAndGlyphs">10</text><text class="sp" x="219.0" y="446.4">1</text>
<text class="tk" x="189.5" y="420.3" text-anchor="end" textLength="11" lengthAdjust="spacingAndGlyphs">10</text><text class="sp" x="189.9" y="418.0">1</text>
<line x1="239.3" y1="436.8" x2="239.3" y2="440.8" stroke="#333" stroke-width="1"/>
<line x1="194.8" y1="396.6" x2="198.8" y2="396.6" stroke="#333" stroke-width="1"/>
<text class="tk" x="238.5" y="450.3" text-anchor="end" textLength="9.4" lengthAdjust="spacingAndGlyphs">10</text><text class="sp" x="239.2" y="446.4">2</text>
<text class="tk" x="189.5" y="400.2" text-anchor="end" textLength="11" lengthAdjust="spacingAndGlyphs">10</text><text class="sp" x="189.9" y="397.9">2</text>
<line x1="259.6" y1="436.8" x2="259.6" y2="440.8" stroke="#333" stroke-width="1"/>
<line x1="194.8" y1="376.4" x2="198.8" y2="376.4" stroke="#333" stroke-width="1"/>
<text class="tk" x="258.8" y="450.3" text-anchor="end" textLength="9.4" lengthAdjust="spacingAndGlyphs">10</text><text class="sp" x="259.4" y="446.4">3</text>
<text class="tk" x="189.5" y="380.0" text-anchor="end" textLength="11" lengthAdjust="spacingAndGlyphs">10</text><text class="sp" x="189.9" y="377.7">3</text>
<line x1="279.8" y1="436.8" x2="279.8" y2="440.8" stroke="#333" stroke-width="1"/>
<line x1="194.8" y1="356.3" x2="198.8" y2="356.3" stroke="#333" stroke-width="1"/>
<text class="tk" x="279.0" y="450.3" text-anchor="end" textLength="9.4" lengthAdjust="spacingAndGlyphs">10</text><text class="sp" x="279.7" y="446.4">4</text>
<text class="tk" x="189.5" y="359.9" text-anchor="end" textLength="11" lengthAdjust="spacingAndGlyphs">10</text><text class="sp" x="189.9" y="357.6">4</text>
<text class="rl" x="222.3" y="395.2" text-anchor="end">R6</text>
<text class="rl" x="229.4" y="395.2">R7</text>
<text class="rl" x="222.3" y="409.4" text-anchor="end">R8</text>
<text class="rl" x="229.4" y="409.4">R9</text>
<text class="pc" x="207.3" y="371.3" text-anchor="start">0.6%</text>
<text class="pc" x="276.8" y="371.3" text-anchor="end">0.9%</text>
<text class="pc" x="275.0" y="434.5" text-anchor="end">14.7%</text>
<g filter="url(#bl)"><path fill="#646464" d="M392 375h1v1h-1zM395 375h4v1h-4zM388 376h1v1h-1zM390 376h5v1h-5zM396 376h2v1h-2zM399 376h3v1h-3zM385 377h2v1h-2zM388 377h1v1h-1zM390 377h2v1h-2zM393 377h1v1h-1zM395 377h4v1h-4zM400 377h2v1h-2zM383 378h3v1h-3zM387 378h12v1h-12zM400 378h3v1h-3zM383 379h4v1h-4zM388 379h3v1h-3zM392 379h2v1h-2zM396 379h2v1h-2zM399 379h1v1h-1zM402 379h2v1h-2zM380 380h14v1h-14zM395 380h6v1h-6zM403 380h1v1h-1zM379 381h3v1h-3zM383 381h1v1h-1zM385 381h7v1h-7zM393 381h2v1h-2zM396 381h2v1h-2zM399 381h4v1h-4zM379 382h10v1h-10zM390 382h3v1h-3zM394 382h1v1h-1zM396 382h3v1h-3zM400 382h2v1h-2zM377 383h3v1h-3zM381 383h2v1h-2zM384 383h5v1h-5zM390 383h1v1h-1zM392 383h1v1h-1zM394 383h5v1h-5zM378 384h4v1h-4zM383 384h1v1h-1zM387 384h11v1h-11zM379 385h1v1h-1zM381 385h1v1h-1zM383 385h5v1h-5zM389 385h1v1h-1zM380 386h3v1h-3zM384 386h5v1h-5zM359 387h1v1h-1zM361 387h6v1h-6zM359 388h3v1h-3zM364 388h1v1h-1zM359 389h1v1h-1zM361 389h3v1h-3zM365 389h5v1h-5zM358 390h1v1h-1zM360 390h2v1h-2zM363 390h2v1h-2zM366 390h1v1h-1zM368 390h3v1h-3zM358 391h1v1h-1zM360 391h1v1h-1zM362 391h4v1h-4zM367 391h4v1h-4zM357 392h8v1h-8zM366 392h1v1h-1zM368 392h3v1h-3zM357 393h1v1h-1zM359 393h4v1h-4zM364 393h9v1h-9zM358 394h15v1h-15zM357 395h1v1h-1zM361 395h1v1h-1zM363 395h5v1h-5zM369 395h3v1h-3zM358 396h4v1h-4zM363 396h5v1h-5zM370 396h3v1h-3zM358 397h2v1h-2zM361 397h4v1h-4zM367 397h3v1h-3zM371 397h1v1h-1zM350 398h1v1h-1zM352 398h2v1h-2zM355 398h9v1h-9zM365 398h2v1h-2zM368 398h4v1h-4zM348 399h4v1h-4zM354 399h1v1h-1zM356 399h2v1h-2zM359 399h3v1h-3zM364 399h6v1h-6zM346 400h11v1h-11zM358 400h1v1h-1zM361 400h7v1h-7zM348 401h12v1h-12zM361 401h3v1h-3zM347 402h16v1h-16zM346 403h2v1h-2zM350 403h12v1h-12zM345 404h1v1h-1zM347 404h13v1h-13zM361 404h1v1h-1zM345 405h4v1h-4zM350 405h12v1h-12zM345 406h9v1h-9zM355 406h8v1h-8zM345 407h18v1h-18zM345 408h1v1h-1zM347 408h12v1h-12zM360 408h3v1h-3zM345 409h18v1h-18zM364 409h1v1h-1zM345 410h20v1h-20zM345 411h1v1h-1zM347 411h18v1h-18zM345 412h12v1h-12zM358 412h8v1h-8zM345 413h4v1h-4zM350 413h6v1h-6zM357 413h9v1h-9zM345 414h1v1h-1zM347 414h19v1h-19zM345 415h21v1h-21zM345 416h21v1h-21zM345 417h7v1h-7zM353 417h14v1h-14zM345 418h22v1h-22zM345 419h21v1h-21zM345 420h22v1h-22zM345 421h22v1h-22zM345 422h11v1h-11zM357 422h10v1h-10zM345 423h21v1h-21zM345 424h12v1h-12zM359 424h3v1h-3zM363 424h3v1h-3zM345 425h1v1h-1zM347 425h18v1h-18zM366 425h1v1h-1zM345 426h22v1h-22zM345 427h22v1h-22zM345 428h22v1h-22zM345 429h21v1h-21zM345 430h21v1h-21zM345 431h21v1h-21zM345 432h21v1h-21zM345 433h20v1h-20zM345 434h21v1h-21zM345 435h5v1h-5zM351 435h15v1h-15zM345 436h20v1h-20zM345 437h20v1h-20z"/>
<path fill="#404040" d="M357 368h1v1h-1zM359 369h1v1h-1zM362 369h1v1h-1zM356 370h1v1h-1zM357 371h1v1h-1zM367 371h1v1h-1zM370 371h1v1h-1zM401 371h1v1h-1zM389 372h1v1h-1zM391 372h1v1h-1zM393 372h1v1h-1zM402 372h1v1h-1zM389 373h1v1h-1zM392 373h3v1h-3zM396 373h1v1h-1zM401 373h2v1h-2zM350 374h1v1h-1zM354 374h1v1h-1zM367 374h1v1h-1zM387 374h9v1h-9zM398 374h6v1h-6zM405 374h2v1h-2zM408 374h1v1h-1zM356 375h1v1h-1zM358 375h1v1h-1zM374 375h1v1h-1zM381 375h1v1h-1zM383 375h4v1h-4zM388 375h1v1h-1zM391 375h1v1h-1zM400 375h2v1h-2zM403 375h3v1h-3zM350 376h1v1h-1zM381 376h1v1h-1zM383 376h2v1h-2zM386 376h1v1h-1zM403 376h1v1h-1zM407 376h1v1h-1zM411 376h1v1h-1zM356 377h1v1h-1zM365 377h2v1h-2zM369 377h2v1h-2zM372 377h1v1h-1zM377 377h2v1h-2zM380 377h5v1h-5zM403 377h4v1h-4zM409 377h1v1h-1zM414 377h1v1h-1zM362 378h1v1h-1zM367 378h1v1h-1zM377 378h1v1h-1zM379 378h1v1h-1zM382 378h1v1h-1zM405 378h1v1h-1zM407 378h1v1h-1zM347 379h1v1h-1zM354 379h1v1h-1zM358 379h1v1h-1zM366 379h1v1h-1zM374 379h1v1h-1zM376 379h1v1h-1zM379 379h1v1h-1zM381 379h1v1h-1zM404 379h2v1h-2zM407 379h1v1h-1zM409 379h1v1h-1zM363 380h1v1h-1zM370 380h1v1h-1zM375 380h3v1h-3zM379 380h1v1h-1zM405 380h2v1h-2zM410 380h1v1h-1zM362 381h2v1h-2zM371 381h1v1h-1zM373 381h1v1h-1zM375 381h1v1h-1zM377 381h2v1h-2zM403 381h1v1h-1zM405 381h2v1h-2zM346 382h1v1h-1zM352 382h1v1h-1zM366 382h1v1h-1zM371 382h4v1h-4zM402 382h3v1h-3zM408 382h1v1h-1zM347 383h1v1h-1zM352 383h1v1h-1zM360 383h1v1h-1zM371 383h1v1h-1zM373 383h4v1h-4zM400 383h3v1h-3zM404 383h2v1h-2zM351 384h1v1h-1zM355 384h1v1h-1zM364 384h3v1h-3zM373 384h1v1h-1zM375 384h1v1h-1zM399 384h4v1h-4zM405 384h1v1h-1zM348 385h1v1h-1zM354 385h2v1h-2zM357 385h4v1h-4zM362 385h3v1h-3zM366 385h2v1h-2zM369 385h1v1h-1zM372 385h1v1h-1zM374 385h1v1h-1zM377 385h1v1h-1zM396 385h1v1h-1zM399 385h1v1h-1zM346 386h1v1h-1zM348 386h8v1h-8zM357 386h2v1h-2zM360 386h6v1h-6zM367 386h3v1h-3zM372 386h2v1h-2zM375 386h1v1h-1zM377 386h2v1h-2zM389 386h7v1h-7zM397 386h1v1h-1zM399 386h1v1h-1zM402 386h1v1h-1zM346 387h1v1h-1zM349 387h3v1h-3zM354 387h3v1h-3zM358 387h1v1h-1zM367 387h2v1h-2zM371 387h2v1h-2zM376 387h2v1h-2zM379 387h5v1h-5zM388 387h5v1h-5zM396 387h1v1h-1zM398 387h1v1h-1zM400 387h1v1h-1zM345 388h1v1h-1zM347 388h4v1h-4zM355 388h3v1h-3zM369 388h4v1h-4zM375 388h1v1h-1zM380 388h2v1h-2zM386 388h1v1h-1zM388 388h1v1h-1zM392 388h1v1h-1zM345 389h3v1h-3zM349 389h5v1h-5zM355 389h4v1h-4zM371 389h2v1h-2zM375 389h1v1h-1zM377 389h1v1h-1zM380 389h1v1h-1zM383 389h1v1h-1zM386 389h1v1h-1zM392 389h1v1h-1zM346 390h2v1h-2zM349 390h2v1h-2zM352 390h6v1h-6zM371 390h1v1h-1zM374 390h1v1h-1zM381 390h1v1h-1zM389 390h1v1h-1zM345 391h2v1h-2zM349 391h2v1h-2zM352 391h6v1h-6zM375 391h1v1h-1zM377 391h1v1h-1zM382 391h3v1h-3zM345 392h1v1h-1zM348 392h1v1h-1zM350 392h7v1h-7zM373 392h4v1h-4zM345 393h4v1h-4zM352 393h4v1h-4zM373 393h1v1h-1zM376 393h4v1h-4zM382 393h1v1h-1zM346 394h2v1h-2zM349 394h4v1h-4zM354 394h3v1h-3zM373 394h2v1h-2zM378 394h4v1h-4zM345 395h4v1h-4zM350 395h2v1h-2zM354 395h3v1h-3zM373 395h1v1h-1zM376 395h1v1h-1zM378 395h1v1h-1zM346 396h4v1h-4zM351 396h1v1h-1zM354 396h4v1h-4zM373 396h1v1h-1zM375 396h1v1h-1zM377 396h1v1h-1zM345 397h2v1h-2zM348 397h3v1h-3zM352 397h5v1h-5zM373 397h3v1h-3zM377 397h2v1h-2zM383 397h1v1h-1zM345 398h1v1h-1zM347 398h3v1h-3zM372 398h1v1h-1zM374 398h1v1h-1zM345 399h2v1h-2zM370 399h3v1h-3zM368 400h1v1h-1zM370 400h4v1h-4zM376 400h1v1h-1zM346 401h1v1h-1zM364 401h5v1h-5zM371 401h1v1h-1zM345 402h2v1h-2zM363 402h1v1h-1zM367 402h2v1h-2zM371 402h5v1h-5zM345 403h1v1h-1zM363 403h2v1h-2zM368 403h1v1h-1zM397 403h1v1h-1zM362 404h3v1h-3zM375 404h1v1h-1zM362 405h2v1h-2zM366 405h1v1h-1zM377 405h1v1h-1zM364 406h1v1h-1zM366 407h3v1h-3zM370 407h1v1h-1zM379 407h1v1h-1zM372 409h1v1h-1zM368 410h1v1h-1zM365 411h1v1h-1zM367 411h2v1h-2zM380 411h1v1h-1zM366 412h1v1h-1zM377 412h1v1h-1zM366 413h1v1h-1zM366 414h1v1h-1zM381 414h1v1h-1zM366 415h1v1h-1zM379 415h1v1h-1zM366 416h1v1h-1zM377 416h2v1h-2zM384 416h1v1h-1zM367 417h1v1h-1zM379 417h1v1h-1zM373 418h1v1h-1zM369 419h2v1h-2zM367 420h1v1h-1zM375 420h1v1h-1zM380 421h1v1h-1zM385 421h1v1h-1zM367 422h1v1h-1zM369 422h1v1h-1zM367 423h3v1h-3zM367 424h2v1h-2zM372 424h2v1h-2zM367 425h1v1h-1zM369 426h1v1h-1zM377 427h1v1h-1zM381 427h1v1h-1zM367 428h1v1h-1zM371 428h1v1h-1zM366 430h1v1h-1zM368 430h1v1h-1zM366 431h1v1h-1zM366 432h2v1h-2zM376 433h1v1h-1zM366 434h1v1h-1zM365 436h2v1h-2zM376 436h1v1h-1z"/></g>
<rect x="344.0" y="358.7" width="82.2" height="80.1" fill="none" stroke="#4a4a4a" stroke-width="1.3"/>
<line x1="372.3" y1="358.7" x2="372.3" y2="438.8" stroke="#1a1a1a" stroke-width="1"/>
<line x1="344.0" y1="402.5" x2="426.2" y2="402.5" stroke="#333" stroke-width="1"/>
<rect x="344.4" y="359.2" width="2.4" height="2.2" fill="#000"/>
<rect x="370.3" y="400.0" width="3" height="3" fill="#000"/>
<line x1="344.0" y1="438.8" x2="344.0" y2="442.8" stroke="#333" stroke-width="1"/>
<line x1="340.0" y1="438.8" x2="344.0" y2="438.8" stroke="#333" stroke-width="1"/>
<text class="tk" x="343.2" y="452.3" text-anchor="end" textLength="9.4" lengthAdjust="spacingAndGlyphs">10</text><text class="sp" x="343.9" y="448.4">0</text>
<text class="tk" x="334.7" y="442.4" text-anchor="end" textLength="11" lengthAdjust="spacingAndGlyphs">10</text><text class="sp" x="335.1" y="440.1">0</text>
<line x1="364.6" y1="438.8" x2="364.6" y2="442.8" stroke="#333" stroke-width="1"/>
<line x1="340.0" y1="418.8" x2="344.0" y2="418.8" stroke="#333" stroke-width="1"/>
<text class="tk" x="363.8" y="452.3" text-anchor="end" textLength="9.4" lengthAdjust="spacingAndGlyphs">10</text><text class="sp" x="364.4" y="448.4">1</text>
<text class="tk" x="334.7" y="422.4" text-anchor="end" textLength="11" lengthAdjust="spacingAndGlyphs">10</text><text class="sp" x="335.1" y="420.1">1</text>
<line x1="385.1" y1="438.8" x2="385.1" y2="442.8" stroke="#333" stroke-width="1"/>
<line x1="340.0" y1="398.8" x2="344.0" y2="398.8" stroke="#333" stroke-width="1"/>
<text class="tk" x="384.3" y="452.3" text-anchor="end" textLength="9.4" lengthAdjust="spacingAndGlyphs">10</text><text class="sp" x="385.0" y="448.4">2</text>
<text class="tk" x="334.7" y="402.4" text-anchor="end" textLength="11" lengthAdjust="spacingAndGlyphs">10</text><text class="sp" x="335.1" y="400.1">2</text>
<line x1="405.6" y1="438.8" x2="405.6" y2="442.8" stroke="#333" stroke-width="1"/>
<line x1="340.0" y1="378.7" x2="344.0" y2="378.7" stroke="#333" stroke-width="1"/>
<text class="tk" x="404.8" y="452.3" text-anchor="end" textLength="9.4" lengthAdjust="spacingAndGlyphs">10</text><text class="sp" x="405.5" y="448.4">3</text>
<text class="tk" x="334.7" y="382.3" text-anchor="end" textLength="11" lengthAdjust="spacingAndGlyphs">10</text><text class="sp" x="335.1" y="380.0">3</text>
<line x1="426.2" y1="438.8" x2="426.2" y2="442.8" stroke="#333" stroke-width="1"/>
<line x1="340.0" y1="358.7" x2="344.0" y2="358.7" stroke="#333" stroke-width="1"/>
<text class="tk" x="425.4" y="452.3" text-anchor="end" textLength="9.4" lengthAdjust="spacingAndGlyphs">10</text><text class="sp" x="426.1" y="448.4">4</text>
<text class="tk" x="334.7" y="362.3" text-anchor="end" textLength="11" lengthAdjust="spacingAndGlyphs">10</text><text class="sp" x="335.1" y="360.0">4</text>
<text class="rl" x="370.8" y="397.2" text-anchor="end">R6</text>
<text class="rl" x="375.3" y="397.2">R7</text>
<text class="rl" x="370.8" y="411.4" text-anchor="end">R8</text>
<text class="rl" x="375.3" y="411.4">R9</text>
<text class="pc" x="351.4" y="369.8" text-anchor="start">7%</text>
<text class="pc" x="416.5" y="369.8" text-anchor="end">4.5%</text>
<g filter="url(#bl)"><path fill="#646464" d="M41 525h2v1h-2zM44 525h1v1h-1zM41 526h3v1h-3zM45 526h6v1h-6zM41 527h12v1h-12zM41 528h14v1h-14zM41 529h14v1h-14zM41 530h7v1h-7zM49 530h7v1h-7zM41 531h16v1h-16zM41 532h17v1h-17zM41 533h8v1h-8zM50 533h8v1h-8zM41 534h5v1h-5zM47 534h12v1h-12zM41 535h14v1h-14zM56 535h3v1h-3zM41 536h19v1h-19zM41 537h19v1h-19zM41 538h19v1h-19zM41 539h19v1h-19zM41 540h20v1h-20zM41 541h5v1h-5zM47 541h14v1h-14zM41 542h20v1h-20zM41 543h20v1h-20zM41 544h20v1h-20zM41 545h7v1h-7zM49 545h12v1h-12zM41 546h6v1h-6zM48 546h3v1h-3zM52 546h9v1h-9z"/>
<path fill="#404040" d="M81 469h1v1h-1zM46 476h1v1h-1zM48 477h1v1h-1zM52 477h1v1h-1zM53 478h2v1h-2zM49 479h1v1h-1zM58 479h1v1h-1zM60 479h1v1h-1zM49 480h1v1h-1zM49 481h1v1h-1zM51 481h1v1h-1zM53 481h1v1h-1zM44 482h2v1h-2zM51 482h1v1h-1zM54 482h2v1h-2zM58 482h1v1h-1zM47 483h1v1h-1zM54 483h2v1h-2zM59 483h1v1h-1zM86 483h1v1h-1zM45 484h2v1h-2zM48 484h1v1h-1zM50 484h2v1h-2zM53 484h1v1h-1zM55 484h3v1h-3zM48 485h1v1h-1zM51 485h1v1h-1zM56 485h1v1h-1zM42 486h1v1h-1zM49 486h1v1h-1zM56 486h1v1h-1zM58 486h1v1h-1zM50 487h2v1h-2zM56 487h2v1h-2zM59 487h2v1h-2zM42 488h1v1h-1zM44 488h1v1h-1zM46 488h1v1h-1zM52 488h1v1h-1zM63 488h1v1h-1zM42 489h1v1h-1zM46 489h1v1h-1zM52 489h3v1h-3zM57 489h1v1h-1zM59 489h1v1h-1zM74 489h1v1h-1zM43 490h1v1h-1zM45 490h2v1h-2zM53 490h2v1h-2zM44 491h1v1h-1zM46 491h1v1h-1zM50 491h2v1h-2zM56 491h1v1h-1zM58 491h1v1h-1zM95 491h1v1h-1zM41 492h1v1h-1zM46 492h1v1h-1zM49 492h3v1h-3zM55 492h2v1h-2zM47 493h1v1h-1zM49 493h2v1h-2zM52 493h1v1h-1zM54 493h6v1h-6zM49 494h1v1h-1zM54 494h1v1h-1zM58 494h1v1h-1zM47 495h1v1h-1zM49 495h1v1h-1zM52 495h1v1h-1zM46 496h3v1h-3zM48 497h3v1h-3zM52 497h2v1h-2zM55 497h2v1h-2zM43 498h1v1h-1zM47 498h1v1h-1zM52 498h1v1h-1zM49 499h2v1h-2zM58 499h1v1h-1zM52 500h1v1h-1zM71 500h1v1h-1zM46 501h2v1h-2zM53 501h2v1h-2zM82 501h1v1h-1zM48 502h1v1h-1zM98 502h1v1h-1zM74 504h1v1h-1zM66 506h2v1h-2zM75 506h1v1h-1zM94 507h1v1h-1zM82 508h1v1h-1zM76 511h1v1h-1zM52 512h1v1h-1zM52 513h1v1h-1zM46 514h1v1h-1zM49 514h1v1h-1zM41 515h1v1h-1zM47 515h2v1h-2zM50 515h1v1h-1zM52 515h2v1h-2zM57 515h1v1h-1zM59 515h2v1h-2zM63 515h1v1h-1zM67 515h1v1h-1zM41 516h2v1h-2zM45 516h2v1h-2zM50 516h2v1h-2zM53 516h1v1h-1zM55 516h1v1h-1zM67 516h1v1h-1zM44 517h1v1h-1zM47 517h1v1h-1zM51 517h1v1h-1zM53 517h2v1h-2zM57 517h2v1h-2zM66 517h1v1h-1zM76 517h1v1h-1zM52 518h1v1h-1zM56 518h1v1h-1zM61 518h1v1h-1zM63 518h2v1h-2zM79 518h1v1h-1zM83 518h1v1h-1zM87 518h1v1h-1zM46 519h1v1h-1zM51 519h1v1h-1zM53 519h1v1h-1zM86 519h1v1h-1zM41 520h1v1h-1zM44 520h2v1h-2zM50 520h2v1h-2zM54 520h1v1h-1zM59 520h1v1h-1zM62 520h1v1h-1zM66 520h2v1h-2zM71 520h1v1h-1zM82 520h1v1h-1zM86 520h1v1h-1zM51 521h1v1h-1zM53 521h1v1h-1zM56 521h2v1h-2zM59 521h3v1h-3zM65 521h1v1h-1zM69 521h1v1h-1zM79 521h1v1h-1zM82 521h2v1h-2zM41 522h1v1h-1zM44 522h1v1h-1zM46 522h3v1h-3zM50 522h1v1h-1zM54 522h1v1h-1zM56 522h1v1h-1zM61 522h2v1h-2zM64 522h2v1h-2zM68 522h3v1h-3zM79 522h1v1h-1zM83 522h1v1h-1zM41 523h1v1h-1zM43 523h3v1h-3zM49 523h1v1h-1zM55 523h2v1h-2zM58 523h1v1h-1zM60 523h5v1h-5zM66 523h1v1h-1zM72 523h2v1h-2zM80 523h2v1h-2zM84 523h2v1h-2zM48 524h2v1h-2zM51 524h1v1h-1zM53 524h2v1h-2zM58 524h1v1h-1zM62 524h1v1h-1zM64 524h3v1h-3zM69 524h2v1h-2zM72 524h1v1h-1zM80 524h1v1h-1zM86 524h2v1h-2zM51 525h1v1h-1zM53 525h2v1h-2zM56 525h2v1h-2zM59 525h5v1h-5zM65 525h1v1h-1zM77 525h1v1h-1zM79 525h1v1h-1zM85 525h1v1h-1zM51 526h1v1h-1zM53 526h2v1h-2zM57 526h3v1h-3zM61 526h1v1h-1zM63 526h2v1h-2zM66 526h2v1h-2zM80 526h2v1h-2zM84 526h2v1h-2zM53 527h1v1h-1zM58 527h1v1h-1zM60 527h1v1h-1zM62 527h3v1h-3zM79 527h1v1h-1zM81 527h4v1h-4zM55 528h1v1h-1zM57 528h1v1h-1zM60 528h2v1h-2zM63 528h1v1h-1zM65 528h1v1h-1zM67 528h2v1h-2zM70 528h1v1h-1zM75 528h1v1h-1zM82 528h2v1h-2zM56 529h1v1h-1zM58 529h3v1h-3zM63 529h2v1h-2zM71 529h1v1h-1zM73 529h1v1h-1zM77 529h4v1h-4zM84 529h2v1h-2zM57 530h4v1h-4zM62 530h1v1h-1zM67 530h1v1h-1zM69 530h1v1h-1zM72 530h1v1h-1zM76 530h1v1h-1zM80 530h1v1h-1zM88 530h1v1h-1zM57 531h3v1h-3zM78 531h3v1h-3zM84 531h3v1h-3zM58 532h2v1h-2zM66 532h2v1h-2zM69 532h1v1h-1zM81 532h1v1h-1zM83 532h1v1h-1zM87 532h1v1h-1zM59 533h1v1h-1zM62 533h2v1h-2zM68 533h1v1h-1zM81 533h1v1h-1zM83 533h1v1h-1zM85 533h2v1h-2zM88 533h1v1h-1zM59 534h1v1h-1zM65 534h2v1h-2zM76 534h2v1h-2zM84 534h1v1h-1zM59 535h2v1h-2zM62 535h1v1h-1zM66 535h1v1h-1zM68 535h1v1h-1zM76 535h2v1h-2zM81 535h1v1h-1zM60 536h2v1h-2zM63 536h1v1h-1zM78 536h1v1h-1zM81 536h1v1h-1zM83 536h2v1h-2zM62 537h1v1h-1zM66 537h1v1h-1zM68 537h1v1h-1zM70 537h1v1h-1zM80 537h1v1h-1zM82 537h2v1h-2zM61 538h1v1h-1zM77 538h2v1h-2zM82 538h4v1h-4zM60 539h2v1h-2zM63 539h1v1h-1zM68 539h1v1h-1zM83 539h2v1h-2zM61 540h1v1h-1zM65 540h2v1h-2zM76 540h1v1h-1zM80 540h1v1h-1zM83 540h1v1h-1zM85 540h1v1h-1zM61 541h1v1h-1zM63 541h1v1h-1zM77 541h1v1h-1zM79 541h1v1h-1zM82 541h2v1h-2zM85 541h1v1h-1zM61 542h1v1h-1zM63 542h2v1h-2zM76 542h1v1h-1zM80 542h1v1h-1zM61 543h1v1h-1zM63 543h1v1h-1zM66 543h1v1h-1zM68 543h1v1h-1zM63 544h1v1h-1zM66 544h1v1h-1zM85 544h1v1h-1zM61 545h1v1h-1zM71 545h1v1h-1zM79 545h1v1h-1zM83 545h1v1h-1zM61 546h1v1h-1zM63 546h2v1h-2zM84 546h1v1h-1z"/></g>
<rect x="40.0" y="468.0" width="80.8" height="79.9" fill="none" stroke="#4a4a4a" stroke-width="1.3"/>
<line x1="67.4" y1="468.0" x2="67.4" y2="547.9" stroke="#1a1a1a" stroke-width="1"/>
<line x1="40.0" y1="511.1" x2="120.8" y2="511.1" stroke="#333" stroke-width="1"/>
<rect x="40.4" y="468.5" width="2.4" height="2.2" fill="#000"/>
<rect x="65.4" y="508.6" width="3" height="3" fill="#000"/>
<line x1="40.0" y1="547.9" x2="40.0" y2="551.9" stroke="#333" stroke-width="1"/>
<line x1="36.0" y1="547.9" x2="40.0" y2="547.9" stroke="#333" stroke-width="1"/>
<text class="tk" x="39.2" y="561.4" text-anchor="end" textLength="9.4" lengthAdjust="spacingAndGlyphs">10</text><text class="sp" x="39.9" y="557.5">0</text>
<text class="tk" x="30.7" y="551.5" text-anchor="end" textLength="11" lengthAdjust="spacingAndGlyphs">10</text><text class="sp" x="31.1" y="549.2">0</text>
<line x1="60.2" y1="547.9" x2="60.2" y2="551.9" stroke="#333" stroke-width="1"/>
<line x1="36.0" y1="527.9" x2="40.0" y2="527.9" stroke="#333" stroke-width="1"/>
<text class="tk" x="59.4" y="561.4" text-anchor="end" textLength="9.4" lengthAdjust="spacingAndGlyphs">10</text><text class="sp" x="60.1" y="557.5">1</text>
<text class="tk" x="30.7" y="531.5" text-anchor="end" textLength="11" lengthAdjust="spacingAndGlyphs">10</text><text class="sp" x="31.1" y="529.2">1</text>
<line x1="80.4" y1="547.9" x2="80.4" y2="551.9" stroke="#333" stroke-width="1"/>
<line x1="36.0" y1="507.9" x2="40.0" y2="507.9" stroke="#333" stroke-width="1"/>
<text class="tk" x="79.6" y="561.4" text-anchor="end" textLength="9.4" lengthAdjust="spacingAndGlyphs">10</text><text class="sp" x="80.3" y="557.5">2</text>
<text class="tk" x="30.7" y="511.6" text-anchor="end" textLength="11" lengthAdjust="spacingAndGlyphs">10</text><text class="sp" x="31.1" y="509.2">2</text>
<line x1="100.6" y1="547.9" x2="100.6" y2="551.9" stroke="#333" stroke-width="1"/>
<line x1="36.0" y1="488.0" x2="40.0" y2="488.0" stroke="#333" stroke-width="1"/>
<text class="tk" x="99.8" y="561.4" text-anchor="end" textLength="9.4" lengthAdjust="spacingAndGlyphs">10</text><text class="sp" x="100.5" y="557.5">3</text>
<text class="tk" x="30.7" y="491.6" text-anchor="end" textLength="11" lengthAdjust="spacingAndGlyphs">10</text><text class="sp" x="31.1" y="489.3">3</text>
<line x1="120.8" y1="547.9" x2="120.8" y2="551.9" stroke="#333" stroke-width="1"/>
<line x1="36.0" y1="468.0" x2="40.0" y2="468.0" stroke="#333" stroke-width="1"/>
<text class="tk" x="120.0" y="561.4" text-anchor="end" textLength="9.4" lengthAdjust="spacingAndGlyphs">10</text><text class="sp" x="120.7" y="557.5">4</text>
<text class="tk" x="30.7" y="471.6" text-anchor="end" textLength="11" lengthAdjust="spacingAndGlyphs">10</text><text class="sp" x="31.1" y="469.3">4</text>
<text class="rl" x="64.2" y="506.3" text-anchor="end">R6</text>
<text class="rl" x="72.2" y="506.3">R7</text>
<text class="rl" x="64.2" y="520.5" text-anchor="end">R8</text>
<text class="rl" x="72.2" y="520.5">R9</text>
<text class="pc" x="42.1" y="478.9" text-anchor="start">1.5%</text>
<text class="pc" x="111.4" y="542.6" text-anchor="end">8.5%</text>
<g filter="url(#bl)"><path fill="#646464" d="M246 521h3v1h-3zM250 521h1v1h-1zM244 522h9v1h-9zM243 523h10v1h-10zM242 524h1v1h-1zM244 524h9v1h-9zM240 525h2v1h-2zM243 525h3v1h-3zM247 525h6v1h-6zM238 526h12v1h-12zM251 526h2v1h-2zM237 527h11v1h-11zM249 527h3v1h-3zM236 528h6v1h-6zM243 528h8v1h-8zM201 529h5v1h-5zM207 529h10v1h-10zM235 529h16v1h-16zM201 530h12v1h-12zM214 530h6v1h-6zM221 530h1v1h-1zM234 530h9v1h-9zM244 530h7v1h-7zM201 531h1v1h-1zM203 531h21v1h-21zM233 531h17v1h-17zM201 532h22v1h-22zM224 532h1v1h-1zM233 532h1v1h-1zM235 532h15v1h-15zM201 533h25v1h-25zM232 533h8v1h-8zM241 533h4v1h-4zM246 533h3v1h-3zM201 534h9v1h-9zM211 534h16v1h-16zM231 534h17v1h-17zM201 535h26v1h-26zM230 535h17v1h-17zM201 536h4v1h-4zM206 536h31v1h-31zM238 536h8v1h-8zM201 537h44v1h-44zM201 538h15v1h-15zM217 538h1v1h-1zM219 538h26v1h-26zM201 539h43v1h-43zM201 540h19v1h-19zM221 540h23v1h-23zM201 541h43v1h-43zM201 542h41v1h-41zM243 542h2v1h-2zM201 543h44v1h-44zM201 544h44v1h-44zM201 545h19v1h-19zM221 545h24v1h-24zM201 546h5v1h-5zM207 546h38v1h-38z"/>
<path fill="#404040" d="M250 473h1v1h-1zM211 484h1v1h-1zM216 484h1v1h-1zM218 485h1v1h-1zM211 486h1v1h-1zM220 486h1v1h-1zM224 486h1v1h-1zM207 487h2v1h-2zM214 487h1v1h-1zM216 487h2v1h-2zM223 487h1v1h-1zM208 488h2v1h-2zM216 488h1v1h-1zM220 488h2v1h-2zM207 489h2v1h-2zM210 489h2v1h-2zM216 489h1v1h-1zM218 489h1v1h-1zM224 489h1v1h-1zM210 490h1v1h-1zM216 490h1v1h-1zM224 490h1v1h-1zM227 490h1v1h-1zM209 491h2v1h-2zM213 491h1v1h-1zM217 491h1v1h-1zM223 491h1v1h-1zM229 491h1v1h-1zM206 492h1v1h-1zM210 492h1v1h-1zM213 492h1v1h-1zM222 492h1v1h-1zM204 493h1v1h-1zM206 493h1v1h-1zM209 493h2v1h-2zM208 494h1v1h-1zM213 494h1v1h-1zM216 494h4v1h-4zM222 494h1v1h-1zM224 494h2v1h-2zM228 494h1v1h-1zM232 494h1v1h-1zM211 495h3v1h-3zM218 495h1v1h-1zM206 496h1v1h-1zM210 496h1v1h-1zM212 496h1v1h-1zM218 496h1v1h-1zM222 496h1v1h-1zM228 496h1v1h-1zM212 497h1v1h-1zM217 497h1v1h-1zM219 497h2v1h-2zM223 497h1v1h-1zM227 497h1v1h-1zM229 497h1v1h-1zM231 497h1v1h-1zM217 498h2v1h-2zM223 498h1v1h-1zM227 498h1v1h-1zM231 498h1v1h-1zM201 499h1v1h-1zM208 499h1v1h-1zM213 499h1v1h-1zM222 499h1v1h-1zM229 499h1v1h-1zM208 500h1v1h-1zM213 500h1v1h-1zM216 500h1v1h-1zM224 500h1v1h-1zM226 500h1v1h-1zM232 500h1v1h-1zM205 501h1v1h-1zM216 501h2v1h-2zM219 501h1v1h-1zM223 501h1v1h-1zM225 501h1v1h-1zM235 501h1v1h-1zM213 502h1v1h-1zM226 502h2v1h-2zM241 502h1v1h-1zM248 502h1v1h-1zM226 503h2v1h-2zM220 504h1v1h-1zM226 504h1v1h-1zM232 504h1v1h-1zM218 505h1v1h-1zM225 505h1v1h-1zM238 505h1v1h-1zM243 505h1v1h-1zM211 506h2v1h-2zM220 506h1v1h-1zM225 506h1v1h-1zM215 507h1v1h-1zM221 507h1v1h-1zM227 507h1v1h-1zM213 509h1v1h-1zM220 509h1v1h-1zM236 510h1v1h-1zM237 511h2v1h-2zM216 514h1v1h-1zM251 515h1v1h-1zM202 516h1v1h-1zM204 516h2v1h-2zM214 516h1v1h-1zM220 516h1v1h-1zM202 517h1v1h-1zM205 517h1v1h-1zM208 517h1v1h-1zM212 517h2v1h-2zM223 517h1v1h-1zM225 517h1v1h-1zM205 518h1v1h-1zM209 518h1v1h-1zM213 518h2v1h-2zM217 518h1v1h-1zM219 518h4v1h-4zM225 518h1v1h-1zM201 519h1v1h-1zM206 519h1v1h-1zM210 519h1v1h-1zM212 519h3v1h-3zM216 519h1v1h-1zM227 519h1v1h-1zM234 519h1v1h-1zM251 519h3v1h-3zM201 520h1v1h-1zM212 520h1v1h-1zM220 520h3v1h-3zM227 520h1v1h-1zM229 520h1v1h-1zM244 520h1v1h-1zM246 520h1v1h-1zM248 520h1v1h-1zM250 520h2v1h-2zM210 521h1v1h-1zM213 521h1v1h-1zM216 521h1v1h-1zM231 521h1v1h-1zM236 521h1v1h-1zM242 521h4v1h-4zM204 522h3v1h-3zM208 522h1v1h-1zM212 522h1v1h-1zM218 522h1v1h-1zM220 522h2v1h-2zM225 522h1v1h-1zM228 522h1v1h-1zM232 522h1v1h-1zM243 522h1v1h-1zM201 523h1v1h-1zM209 523h1v1h-1zM212 523h1v1h-1zM217 523h1v1h-1zM227 523h2v1h-2zM230 523h1v1h-1zM241 523h2v1h-2zM253 523h1v1h-1zM201 524h3v1h-3zM209 524h2v1h-2zM213 524h1v1h-1zM222 524h1v1h-1zM225 524h2v1h-2zM229 524h1v1h-1zM231 524h1v1h-1zM236 524h1v1h-1zM240 524h1v1h-1zM254 524h1v1h-1zM202 525h1v1h-1zM204 525h2v1h-2zM207 525h1v1h-1zM212 525h2v1h-2zM215 525h1v1h-1zM217 525h2v1h-2zM220 525h3v1h-3zM231 525h1v1h-1zM239 525h1v1h-1zM254 525h1v1h-1zM201 526h2v1h-2zM204 526h1v1h-1zM212 526h2v1h-2zM216 526h1v1h-1zM222 526h1v1h-1zM226 526h1v1h-1zM236 526h2v1h-2zM254 526h1v1h-1zM201 527h1v1h-1zM205 527h1v1h-1zM207 527h1v1h-1zM210 527h1v1h-1zM213 527h1v1h-1zM215 527h1v1h-1zM218 527h1v1h-1zM222 527h3v1h-3zM229 527h1v1h-1zM252 527h1v1h-1zM201 528h3v1h-3zM205 528h1v1h-1zM209 528h5v1h-5zM215 528h1v1h-1zM217 528h2v1h-2zM225 528h1v1h-1zM228 528h1v1h-1zM234 528h1v1h-1zM252 528h1v1h-1zM221 529h2v1h-2zM224 529h2v1h-2zM251 529h1v1h-1zM222 530h2v1h-2zM225 530h1v1h-1zM232 530h2v1h-2zM251 530h2v1h-2zM224 531h1v1h-1zM231 531h1v1h-1zM250 531h2v1h-2zM225 532h1v1h-1zM229 532h2v1h-2zM232 532h1v1h-1zM226 533h2v1h-2zM229 533h3v1h-3zM227 534h3v1h-3zM228 535h1v1h-1zM246 536h2v1h-2zM245 537h1v1h-1zM245 538h1v1h-1zM244 539h1v1h-1zM244 540h1v1h-1zM246 541h1v1h-1zM245 542h1v1h-1zM245 543h2v1h-2zM245 544h3v1h-3zM246 545h1v1h-1z"/></g>
<rect x="200.3" y="468.3" width="79.6" height="79.3" fill="none" stroke="#4a4a4a" stroke-width="1.3"/>
<line x1="227.4" y1="468.3" x2="227.4" y2="547.6" stroke="#1a1a1a" stroke-width="1"/>
<line x1="200.3" y1="511.1" x2="279.9" y2="511.1" stroke="#333" stroke-width="1"/>
<rect x="200.7" y="468.8" width="2.4" height="2.2" fill="#000"/>
<rect x="225.4" y="508.6" width="3" height="3" fill="#000"/>
<line x1="200.3" y1="547.6" x2="200.3" y2="551.6" stroke="#333" stroke-width="1"/>
<line x1="196.3" y1="547.6" x2="200.3" y2="547.6" stroke="#333" stroke-width="1"/>
<text class="tk" x="199.5" y="561.1" text-anchor="end" textLength="9.4" lengthAdjust="spacingAndGlyphs">10</text><text class="sp" x="200.2" y="557.2">0</text>
<text class="tk" x="191.0" y="551.2" text-anchor="end" textLength="11" lengthAdjust="spacingAndGlyphs">10</text><text class="sp" x="191.4" y="548.9">0</text>
<line x1="220.2" y1="547.6" x2="220.2" y2="551.6" stroke="#333" stroke-width="1"/>
<line x1="196.3" y1="527.8" x2="200.3" y2="527.8" stroke="#333" stroke-width="1"/>
<text class="tk" x="219.4" y="561.1" text-anchor="end" textLength="9.4" lengthAdjust="spacingAndGlyphs">10</text><text class="sp" x="220.1" y="557.2">1</text>
<text class="tk" x="191.0" y="531.4" text-anchor="end" textLength="11" lengthAdjust="spacingAndGlyphs">10</text><text class="sp" x="191.4" y="529.1">1</text>
<line x1="240.1" y1="547.6" x2="240.1" y2="551.6" stroke="#333" stroke-width="1"/>
<line x1="196.3" y1="508.0" x2="200.3" y2="508.0" stroke="#333" stroke-width="1"/>
<text class="tk" x="239.3" y="561.1" text-anchor="end" textLength="9.4" lengthAdjust="spacingAndGlyphs">10</text><text class="sp" x="240.0" y="557.2">2</text>
<text class="tk" x="191.0" y="511.6" text-anchor="end" textLength="11" lengthAdjust="spacingAndGlyphs">10</text><text class="sp" x="191.4" y="509.3">2</text>
<line x1="260.0" y1="547.6" x2="260.0" y2="551.6" stroke="#333" stroke-width="1"/>
<line x1="196.3" y1="488.1" x2="200.3" y2="488.1" stroke="#333" stroke-width="1"/>
<text class="tk" x="259.2" y="561.1" text-anchor="end" textLength="9.4" lengthAdjust="spacingAndGlyphs">10</text><text class="sp" x="259.9" y="557.2">3</text>
<text class="tk" x="191.0" y="491.7" text-anchor="end" textLength="11" lengthAdjust="spacingAndGlyphs">10</text><text class="sp" x="191.4" y="489.4">3</text>
<line x1="279.9" y1="547.6" x2="279.9" y2="551.6" stroke="#333" stroke-width="1"/>
<line x1="196.3" y1="468.3" x2="200.3" y2="468.3" stroke="#333" stroke-width="1"/>
<text class="tk" x="279.1" y="561.1" text-anchor="end" textLength="9.4" lengthAdjust="spacingAndGlyphs">10</text><text class="sp" x="279.8" y="557.2">4</text>
<text class="tk" x="191.0" y="471.9" text-anchor="end" textLength="11" lengthAdjust="spacingAndGlyphs">10</text><text class="sp" x="191.4" y="469.6">4</text>
<text class="rl" x="223.3" y="506.9" text-anchor="end">R6</text>
<text class="rl" x="231.3" y="506.9">R7</text>
<text class="rl" x="223.3" y="520.5" text-anchor="end">R8</text>
<text class="rl" x="231.3" y="520.5">R9</text>
<text class="pc" x="207.4" y="478.9" text-anchor="start">1.2%</text>
<text class="pc" x="276.7" y="482.1" text-anchor="end">0.2%</text>
<text class="pc" x="276.7" y="542.6" text-anchor="end">9.3%</text>
<g filter="url(#bl)"><path fill="#646464" d="M359 502h2v1h-2zM362 502h2v1h-2zM357 503h3v1h-3zM361 503h5v1h-5zM356 504h2v1h-2zM359 504h7v1h-7zM367 504h1v1h-1zM355 505h12v1h-12zM368 505h1v1h-1zM354 506h15v1h-15zM353 507h17v1h-17zM353 508h3v1h-3zM357 508h13v1h-13zM352 509h4v1h-4zM357 509h4v1h-4zM362 509h8v1h-8zM352 510h3v1h-3zM356 510h2v1h-2zM359 510h12v1h-12zM353 511h1v1h-1zM355 511h16v1h-16zM351 512h13v1h-13zM365 512h1v1h-1zM367 512h1v1h-1zM369 512h2v1h-2zM351 513h20v1h-20zM350 514h21v1h-21zM350 515h21v1h-21zM350 516h15v1h-15zM366 516h5v1h-5zM349 517h5v1h-5zM355 517h9v1h-9zM365 517h3v1h-3zM369 517h2v1h-2zM349 518h21v1h-21zM349 519h22v1h-22zM349 520h10v1h-10zM360 520h6v1h-6zM367 520h4v1h-4zM349 521h22v1h-22zM348 522h23v1h-23zM348 523h23v1h-23zM348 524h4v1h-4zM353 524h18v1h-18zM348 525h7v1h-7zM356 525h10v1h-10zM367 525h4v1h-4zM348 526h10v1h-10zM359 526h2v1h-2zM362 526h9v1h-9zM348 527h22v1h-22zM348 528h22v1h-22zM348 529h22v1h-22zM348 530h6v1h-6zM355 530h15v1h-15zM348 531h12v1h-12zM361 531h8v1h-8zM348 532h11v1h-11zM360 532h10v1h-10zM348 533h17v1h-17zM366 533h3v1h-3zM348 534h5v1h-5zM354 534h15v1h-15zM348 535h13v1h-13zM362 535h7v1h-7zM348 536h20v1h-20zM348 537h20v1h-20zM348 538h10v1h-10zM359 538h9v1h-9zM348 539h11v1h-11zM360 539h8v1h-8zM348 540h16v1h-16zM365 540h2v1h-2zM348 541h4v1h-4zM353 541h14v1h-14zM348 542h18v1h-18zM348 543h18v1h-18zM348 544h7v1h-7zM356 544h10v1h-10z"/>
<path fill="#404040" d="M408 477h1v1h-1zM394 478h1v1h-1zM397 478h1v1h-1zM399 478h1v1h-1zM406 479h1v1h-1zM408 479h1v1h-1zM366 480h1v1h-1zM385 480h1v1h-1zM392 480h1v1h-1zM395 480h1v1h-1zM397 480h4v1h-4zM405 480h1v1h-1zM409 480h1v1h-1zM411 480h1v1h-1zM359 481h1v1h-1zM364 481h1v1h-1zM386 481h1v1h-1zM389 481h4v1h-4zM396 481h1v1h-1zM399 481h1v1h-1zM402 481h1v1h-1zM404 481h1v1h-1zM406 481h1v1h-1zM408 481h1v1h-1zM410 481h1v1h-1zM412 481h1v1h-1zM353 482h4v1h-4zM360 482h2v1h-2zM386 482h2v1h-2zM389 482h2v1h-2zM392 482h1v1h-1zM394 482h2v1h-2zM397 482h1v1h-1zM399 482h2v1h-2zM406 482h1v1h-1zM408 482h1v1h-1zM362 483h3v1h-3zM367 483h1v1h-1zM369 483h1v1h-1zM371 483h1v1h-1zM381 483h2v1h-2zM385 483h2v1h-2zM388 483h5v1h-5zM395 483h1v1h-1zM397 483h2v1h-2zM403 483h2v1h-2zM358 484h2v1h-2zM363 484h1v1h-1zM365 484h1v1h-1zM380 484h2v1h-2zM384 484h1v1h-1zM386 484h3v1h-3zM391 484h1v1h-1zM393 484h1v1h-1zM395 484h1v1h-1zM397 484h1v1h-1zM400 484h3v1h-3zM404 484h1v1h-1zM407 484h1v1h-1zM351 485h1v1h-1zM353 485h1v1h-1zM356 485h1v1h-1zM358 485h1v1h-1zM361 485h3v1h-3zM368 485h1v1h-1zM379 485h1v1h-1zM381 485h4v1h-4zM386 485h5v1h-5zM392 485h2v1h-2zM395 485h2v1h-2zM398 485h1v1h-1zM401 485h1v1h-1zM404 485h1v1h-1zM406 485h2v1h-2zM409 485h1v1h-1zM353 486h1v1h-1zM362 486h1v1h-1zM366 486h2v1h-2zM370 486h1v1h-1zM377 486h2v1h-2zM384 486h1v1h-1zM386 486h1v1h-1zM389 486h1v1h-1zM392 486h2v1h-2zM395 486h3v1h-3zM403 486h2v1h-2zM408 486h1v1h-1zM413 486h1v1h-1zM354 487h2v1h-2zM360 487h1v1h-1zM364 487h1v1h-1zM367 487h3v1h-3zM371 487h1v1h-1zM380 487h1v1h-1zM382 487h2v1h-2zM385 487h3v1h-3zM390 487h1v1h-1zM392 487h1v1h-1zM397 487h6v1h-6zM404 487h2v1h-2zM349 488h1v1h-1zM351 488h1v1h-1zM358 488h1v1h-1zM364 488h1v1h-1zM367 488h1v1h-1zM370 488h1v1h-1zM376 488h1v1h-1zM379 488h1v1h-1zM381 488h1v1h-1zM383 488h2v1h-2zM388 488h1v1h-1zM391 488h3v1h-3zM395 488h3v1h-3zM400 488h1v1h-1zM402 488h2v1h-2zM405 488h1v1h-1zM351 489h1v1h-1zM359 489h3v1h-3zM367 489h3v1h-3zM372 489h2v1h-2zM376 489h1v1h-1zM378 489h1v1h-1zM380 489h3v1h-3zM384 489h2v1h-2zM391 489h2v1h-2zM394 489h1v1h-1zM396 489h1v1h-1zM398 489h5v1h-5zM404 489h1v1h-1zM348 490h2v1h-2zM353 490h2v1h-2zM357 490h1v1h-1zM360 490h1v1h-1zM369 490h4v1h-4zM375 490h1v1h-1zM377 490h1v1h-1zM379 490h1v1h-1zM381 490h1v1h-1zM383 490h1v1h-1zM386 490h1v1h-1zM390 490h2v1h-2zM393 490h2v1h-2zM396 490h3v1h-3zM400 490h1v1h-1zM351 491h1v1h-1zM353 491h2v1h-2zM357 491h1v1h-1zM360 491h1v1h-1zM362 491h1v1h-1zM364 491h2v1h-2zM368 491h1v1h-1zM370 491h1v1h-1zM377 491h1v1h-1zM380 491h1v1h-1zM382 491h1v1h-1zM384 491h2v1h-2zM387 491h1v1h-1zM389 491h5v1h-5zM395 491h1v1h-1zM397 491h1v1h-1zM403 491h1v1h-1zM407 491h1v1h-1zM351 492h1v1h-1zM359 492h1v1h-1zM366 492h2v1h-2zM380 492h1v1h-1zM382 492h4v1h-4zM387 492h1v1h-1zM392 492h1v1h-1zM395 492h1v1h-1zM355 493h2v1h-2zM360 493h1v1h-1zM362 493h2v1h-2zM366 493h1v1h-1zM371 493h1v1h-1zM374 493h1v1h-1zM377 493h1v1h-1zM379 493h4v1h-4zM384 493h1v1h-1zM386 493h2v1h-2zM390 493h2v1h-2zM393 493h1v1h-1zM349 494h1v1h-1zM352 494h1v1h-1zM357 494h2v1h-2zM362 494h1v1h-1zM365 494h1v1h-1zM367 494h1v1h-1zM369 494h1v1h-1zM373 494h1v1h-1zM376 494h1v1h-1zM379 494h2v1h-2zM382 494h3v1h-3zM386 494h1v1h-1zM388 494h5v1h-5zM395 494h1v1h-1zM398 494h2v1h-2zM351 495h1v1h-1zM355 495h1v1h-1zM361 495h1v1h-1zM364 495h1v1h-1zM367 495h2v1h-2zM371 495h2v1h-2zM374 495h2v1h-2zM379 495h1v1h-1zM383 495h1v1h-1zM390 495h1v1h-1zM397 495h1v1h-1zM352 496h1v1h-1zM357 496h1v1h-1zM360 496h1v1h-1zM365 496h2v1h-2zM368 496h2v1h-2zM372 496h1v1h-1zM377 496h1v1h-1zM382 496h1v1h-1zM348 497h1v1h-1zM350 497h1v1h-1zM358 497h1v1h-1zM368 497h3v1h-3zM372 497h2v1h-2zM348 498h1v1h-1zM354 498h1v1h-1zM356 498h1v1h-1zM359 498h1v1h-1zM361 498h1v1h-1zM367 498h1v1h-1zM351 499h1v1h-1zM355 499h2v1h-2zM358 499h3v1h-3zM362 499h2v1h-2zM366 499h1v1h-1zM368 499h3v1h-3zM372 499h2v1h-2zM404 499h1v1h-1zM352 500h1v1h-1zM360 500h1v1h-1zM362 500h1v1h-1zM366 500h1v1h-1zM371 500h1v1h-1zM374 500h1v1h-1zM348 501h1v1h-1zM352 501h2v1h-2zM355 501h4v1h-4zM360 501h1v1h-1zM362 501h2v1h-2zM365 501h3v1h-3zM349 502h1v1h-1zM351 502h1v1h-1zM356 502h1v1h-1zM364 502h2v1h-2zM367 502h1v1h-1zM370 502h2v1h-2zM348 503h1v1h-1zM354 503h3v1h-3zM367 503h5v1h-5zM351 504h1v1h-1zM368 504h2v1h-2zM372 504h1v1h-1zM390 504h1v1h-1zM349 505h1v1h-1zM353 505h2v1h-2zM369 505h1v1h-1zM353 506h1v1h-1zM370 506h1v1h-1zM384 506h2v1h-2zM352 507h1v1h-1zM381 507h1v1h-1zM384 507h2v1h-2zM390 507h1v1h-1zM397 507h1v1h-1zM351 508h2v1h-2zM373 508h1v1h-1zM397 508h1v1h-1zM351 509h1v1h-1zM370 509h1v1h-1zM384 509h2v1h-2zM391 509h1v1h-1zM394 509h1v1h-1zM399 509h1v1h-1zM351 510h1v1h-1zM375 510h1v1h-1zM382 510h1v1h-1zM387 510h2v1h-2zM391 510h2v1h-2zM395 510h1v1h-1zM399 510h1v1h-1zM350 511h1v1h-1zM373 511h1v1h-1zM378 511h1v1h-1zM380 511h1v1h-1zM384 511h1v1h-1zM386 511h1v1h-1zM389 511h2v1h-2zM350 512h1v1h-1zM371 512h1v1h-1zM375 512h1v1h-1zM381 512h2v1h-2zM384 512h1v1h-1zM387 512h1v1h-1zM390 512h1v1h-1zM399 512h1v1h-1zM350 513h1v1h-1zM371 513h1v1h-1zM380 513h1v1h-1zM384 513h2v1h-2zM388 513h1v1h-1zM391 513h1v1h-1zM393 513h2v1h-2zM399 513h1v1h-1zM417 513h1v1h-1zM349 514h1v1h-1zM371 514h1v1h-1zM375 514h1v1h-1zM380 514h1v1h-1zM385 514h1v1h-1zM388 514h2v1h-2zM391 514h1v1h-1zM395 514h1v1h-1zM371 515h1v1h-1zM373 515h2v1h-2zM386 515h1v1h-1zM388 515h2v1h-2zM391 515h1v1h-1zM393 515h1v1h-1zM395 515h1v1h-1zM398 515h1v1h-1zM348 516h2v1h-2zM381 516h6v1h-6zM389 516h1v1h-1zM348 517h1v1h-1zM378 517h1v1h-1zM381 517h1v1h-1zM384 517h1v1h-1zM388 517h1v1h-1zM393 517h1v1h-1zM348 518h1v1h-1zM371 518h1v1h-1zM375 518h1v1h-1zM379 518h2v1h-2zM382 518h1v1h-1zM388 518h1v1h-1zM395 518h1v1h-1zM374 519h1v1h-1zM382 519h1v1h-1zM386 519h1v1h-1zM390 519h2v1h-2zM408 519h1v1h-1zM348 520h1v1h-1zM371 520h3v1h-3zM375 520h1v1h-1zM377 520h1v1h-1zM387 520h1v1h-1zM389 520h2v1h-2zM348 521h1v1h-1zM371 521h3v1h-3zM375 521h1v1h-1zM381 521h1v1h-1zM390 521h1v1h-1zM392 521h1v1h-1zM371 522h2v1h-2zM374 522h1v1h-1zM376 522h4v1h-4zM382 522h2v1h-2zM387 522h2v1h-2zM390 522h2v1h-2zM373 523h1v1h-1zM375 523h2v1h-2zM378 523h1v1h-1zM380 523h3v1h-3zM388 523h2v1h-2zM392 523h1v1h-1zM374 524h1v1h-1zM378 524h2v1h-2zM384 524h1v1h-1zM387 524h1v1h-1zM391 524h1v1h-1zM371 525h1v1h-1zM373 525h2v1h-2zM376 525h1v1h-1zM378 525h3v1h-3zM386 525h1v1h-1zM389 525h1v1h-1zM391 525h1v1h-1zM393 525h1v1h-1zM395 525h1v1h-1zM399 525h1v1h-1zM388 526h1v1h-1zM407 526h1v1h-1zM370 527h1v1h-1zM373 527h1v1h-1zM378 527h1v1h-1zM380 527h2v1h-2zM386 527h2v1h-2zM402 527h1v1h-1zM371 528h1v1h-1zM382 528h1v1h-1zM384 528h1v1h-1zM387 528h1v1h-1zM390 528h1v1h-1zM370 529h1v1h-1zM372 529h2v1h-2zM375 529h1v1h-1zM379 529h1v1h-1zM382 529h1v1h-1zM384 529h3v1h-3zM406 529h1v1h-1zM370 530h3v1h-3zM380 530h2v1h-2zM398 530h1v1h-1zM403 530h1v1h-1zM407 530h1v1h-1zM374 531h7v1h-7zM406 531h1v1h-1zM411 531h1v1h-1zM371 532h1v1h-1zM374 532h1v1h-1zM376 532h2v1h-2zM380 532h1v1h-1zM383 532h1v1h-1zM385 532h1v1h-1zM410 532h1v1h-1zM369 533h2v1h-2zM374 533h1v1h-1zM377 533h3v1h-3zM382 533h1v1h-1zM384 533h1v1h-1zM369 534h1v1h-1zM375 534h1v1h-1zM378 534h1v1h-1zM380 534h1v1h-1zM382 534h1v1h-1zM399 534h1v1h-1zM369 535h1v1h-1zM372 535h1v1h-1zM375 535h2v1h-2zM382 535h1v1h-1zM391 535h1v1h-1zM368 536h2v1h-2zM389 536h1v1h-1zM391 536h1v1h-1zM368 537h1v1h-1zM372 537h1v1h-1zM374 537h1v1h-1zM376 537h1v1h-1zM392 537h1v1h-1zM368 538h2v1h-2zM368 539h1v1h-1zM368 540h1v1h-1zM392 540h1v1h-1zM367 541h1v1h-1zM366 542h2v1h-2zM366 543h1v1h-1zM392 544h1v1h-1zM410 544h1v1h-1z"/></g>
<rect x="347.0" y="467.0" width="79.0" height="79.0" fill="none" stroke="#4a4a4a" stroke-width="1.3"/>
<line x1="374.4" y1="467.0" x2="374.4" y2="546.0" stroke="#1a1a1a" stroke-width="1"/>
<line x1="347.0" y1="509.8" x2="426.0" y2="509.8" stroke="#1a1a1a" stroke-width="2"/>
<rect x="347.4" y="467.5" width="2.4" height="2.2" fill="#000"/>
<rect x="372.4" y="507.3" width="3" height="3" fill="#000"/>
<line x1="347.0" y1="546.0" x2="347.0" y2="550.0" stroke="#333" stroke-width="1"/>
<line x1="343.0" y1="546.0" x2="347.0" y2="546.0" stroke="#333" stroke-width="1"/>
<text class="tk" x="346.2" y="559.5" text-anchor="end" textLength="9.4" lengthAdjust="spacingAndGlyphs">10</text><text class="sp" x="346.9" y="555.6">0</text>
<text class="tk" x="337.7" y="549.6" text-anchor="end" textLength="11" lengthAdjust="spacingAndGlyphs">10</text><text class="sp" x="338.1" y="547.3">0</text>
<line x1="366.8" y1="546.0" x2="366.8" y2="550.0" stroke="#333" stroke-width="1"/>
<line x1="343.0" y1="526.2" x2="347.0" y2="526.2" stroke="#333" stroke-width="1"/>
<text class="tk" x="365.9" y="559.5" text-anchor="end" textLength="9.4" lengthAdjust="spacingAndGlyphs">10</text><text class="sp" x="366.6" y="555.6">1</text>
<text class="tk" x="337.7" y="529.9" text-anchor="end" textLength="11" lengthAdjust="spacingAndGlyphs">10</text><text class="sp" x="338.1" y="527.5">1</text>
<line x1="386.5" y1="546.0" x2="386.5" y2="550.0" stroke="#333" stroke-width="1"/>
<line x1="343.0" y1="506.5" x2="347.0" y2="506.5" stroke="#333" stroke-width="1"/>
<text class="tk" x="385.7" y="559.5" text-anchor="end" textLength="9.4" lengthAdjust="spacingAndGlyphs">10</text><text class="sp" x="386.4" y="555.6">2</text>
<text class="tk" x="337.7" y="510.1" text-anchor="end" textLength="11" lengthAdjust="spacingAndGlyphs">10</text><text class="sp" x="338.1" y="507.8">2</text>
<line x1="406.2" y1="546.0" x2="406.2" y2="550.0" stroke="#333" stroke-width="1"/>
<line x1="343.0" y1="486.8" x2="347.0" y2="486.8" stroke="#333" stroke-width="1"/>
<text class="tk" x="405.4" y="559.5" text-anchor="end" textLength="9.4" lengthAdjust="spacingAndGlyphs">10</text><text class="sp" x="406.1" y="555.6">3</text>
<text class="tk" x="337.7" y="490.4" text-anchor="end" textLength="11" lengthAdjust="spacingAndGlyphs">10</text><text class="sp" x="338.1" y="488.1">3</text>
<line x1="426.0" y1="546.0" x2="426.0" y2="550.0" stroke="#333" stroke-width="1"/>
<line x1="343.0" y1="467.0" x2="347.0" y2="467.0" stroke="#333" stroke-width="1"/>
<text class="tk" x="425.2" y="559.5" text-anchor="end" textLength="9.4" lengthAdjust="spacingAndGlyphs">10</text><text class="sp" x="425.9" y="555.6">4</text>
<text class="tk" x="337.7" y="470.6" text-anchor="end" textLength="11" lengthAdjust="spacingAndGlyphs">10</text><text class="sp" x="338.1" y="468.3">4</text>
<text class="rl" x="370.3" y="503.6" text-anchor="end">R6</text>
<text class="rl" x="378.3" y="503.6">R7</text>
<text class="rl" x="370.3" y="518.6" text-anchor="end">R8</text>
<text class="rl" x="378.3" y="518.6">R9</text>
<text class="pc" x="353.0" y="478.3" text-anchor="start">3.5%</text>
<text class="pc" x="417.2" y="478.3" text-anchor="end">2.6%</text>
<text class="pc" x="422.5" y="537.2" text-anchor="end">1.5%</text>
<g filter="url(#bl)"><path fill="#646464" d="M52 625h3v1h-3zM56 625h2v1h-2zM51 626h8v1h-8zM50 627h6v1h-6zM57 627h2v1h-2zM48 628h2v1h-2zM51 628h1v1h-1zM54 628h1v1h-1zM56 628h4v1h-4zM47 629h9v1h-9zM57 629h1v1h-1zM60 629h1v1h-1zM47 630h3v1h-3zM51 630h10v1h-10zM47 631h1v1h-1zM49 631h12v1h-12zM45 632h4v1h-4zM50 632h11v1h-11zM45 633h9v1h-9zM55 633h2v1h-2zM58 633h3v1h-3zM44 634h3v1h-3zM48 634h1v1h-1zM51 634h1v1h-1zM53 634h3v1h-3zM57 634h4v1h-4zM45 635h3v1h-3zM49 635h12v1h-12zM45 636h7v1h-7zM53 636h8v1h-8zM43 637h8v1h-8zM52 637h9v1h-9zM44 638h7v1h-7zM52 638h7v1h-7zM60 638h1v1h-1zM43 639h14v1h-14zM58 639h2v1h-2zM43 640h2v1h-2zM46 640h3v1h-3zM51 640h9v1h-9zM43 641h17v1h-17zM43 642h7v1h-7zM51 642h7v1h-7zM44 643h6v1h-6zM51 643h8v1h-8zM44 644h7v1h-7zM52 644h6v1h-6zM43 645h5v1h-5zM49 645h7v1h-7zM57 645h1v1h-1zM44 646h1v1h-1zM47 646h1v1h-1zM50 646h2v1h-2zM56 646h1v1h-1zM44 647h1v1h-1zM48 647h7v1h-7zM46 648h6v1h-6zM54 648h1v1h-1zM47 649h1v1h-1zM49 649h4v1h-4z"/>
<path fill="#404040" d="M100 588h1v1h-1zM56 589h1v1h-1zM52 590h1v1h-1zM61 590h1v1h-1zM109 590h1v1h-1zM47 591h1v1h-1zM59 591h1v1h-1zM67 591h1v1h-1zM47 592h2v1h-2zM51 592h2v1h-2zM63 592h2v1h-2zM66 592h1v1h-1zM43 593h1v1h-1zM53 593h1v1h-1zM61 593h1v1h-1zM58 594h2v1h-2zM62 594h1v1h-1zM64 594h1v1h-1zM46 595h1v1h-1zM51 595h1v1h-1zM59 595h1v1h-1zM53 596h1v1h-1zM62 596h2v1h-2zM58 597h1v1h-1zM48 598h1v1h-1zM50 598h2v1h-2zM56 598h2v1h-2zM65 598h1v1h-1zM86 598h1v1h-1zM48 599h1v1h-1zM50 599h3v1h-3zM94 599h1v1h-1zM101 599h1v1h-1zM54 600h1v1h-1zM89 600h1v1h-1zM56 601h1v1h-1zM78 601h1v1h-1zM47 602h1v1h-1zM56 602h1v1h-1zM61 602h1v1h-1zM67 602h1v1h-1zM46 603h1v1h-1zM53 603h1v1h-1zM55 603h1v1h-1zM93 603h1v1h-1zM52 604h2v1h-2zM59 604h1v1h-1zM56 605h1v1h-1zM60 605h1v1h-1zM48 607h1v1h-1zM73 612h1v1h-1zM60 613h1v1h-1zM62 615h2v1h-2zM71 615h1v1h-1zM73 615h1v1h-1zM78 615h1v1h-1zM102 615h1v1h-1zM51 616h1v1h-1zM56 616h2v1h-2zM59 616h1v1h-1zM52 617h1v1h-1zM57 617h1v1h-1zM59 617h1v1h-1zM72 617h1v1h-1zM55 618h1v1h-1zM59 618h1v1h-1zM70 618h1v1h-1zM45 619h1v1h-1zM53 619h1v1h-1zM62 619h2v1h-2zM66 619h1v1h-1zM105 619h1v1h-1zM50 620h3v1h-3zM55 620h1v1h-1zM57 620h2v1h-2zM60 620h1v1h-1zM50 621h1v1h-1zM53 621h2v1h-2zM56 621h4v1h-4zM62 621h1v1h-1zM64 621h2v1h-2zM72 621h1v1h-1zM76 621h1v1h-1zM83 621h1v1h-1zM48 622h1v1h-1zM50 622h1v1h-1zM52 622h1v1h-1zM54 622h1v1h-1zM56 622h1v1h-1zM58 622h2v1h-2zM65 622h1v1h-1zM67 622h1v1h-1zM72 622h1v1h-1zM78 622h1v1h-1zM47 623h5v1h-5zM53 623h2v1h-2zM56 623h6v1h-6zM63 623h2v1h-2zM73 623h1v1h-1zM46 624h1v1h-1zM48 624h8v1h-8zM57 624h5v1h-5zM63 624h1v1h-1zM65 624h1v1h-1zM44 625h3v1h-3zM48 625h1v1h-1zM50 625h1v1h-1zM58 625h4v1h-4zM67 625h1v1h-1zM72 625h1v1h-1zM102 625h1v1h-1zM45 626h2v1h-2zM49 626h1v1h-1zM60 626h1v1h-1zM64 626h1v1h-1zM69 626h2v1h-2zM43 627h1v1h-1zM45 627h5v1h-5zM61 627h2v1h-2zM64 627h4v1h-4zM95 627h1v1h-1zM40 628h1v1h-1zM42 628h1v1h-1zM44 628h2v1h-2zM47 628h1v1h-1zM61 628h2v1h-2zM65 628h1v1h-1zM68 628h1v1h-1zM42 629h2v1h-2zM45 629h2v1h-2zM61 629h4v1h-4zM70 629h1v1h-1zM78 629h1v1h-1zM80 629h1v1h-1zM43 630h3v1h-3zM61 630h4v1h-4zM66 630h1v1h-1zM40 631h1v1h-1zM43 631h1v1h-1zM61 631h5v1h-5zM67 631h1v1h-1zM40 632h3v1h-3zM64 632h1v1h-1zM68 632h1v1h-1zM42 633h3v1h-3zM63 633h2v1h-2zM68 633h1v1h-1zM76 633h1v1h-1zM41 634h3v1h-3zM62 634h2v1h-2zM66 634h1v1h-1zM79 634h1v1h-1zM81 634h1v1h-1zM40 635h4v1h-4zM61 635h3v1h-3zM68 635h1v1h-1zM80 635h1v1h-1zM40 636h2v1h-2zM61 636h4v1h-4zM67 636h1v1h-1zM79 636h1v1h-1zM81 636h1v1h-1zM41 637h2v1h-2zM61 637h4v1h-4zM66 637h2v1h-2zM40 638h1v1h-1zM42 638h1v1h-1zM61 638h1v1h-1zM64 638h1v1h-1zM66 638h1v1h-1zM68 638h1v1h-1zM71 638h1v1h-1zM40 639h3v1h-3zM60 639h4v1h-4zM74 639h1v1h-1zM40 640h1v1h-1zM42 640h1v1h-1zM62 640h1v1h-1zM64 640h1v1h-1zM40 641h2v1h-2zM61 641h3v1h-3zM72 641h1v1h-1zM74 641h1v1h-1zM81 641h1v1h-1zM40 642h2v1h-2zM60 642h3v1h-3zM66 642h1v1h-1zM77 642h1v1h-1zM40 643h1v1h-1zM42 643h1v1h-1zM59 643h3v1h-3zM63 643h1v1h-1zM76 643h1v1h-1zM40 644h1v1h-1zM42 644h1v1h-1zM58 644h3v1h-3zM62 644h2v1h-2zM41 645h2v1h-2zM58 645h1v1h-1zM62 645h1v1h-1zM76 645h1v1h-1zM41 646h3v1h-3zM57 646h3v1h-3zM62 646h1v1h-1zM80 646h1v1h-1zM40 647h1v1h-1zM42 647h2v1h-2zM56 647h4v1h-4zM61 647h1v1h-1zM70 647h1v1h-1zM78 647h1v1h-1zM41 648h1v1h-1zM43 648h2v1h-2zM55 648h5v1h-5zM40 649h1v1h-1zM44 649h2v1h-2zM53 649h1v1h-1zM55 649h1v1h-1zM58 649h1v1h-1zM69 649h1v1h-1zM73 649h1v1h-1zM41 650h1v1h-1zM46 650h4v1h-4zM51 650h2v1h-2zM54 650h1v1h-1zM56 650h3v1h-3zM61 650h2v1h-2zM68 650h1v1h-1zM74 650h1v1h-1zM40 651h1v1h-1zM42 651h5v1h-5zM48 651h2v1h-2zM51 651h6v1h-6z"/></g>
<rect x="39.8" y="572.0" width="81.0" height="80.3" fill="none" stroke="#4a4a4a" stroke-width="1.3"/>
<line x1="68.3" y1="572.0" x2="68.3" y2="652.3" stroke="#1a1a1a" stroke-width="1"/>
<line x1="39.8" y1="609.5" x2="120.8" y2="609.5" stroke="#333" stroke-width="1"/>
<rect x="40.2" y="572.5" width="2.4" height="2.2" fill="#000"/>
<rect x="66.3" y="607.0" width="3" height="3" fill="#000"/>
<line x1="39.8" y1="652.3" x2="39.8" y2="656.3" stroke="#333" stroke-width="1"/>
<line x1="35.8" y1="652.3" x2="39.8" y2="652.3" stroke="#333" stroke-width="1"/>
<text class="tk" x="39.0" y="665.8" text-anchor="end" textLength="9.4" lengthAdjust="spacingAndGlyphs">10</text><text class="sp" x="39.7" y="661.9">0</text>
<text class="tk" x="30.5" y="655.9" text-anchor="end" textLength="11" lengthAdjust="spacingAndGlyphs">10</text><text class="sp" x="30.9" y="653.6">0</text>
<line x1="60.0" y1="652.3" x2="60.0" y2="656.3" stroke="#333" stroke-width="1"/>
<line x1="35.8" y1="632.2" x2="39.8" y2="632.2" stroke="#333" stroke-width="1"/>
<text class="tk" x="59.2" y="665.8" text-anchor="end" textLength="9.4" lengthAdjust="spacingAndGlyphs">10</text><text class="sp" x="59.9" y="661.9">1</text>
<text class="tk" x="30.5" y="635.8" text-anchor="end" textLength="11" lengthAdjust="spacingAndGlyphs">10</text><text class="sp" x="30.9" y="633.5">1</text>
<line x1="80.3" y1="652.3" x2="80.3" y2="656.3" stroke="#333" stroke-width="1"/>
<line x1="35.8" y1="612.1" x2="39.8" y2="612.1" stroke="#333" stroke-width="1"/>
<text class="tk" x="79.5" y="665.8" text-anchor="end" textLength="9.4" lengthAdjust="spacingAndGlyphs">10</text><text class="sp" x="80.2" y="661.9">2</text>
<text class="tk" x="30.5" y="615.8" text-anchor="end" textLength="11" lengthAdjust="spacingAndGlyphs">10</text><text class="sp" x="30.9" y="613.4">2</text>
<line x1="100.5" y1="652.3" x2="100.5" y2="656.3" stroke="#333" stroke-width="1"/>
<line x1="35.8" y1="592.1" x2="39.8" y2="592.1" stroke="#333" stroke-width="1"/>
<text class="tk" x="99.8" y="665.8" text-anchor="end" textLength="9.4" lengthAdjust="spacingAndGlyphs">10</text><text class="sp" x="100.5" y="661.9">3</text>
<text class="tk" x="30.5" y="595.7" text-anchor="end" textLength="11" lengthAdjust="spacingAndGlyphs">10</text><text class="sp" x="30.9" y="593.4">3</text>
<line x1="120.8" y1="652.3" x2="120.8" y2="656.3" stroke="#333" stroke-width="1"/>
<line x1="35.8" y1="572.0" x2="39.8" y2="572.0" stroke="#333" stroke-width="1"/>
<text class="tk" x="120.0" y="665.8" text-anchor="end" textLength="9.4" lengthAdjust="spacingAndGlyphs">10</text><text class="sp" x="120.7" y="661.9">4</text>
<text class="tk" x="30.5" y="575.6" text-anchor="end" textLength="11" lengthAdjust="spacingAndGlyphs">10</text><text class="sp" x="30.9" y="573.3">4</text>
<text class="rl" x="66.0" y="606.8" text-anchor="end">R6</text>
<text class="rl" x="71.3" y="606.8">R7</text>
<text class="rl" x="66.0" y="620.1" text-anchor="end">R8</text>
<text class="rl" x="71.3" y="620.1">R9</text>
<text class="pc" x="43.0" y="582.6" text-anchor="start">6.2%</text>
<text class="pc" x="118.2" y="645.7" text-anchor="end">10.9%</text>
<g filter="url(#bl)"><path fill="#646464" d="M210 633h7v1h-7zM219 633h2v1h-2zM208 634h14v1h-14zM208 635h12v1h-12zM222 635h3v1h-3zM206 636h19v1h-19zM206 637h21v1h-21zM206 638h21v1h-21zM205 639h22v1h-22zM204 640h22v1h-22zM205 641h22v1h-22zM204 642h4v1h-4zM209 642h17v1h-17zM204 643h13v1h-13zM218 643h9v1h-9zM204 644h23v1h-23zM205 645h22v1h-22zM205 646h21v1h-21zM205 647h21v1h-21zM207 648h17v1h-17z"/>
<path fill="#404040" d="M237 588h1v1h-1zM210 592h1v1h-1zM218 592h1v1h-1zM210 593h1v1h-1zM217 594h1v1h-1zM234 594h1v1h-1zM210 595h5v1h-5zM218 595h2v1h-2zM223 595h1v1h-1zM208 596h1v1h-1zM210 596h2v1h-2zM214 596h2v1h-2zM218 596h1v1h-1zM220 596h1v1h-1zM226 596h1v1h-1zM207 597h1v1h-1zM211 597h1v1h-1zM220 597h2v1h-2zM224 597h1v1h-1zM232 597h1v1h-1zM204 598h1v1h-1zM209 598h2v1h-2zM213 598h3v1h-3zM217 598h1v1h-1zM220 598h1v1h-1zM227 598h1v1h-1zM231 598h1v1h-1zM208 599h1v1h-1zM210 599h1v1h-1zM212 599h2v1h-2zM215 599h1v1h-1zM219 599h3v1h-3zM223 599h1v1h-1zM232 599h1v1h-1zM207 600h1v1h-1zM209 600h2v1h-2zM212 600h2v1h-2zM216 600h1v1h-1zM218 600h3v1h-3zM223 600h1v1h-1zM207 601h1v1h-1zM211 601h1v1h-1zM214 601h1v1h-1zM219 601h4v1h-4zM233 601h1v1h-1zM209 602h1v1h-1zM211 602h6v1h-6zM219 602h1v1h-1zM222 602h1v1h-1zM210 603h3v1h-3zM217 603h1v1h-1zM219 603h1v1h-1zM218 604h2v1h-2zM214 605h2v1h-2zM242 605h1v1h-1zM213 606h1v1h-1zM215 606h1v1h-1zM218 606h1v1h-1zM220 615h1v1h-1zM209 616h1v1h-1zM214 616h1v1h-1zM217 616h1v1h-1zM224 616h1v1h-1zM206 617h1v1h-1zM213 617h2v1h-2zM216 617h2v1h-2zM219 617h1v1h-1zM241 617h1v1h-1zM210 618h2v1h-2zM215 618h1v1h-1zM218 618h1v1h-1zM228 618h1v1h-1zM230 618h1v1h-1zM213 619h1v1h-1zM217 619h1v1h-1zM220 619h1v1h-1zM222 619h1v1h-1zM228 619h1v1h-1zM238 619h1v1h-1zM208 620h1v1h-1zM210 620h1v1h-1zM215 620h1v1h-1zM223 620h1v1h-1zM225 620h3v1h-3zM207 621h1v1h-1zM212 621h1v1h-1zM216 621h1v1h-1zM218 621h2v1h-2zM223 621h1v1h-1zM227 621h1v1h-1zM229 621h4v1h-4zM241 621h1v1h-1zM203 622h1v1h-1zM207 622h1v1h-1zM210 622h2v1h-2zM218 622h2v1h-2zM224 622h1v1h-1zM227 622h1v1h-1zM229 622h1v1h-1zM235 622h2v1h-2zM238 622h2v1h-2zM204 623h1v1h-1zM210 623h4v1h-4zM216 623h1v1h-1zM218 623h1v1h-1zM223 623h1v1h-1zM235 623h3v1h-3zM239 623h2v1h-2zM245 623h1v1h-1zM206 624h1v1h-1zM213 624h2v1h-2zM216 624h1v1h-1zM220 624h1v1h-1zM223 624h1v1h-1zM225 624h1v1h-1zM229 624h1v1h-1zM233 624h3v1h-3zM237 624h1v1h-1zM242 624h1v1h-1zM245 624h1v1h-1zM203 625h1v1h-1zM207 625h1v1h-1zM209 625h2v1h-2zM214 625h6v1h-6zM222 625h1v1h-1zM226 625h1v1h-1zM230 625h1v1h-1zM233 625h3v1h-3zM240 625h1v1h-1zM242 625h1v1h-1zM207 626h2v1h-2zM210 626h2v1h-2zM213 626h1v1h-1zM215 626h3v1h-3zM219 626h1v1h-1zM223 626h3v1h-3zM227 626h1v1h-1zM229 626h2v1h-2zM232 626h1v1h-1zM234 626h1v1h-1zM236 626h3v1h-3zM242 626h4v1h-4zM202 627h1v1h-1zM204 627h2v1h-2zM210 627h2v1h-2zM214 627h1v1h-1zM216 627h1v1h-1zM219 627h2v1h-2zM225 627h3v1h-3zM229 627h2v1h-2zM232 627h1v1h-1zM235 627h2v1h-2zM238 627h1v1h-1zM240 627h2v1h-2zM243 627h2v1h-2zM208 628h2v1h-2zM213 628h3v1h-3zM217 628h2v1h-2zM221 628h2v1h-2zM224 628h4v1h-4zM229 628h1v1h-1zM231 628h5v1h-5zM241 628h2v1h-2zM246 628h1v1h-1zM206 629h1v1h-1zM208 629h4v1h-4zM213 629h2v1h-2zM218 629h4v1h-4zM224 629h1v1h-1zM226 629h3v1h-3zM230 629h3v1h-3zM239 629h2v1h-2zM245 629h2v1h-2zM203 630h1v1h-1zM206 630h4v1h-4zM211 630h3v1h-3zM217 630h9v1h-9zM227 630h2v1h-2zM230 630h2v1h-2zM233 630h1v1h-1zM236 630h2v1h-2zM242 630h3v1h-3zM204 631h5v1h-5zM211 631h1v1h-1zM213 631h1v1h-1zM215 631h2v1h-2zM227 631h1v1h-1zM230 631h1v1h-1zM232 631h5v1h-5zM240 631h1v1h-1zM244 631h1v1h-1zM250 631h1v1h-1zM203 632h1v1h-1zM205 632h1v1h-1zM207 632h3v1h-3zM211 632h1v1h-1zM216 632h1v1h-1zM220 632h2v1h-2zM224 632h4v1h-4zM229 632h2v1h-2zM233 632h1v1h-1zM235 632h1v1h-1zM237 632h2v1h-2zM244 632h1v1h-1zM248 632h1v1h-1zM250 632h1v1h-1zM204 633h3v1h-3zM208 633h2v1h-2zM221 633h3v1h-3zM225 633h3v1h-3zM231 633h1v1h-1zM234 633h1v1h-1zM237 633h1v1h-1zM239 633h1v1h-1zM241 633h1v1h-1zM245 633h1v1h-1zM205 634h3v1h-3zM223 634h2v1h-2zM226 634h1v1h-1zM228 634h2v1h-2zM232 634h3v1h-3zM236 634h1v1h-1zM240 634h1v1h-1zM243 634h1v1h-1zM245 634h1v1h-1zM247 634h1v1h-1zM205 635h2v1h-2zM225 635h1v1h-1zM228 635h3v1h-3zM234 635h2v1h-2zM238 635h3v1h-3zM245 635h2v1h-2zM248 635h1v1h-1zM203 636h1v1h-1zM205 636h1v1h-1zM228 636h1v1h-1zM230 636h5v1h-5zM236 636h2v1h-2zM240 636h1v1h-1zM244 636h1v1h-1zM248 636h1v1h-1zM202 637h2v1h-2zM227 637h3v1h-3zM231 637h3v1h-3zM235 637h1v1h-1zM239 637h1v1h-1zM242 637h1v1h-1zM246 637h1v1h-1zM248 637h1v1h-1zM227 638h1v1h-1zM229 638h3v1h-3zM235 638h1v1h-1zM237 638h1v1h-1zM241 638h1v1h-1zM244 638h1v1h-1zM248 638h1v1h-1zM202 639h1v1h-1zM204 639h1v1h-1zM227 639h4v1h-4zM232 639h1v1h-1zM234 639h3v1h-3zM245 639h2v1h-2zM249 639h1v1h-1zM228 640h3v1h-3zM232 640h1v1h-1zM234 640h1v1h-1zM236 640h1v1h-1zM246 640h1v1h-1zM202 641h1v1h-1zM228 641h2v1h-2zM231 641h6v1h-6zM238 641h5v1h-5zM203 642h1v1h-1zM228 642h1v1h-1zM230 642h2v1h-2zM234 642h4v1h-4zM241 642h2v1h-2zM244 642h4v1h-4zM250 642h1v1h-1zM202 643h2v1h-2zM227 643h3v1h-3zM232 643h2v1h-2zM236 643h5v1h-5zM248 643h1v1h-1zM203 644h1v1h-1zM227 644h6v1h-6zM234 644h2v1h-2zM241 644h1v1h-1zM243 644h3v1h-3zM203 645h1v1h-1zM229 645h1v1h-1zM232 645h2v1h-2zM236 645h1v1h-1zM238 645h2v1h-2zM243 645h1v1h-1zM245 645h1v1h-1zM202 646h1v1h-1zM226 646h1v1h-1zM230 646h2v1h-2zM233 646h2v1h-2zM236 646h2v1h-2zM239 646h1v1h-1zM260 646h1v1h-1zM204 647h1v1h-1zM230 647h1v1h-1zM233 647h1v1h-1zM235 647h1v1h-1zM242 647h1v1h-1zM204 648h2v1h-2zM225 648h4v1h-4zM230 648h1v1h-1zM234 648h2v1h-2zM239 648h2v1h-2z"/></g>
<rect x="201.3" y="571.3" width="78.7" height="77.9" fill="none" stroke="#4a4a4a" stroke-width="1.3"/>
<line x1="226.1" y1="571.3" x2="226.1" y2="649.2" stroke="#666" stroke-width="1"/>
<line x1="201.3" y1="614.1" x2="280.0" y2="614.1" stroke="#444" stroke-width="1"/>
<rect x="201.7" y="571.8" width="2.4" height="2.2" fill="#000"/>
<rect x="224.1" y="611.6" width="3" height="3" fill="#000"/>
<line x1="201.3" y1="649.2" x2="201.3" y2="653.2" stroke="#333" stroke-width="1"/>
<line x1="197.3" y1="649.2" x2="201.3" y2="649.2" stroke="#333" stroke-width="1"/>
<text class="tk" x="200.5" y="662.7" text-anchor="end" textLength="9.4" lengthAdjust="spacingAndGlyphs">10</text><text class="sp" x="201.2" y="658.8">0</text>
<text class="tk" x="192.0" y="652.8" text-anchor="end" textLength="11" lengthAdjust="spacingAndGlyphs">10</text><text class="sp" x="192.4" y="650.5">0</text>
<line x1="221.0" y1="649.2" x2="221.0" y2="653.2" stroke="#333" stroke-width="1"/>
<line x1="197.3" y1="629.7" x2="201.3" y2="629.7" stroke="#333" stroke-width="1"/>
<text class="tk" x="220.2" y="662.7" text-anchor="end" textLength="9.4" lengthAdjust="spacingAndGlyphs">10</text><text class="sp" x="220.9" y="658.8">1</text>
<text class="tk" x="192.0" y="633.3" text-anchor="end" textLength="11" lengthAdjust="spacingAndGlyphs">10</text><text class="sp" x="192.4" y="631.0">1</text>
<line x1="240.7" y1="649.2" x2="240.7" y2="653.2" stroke="#333" stroke-width="1"/>
<line x1="197.3" y1="610.2" x2="201.3" y2="610.2" stroke="#333" stroke-width="1"/>
<text class="tk" x="239.8" y="662.7" text-anchor="end" textLength="9.4" lengthAdjust="spacingAndGlyphs">10</text><text class="sp" x="240.6" y="658.8">2</text>
<text class="tk" x="192.0" y="613.9" text-anchor="end" textLength="11" lengthAdjust="spacingAndGlyphs">10</text><text class="sp" x="192.4" y="611.5">2</text>
<line x1="260.3" y1="649.2" x2="260.3" y2="653.2" stroke="#333" stroke-width="1"/>
<line x1="197.3" y1="590.8" x2="201.3" y2="590.8" stroke="#333" stroke-width="1"/>
<text class="tk" x="259.5" y="662.7" text-anchor="end" textLength="9.4" lengthAdjust="spacingAndGlyphs">10</text><text class="sp" x="260.2" y="658.8">3</text>
<text class="tk" x="192.0" y="594.4" text-anchor="end" textLength="11" lengthAdjust="spacingAndGlyphs">10</text><text class="sp" x="192.4" y="592.1">3</text>
<line x1="280.0" y1="649.2" x2="280.0" y2="653.2" stroke="#333" stroke-width="1"/>
<line x1="197.3" y1="571.3" x2="201.3" y2="571.3" stroke="#333" stroke-width="1"/>
<text class="tk" x="279.2" y="662.7" text-anchor="end" textLength="9.4" lengthAdjust="spacingAndGlyphs">10</text><text class="sp" x="279.9" y="658.8">4</text>
<text class="tk" x="192.0" y="574.9" text-anchor="end" textLength="11" lengthAdjust="spacingAndGlyphs">10</text><text class="sp" x="192.4" y="572.6">4</text>
<text class="rl" x="224.3" y="612.4" text-anchor="end">R6</text>
<text class="rl" x="227.8" y="612.4">R7</text>
<text class="rl" x="224.3" y="623.5" text-anchor="end">R8</text>
<text class="rl" x="227.8" y="623.5">R9</text>
<text class="pc" x="205.7" y="581.9" text-anchor="start">3.0%</text>
<text class="pc" x="274.7" y="581.9" text-anchor="end">0.51%</text>
<text class="pc" x="274.7" y="645.1" text-anchor="end">15.9%</text>
<g filter="url(#bl)"><path fill="#646464" d="M400 580h2v1h-2zM403 580h3v1h-3zM397 581h11v1h-11zM393 582h7v1h-7zM401 582h6v1h-6zM408 582h1v1h-1zM391 583h17v1h-17zM409 583h1v1h-1zM389 584h6v1h-6zM396 584h13v1h-13zM387 585h2v1h-2zM390 585h16v1h-16zM407 585h3v1h-3zM385 586h3v1h-3zM389 586h12v1h-12zM402 586h3v1h-3zM406 586h3v1h-3zM384 587h3v1h-3zM388 587h21v1h-21zM383 588h1v1h-1zM385 588h2v1h-2zM389 588h1v1h-1zM391 588h2v1h-2zM395 588h6v1h-6zM402 588h7v1h-7zM381 589h10v1h-10zM392 589h4v1h-4zM397 589h11v1h-11zM381 590h1v1h-1zM383 590h6v1h-6zM390 590h17v1h-17zM380 591h26v1h-26zM379 592h26v1h-26zM378 593h26v1h-26zM377 594h3v1h-3zM381 594h20v1h-20zM377 595h24v1h-24zM376 596h1v1h-1zM378 596h8v1h-8zM387 596h12v1h-12zM376 597h1v1h-1zM378 597h3v1h-3zM382 597h2v1h-2zM385 597h12v1h-12zM377 598h12v1h-12zM390 598h3v1h-3zM394 598h1v1h-1zM377 599h15v1h-15zM379 600h3v1h-3zM383 600h4v1h-4zM381 601h2v1h-2z"/>
<path fill="#404040" d="M378 570h1v1h-1zM401 577h4v1h-4zM403 578h1v1h-1zM409 578h1v1h-1zM411 578h1v1h-1zM413 578h1v1h-1zM396 579h2v1h-2zM399 579h1v1h-1zM401 579h1v1h-1zM403 579h5v1h-5zM409 579h1v1h-1zM415 579h1v1h-1zM391 580h1v1h-1zM393 580h2v1h-2zM396 580h1v1h-1zM399 580h1v1h-1zM406 580h2v1h-2zM390 581h1v1h-1zM408 581h2v1h-2zM411 581h1v1h-1zM413 581h1v1h-1zM389 582h2v1h-2zM392 582h1v1h-1zM410 582h1v1h-1zM388 583h3v1h-3zM410 583h1v1h-1zM412 583h1v1h-1zM414 583h1v1h-1zM384 584h1v1h-1zM386 584h3v1h-3zM410 584h1v1h-1zM412 584h2v1h-2zM381 585h1v1h-1zM385 585h2v1h-2zM410 585h3v1h-3zM383 586h1v1h-1zM411 586h2v1h-2zM379 587h1v1h-1zM381 587h3v1h-3zM409 587h1v1h-1zM411 587h3v1h-3zM382 588h1v1h-1zM410 588h1v1h-1zM372 589h2v1h-2zM377 589h1v1h-1zM408 589h1v1h-1zM376 590h1v1h-1zM379 590h1v1h-1zM407 590h2v1h-2zM410 590h1v1h-1zM374 591h1v1h-1zM376 591h1v1h-1zM378 591h1v1h-1zM409 591h1v1h-1zM373 592h1v1h-1zM375 592h2v1h-2zM378 592h1v1h-1zM405 592h2v1h-2zM375 593h1v1h-1zM377 593h1v1h-1zM373 594h1v1h-1zM375 594h2v1h-2zM402 594h2v1h-2zM365 595h1v1h-1zM371 595h1v1h-1zM373 595h1v1h-1zM401 595h1v1h-1zM405 595h1v1h-1zM369 596h1v1h-1zM371 596h4v1h-4zM367 597h1v1h-1zM370 597h1v1h-1zM372 597h4v1h-4zM363 598h2v1h-2zM366 598h1v1h-1zM369 598h5v1h-5zM375 598h1v1h-1zM395 598h3v1h-3zM364 599h3v1h-3zM368 599h4v1h-4zM374 599h3v1h-3zM392 599h1v1h-1zM394 599h2v1h-2zM364 600h9v1h-9zM374 600h1v1h-1zM376 600h2v1h-2zM388 600h4v1h-4zM364 601h2v1h-2zM367 601h2v1h-2zM370 601h1v1h-1zM376 601h1v1h-1zM379 601h2v1h-2zM383 601h1v1h-1zM385 601h1v1h-1zM387 601h1v1h-1zM393 601h1v1h-1zM364 602h2v1h-2zM367 602h1v1h-1zM370 602h1v1h-1zM372 602h2v1h-2zM377 602h2v1h-2zM380 602h4v1h-4zM386 602h2v1h-2zM399 602h1v1h-1zM359 603h1v1h-1zM361 603h1v1h-1zM364 603h1v1h-1zM366 603h1v1h-1zM369 603h2v1h-2zM374 603h1v1h-1zM376 603h4v1h-4zM382 603h4v1h-4zM388 603h1v1h-1zM391 603h1v1h-1zM394 603h1v1h-1zM363 604h1v1h-1zM365 604h2v1h-2zM372 604h5v1h-5zM378 604h2v1h-2zM381 604h1v1h-1zM385 604h1v1h-1zM364 605h2v1h-2zM367 605h1v1h-1zM369 605h1v1h-1zM372 605h2v1h-2zM375 605h1v1h-1zM377 605h1v1h-1zM379 605h5v1h-5zM414 605h1v1h-1zM364 606h4v1h-4zM369 606h1v1h-1zM372 606h1v1h-1zM374 606h2v1h-2zM378 606h2v1h-2zM381 606h1v1h-1zM383 606h1v1h-1zM367 607h1v1h-1zM369 607h4v1h-4zM374 607h2v1h-2zM377 607h1v1h-1zM387 607h1v1h-1zM356 608h1v1h-1zM360 608h1v1h-1zM367 608h2v1h-2zM372 608h1v1h-1zM378 608h2v1h-2zM383 608h1v1h-1zM363 609h2v1h-2zM369 609h1v1h-1zM373 609h2v1h-2zM363 610h1v1h-1zM365 610h1v1h-1zM367 610h1v1h-1zM375 610h1v1h-1zM363 611h1v1h-1zM366 611h2v1h-2zM360 612h1v1h-1zM363 612h3v1h-3zM368 612h2v1h-2zM398 612h1v1h-1zM362 613h2v1h-2zM367 613h1v1h-1zM374 613h1v1h-1zM379 613h1v1h-1zM358 614h1v1h-1zM360 614h1v1h-1zM371 614h2v1h-2zM374 614h1v1h-1zM361 615h1v1h-1zM365 615h1v1h-1zM367 615h2v1h-2zM372 615h1v1h-1zM357 616h2v1h-2zM361 616h1v1h-1zM373 616h1v1h-1zM394 616h1v1h-1zM363 617h2v1h-2zM374 617h1v1h-1zM357 618h1v1h-1zM359 618h1v1h-1zM361 618h1v1h-1zM370 618h1v1h-1zM405 618h1v1h-1zM356 619h1v1h-1zM360 619h1v1h-1zM368 619h1v1h-1zM370 619h1v1h-1zM377 619h1v1h-1zM358 620h1v1h-1zM362 620h2v1h-2zM376 620h1v1h-1zM360 621h1v1h-1zM363 621h1v1h-1zM367 621h1v1h-1zM370 621h1v1h-1zM373 621h1v1h-1zM375 621h1v1h-1zM403 621h1v1h-1zM355 622h1v1h-1zM359 622h3v1h-3zM364 622h1v1h-1zM369 622h1v1h-1zM373 622h2v1h-2zM381 622h1v1h-1zM391 622h1v1h-1zM393 622h1v1h-1zM363 623h1v1h-1zM368 623h2v1h-2zM375 623h1v1h-1zM396 623h1v1h-1zM419 623h1v1h-1zM364 624h1v1h-1zM366 624h1v1h-1zM368 624h1v1h-1zM372 624h2v1h-2zM357 625h2v1h-2zM365 625h2v1h-2zM368 625h1v1h-1zM370 625h1v1h-1zM373 625h1v1h-1zM375 625h1v1h-1zM399 625h1v1h-1zM357 626h1v1h-1zM360 626h1v1h-1zM362 626h1v1h-1zM364 626h1v1h-1zM366 626h1v1h-1zM368 626h1v1h-1zM371 626h1v1h-1zM390 626h1v1h-1zM365 627h1v1h-1zM374 627h1v1h-1zM397 627h1v1h-1zM357 628h1v1h-1zM359 628h2v1h-2zM367 628h1v1h-1zM370 628h2v1h-2zM374 628h1v1h-1zM367 629h1v1h-1zM371 629h1v1h-1zM375 629h1v1h-1zM403 629h1v1h-1zM361 630h1v1h-1zM363 630h1v1h-1zM367 630h1v1h-1zM369 630h1v1h-1zM363 631h1v1h-1zM365 631h1v1h-1zM370 631h1v1h-1zM373 631h3v1h-3zM356 632h1v1h-1zM362 632h1v1h-1zM364 632h1v1h-1zM368 632h1v1h-1zM372 632h1v1h-1zM358 633h1v1h-1zM360 633h1v1h-1zM366 633h1v1h-1zM371 633h1v1h-1zM364 634h1v1h-1zM367 634h4v1h-4zM374 634h1v1h-1zM358 635h1v1h-1zM362 635h1v1h-1zM367 635h1v1h-1zM374 635h1v1h-1zM360 636h1v1h-1zM363 636h2v1h-2zM366 636h1v1h-1zM371 636h2v1h-2zM354 637h1v1h-1zM364 637h1v1h-1zM360 638h1v1h-1zM368 638h3v1h-3zM377 638h1v1h-1zM379 638h1v1h-1zM360 639h1v1h-1zM371 639h1v1h-1zM373 639h1v1h-1zM360 640h1v1h-1zM367 640h1v1h-1zM373 640h1v1h-1zM358 641h1v1h-1zM360 641h1v1h-1zM366 641h2v1h-2zM370 641h1v1h-1zM361 642h1v1h-1zM365 642h1v1h-1zM371 642h1v1h-1zM409 642h1v1h-1zM357 643h1v1h-1zM363 643h2v1h-2zM369 643h1v1h-1zM375 643h1v1h-1zM381 643h1v1h-1zM358 644h1v1h-1zM361 644h1v1h-1zM364 645h5v1h-5z"/></g>
<rect x="350.0" y="569.0" width="77.8" height="77.3" fill="none" stroke="#4a4a4a" stroke-width="1.3"/>
<line x1="377.4" y1="569.0" x2="377.4" y2="646.3" stroke="#1a1a1a" stroke-width="1"/>
<line x1="350.0" y1="603.3" x2="427.8" y2="603.3" stroke="#333" stroke-width="1"/>
<rect x="350.4" y="569.5" width="2.4" height="2.2" fill="#000"/>
<rect x="375.4" y="600.8" width="3" height="3" fill="#000"/>
<line x1="350.0" y1="646.3" x2="350.0" y2="650.3" stroke="#333" stroke-width="1"/>
<line x1="346.0" y1="646.3" x2="350.0" y2="646.3" stroke="#333" stroke-width="1"/>
<text class="tk" x="349.2" y="659.8" text-anchor="end" textLength="9.4" lengthAdjust="spacingAndGlyphs">10</text><text class="sp" x="349.9" y="655.9">0</text>
<text class="tk" x="340.7" y="649.9" text-anchor="end" textLength="11" lengthAdjust="spacingAndGlyphs">10</text><text class="sp" x="341.1" y="647.6">0</text>
<line x1="369.4" y1="646.3" x2="369.4" y2="650.3" stroke="#333" stroke-width="1"/>
<line x1="346.0" y1="627.0" x2="350.0" y2="627.0" stroke="#333" stroke-width="1"/>
<text class="tk" x="368.6" y="659.8" text-anchor="end" textLength="9.4" lengthAdjust="spacingAndGlyphs">10</text><text class="sp" x="369.3" y="655.9">1</text>
<text class="tk" x="340.7" y="630.6" text-anchor="end" textLength="11" lengthAdjust="spacingAndGlyphs">10</text><text class="sp" x="341.1" y="628.3">1</text>
<line x1="388.9" y1="646.3" x2="388.9" y2="650.3" stroke="#333" stroke-width="1"/>
<line x1="346.0" y1="607.6" x2="350.0" y2="607.6" stroke="#333" stroke-width="1"/>
<text class="tk" x="388.1" y="659.8" text-anchor="end" textLength="9.4" lengthAdjust="spacingAndGlyphs">10</text><text class="sp" x="388.8" y="655.9">2</text>
<text class="tk" x="340.7" y="611.2" text-anchor="end" textLength="11" lengthAdjust="spacingAndGlyphs">10</text><text class="sp" x="341.1" y="608.9">2</text>
<line x1="408.4" y1="646.3" x2="408.4" y2="650.3" stroke="#333" stroke-width="1"/>
<line x1="346.0" y1="588.3" x2="350.0" y2="588.3" stroke="#333" stroke-width="1"/>
<text class="tk" x="407.6" y="659.8" text-anchor="end" textLength="9.4" lengthAdjust="spacingAndGlyphs">10</text><text class="sp" x="408.2" y="655.9">3</text>
<text class="tk" x="340.7" y="591.9" text-anchor="end" textLength="11" lengthAdjust="spacingAndGlyphs">10</text><text class="sp" x="341.1" y="589.6">3</text>
<line x1="427.8" y1="646.3" x2="427.8" y2="650.3" stroke="#333" stroke-width="1"/>
<line x1="346.0" y1="569.0" x2="350.0" y2="569.0" stroke="#333" stroke-width="1"/>
<text class="tk" x="427.0" y="659.8" text-anchor="end" textLength="9.4" lengthAdjust="spacingAndGlyphs">10</text><text class="sp" x="427.7" y="655.9">4</text>
<text class="tk" x="340.7" y="572.6" text-anchor="end" textLength="11" lengthAdjust="spacingAndGlyphs">10</text><text class="sp" x="341.1" y="570.3">4</text>
<text class="rl" x="374.2" y="600.3" text-anchor="end">R6</text>
<text class="rl" x="379.5" y="600.3">R7</text>
<text class="rl" x="374.2" y="612.7" text-anchor="end">R8</text>
<text class="rl" x="379.5" y="612.7">R9</text>
<text class="pc" x="352.4" y="580.3" text-anchor="start">6.8%</text>
<text class="pc" x="423.7" y="580.3" text-anchor="end">68.6%</text>
<text class="pc" x="424.6" y="644.9" text-anchor="end">6.5%</text>
<text class="lab" x="471.00" y="73.9" text-anchor="middle">Mock</text>
<text class="lab" x="473.70" y="181.8" text-anchor="middle">SCID.1</text>
<text class="lab" x="473.70" y="195.1" text-anchor="middle">A2UCOE-IL2RG</text>
<text class="lab" x="479.30" y="291.5" text-anchor="middle">SCID.2</text>
<text class="lab" x="479.00" y="304.8" text-anchor="middle">A2UCOE-IL2RG</text>
<text class="lab" x="470.40" y="405.1" text-anchor="middle">SCID.1</text>
<text class="lab" x="470.60" y="418.5" text-anchor="middle">SFFV-IL2RG</text>
<text class="lab" x="470.65" y="512.2" text-anchor="middle">SCID.2</text>
<text class="lab" x="470.60" y="525.5" text-anchor="middle">SFFV-IL2RG</text>
<text class="lab" x="471.35" y="614.4" text-anchor="middle">C57/BL6</text>
<line x1="6.85" y1="588.9" x2="6.85" y2="633.1" stroke="#111" stroke-width="1.4"/><polygon points="2.3,589.6 11.399999999999999,589.6 6.85,580.9" fill="#000"/>
<text class="ax" transform="translate(8.6,656) rotate(-90)" text-anchor="middle">CD8</text>
<line x1="52.5" y1="685.4" x2="116" y2="685.4" stroke="#111" stroke-width="1.4"/><polygon points="115.3,680.85 115.3,689.9499999999999 124,685.4" fill="#000"/>
<text class="ax" x="30" y="687.9">CD4</text>
<line x1="166" y1="589" x2="166" y2="631.7" stroke="#111" stroke-width="1.4"/><polygon points="161.45,589.7 170.55,589.7 166,581" fill="#000"/>
<text class="ax" transform="translate(167.4,651.8) rotate(-90)" text-anchor="middle">NK1.1</text>
<line x1="212" y1="685.4" x2="275.3" y2="685.4" stroke="#111" stroke-width="1.4"/><polygon points="274.6,680.85 274.6,689.9499999999999 283.3,685.4" fill="#000"/>
<text class="ax" x="189" y="687.9">CD3</text>
<line x1="314.2" y1="594.3" x2="314.2" y2="631" stroke="#111" stroke-width="1.4"/><polygon points="309.65,595.0 318.75,595.0 314.2,586.3" fill="#000"/>
<text class="ax" transform="translate(316.7,647.2) rotate(-90)" text-anchor="middle">B220</text>
<line x1="357.9" y1="685.4" x2="421.2" y2="685.4" stroke="#111" stroke-width="1.4"/><polygon points="420.5,680.85 420.5,689.9499999999999 429.2,685.4" fill="#000"/>
<text class="ax" x="335" y="687.9">IgM</text>
<line x1="61.7" y1="724.2" x2="61.7" y2="915.4" stroke="#666" stroke-width="1.1"/>
<line x1="57.7" y1="915.4" x2="480" y2="915.4" stroke="#444" stroke-width="1.1"/>
<line x1="57.7" y1="915.3" x2="61.7" y2="915.3" stroke="#666" stroke-width="1.1"/>
<text class="yt" x="53.4" y="919.2" text-anchor="end">0</text>
<line x1="57.7" y1="877.1" x2="61.7" y2="877.1" stroke="#666" stroke-width="1.1"/>
<text class="yt" x="53.4" y="881.0" text-anchor="end">5</text>
<line x1="57.7" y1="838.9" x2="61.7" y2="838.9" stroke="#666" stroke-width="1.1"/>
<text class="yt" x="53.4" y="842.8" text-anchor="end">10</text>
<line x1="57.7" y1="800.7" x2="61.7" y2="800.7" stroke="#666" stroke-width="1.1"/>
<text class="yt" x="53.4" y="804.6" text-anchor="end">15</text>
<line x1="57.7" y1="762.5" x2="61.7" y2="762.5" stroke="#666" stroke-width="1.1"/>
<text class="yt" x="53.4" y="766.4" text-anchor="end">20</text>
<line x1="57.7" y1="724.3" x2="61.7" y2="724.3" stroke="#666" stroke-width="1.1"/>
<text class="yt" x="53.4" y="728.2" text-anchor="end">25</text>
<rect x="65.4" y="853.3" width="8" height="62.0" fill="#a3a3a3" stroke="#111" stroke-width="1.6"/>
<rect x="80.9" y="816.8" width="8" height="98.5" fill="url(#xh)" stroke="#111" stroke-width="1.6"/>
<rect x="96.4" y="754.1" width="8" height="161.2" fill="#d9d9d9" stroke="#111" stroke-width="1.6"/>
<rect x="127.4" y="896.3" width="8" height="19.0" fill="#a3a3a3" stroke="#111" stroke-width="1.6"/>
<rect x="142.9" y="870.3" width="8" height="45.0" fill="url(#xh)" stroke="#111" stroke-width="1.6"/>
<rect x="158.4" y="820.8" width="8" height="94.5" fill="#d9d9d9" stroke="#111" stroke-width="1.6"/>
<rect x="189.4" y="873.5" width="8" height="41.8" fill="#a3a3a3" stroke="#111" stroke-width="1.6"/>
<rect x="204.9" y="876.1" width="8" height="39.2" fill="url(#xh)" stroke="#111" stroke-width="1.6"/>
<rect x="220.4" y="837.0" width="8" height="78.3" fill="#d9d9d9" stroke="#111" stroke-width="1.6"/>
<rect x="251.4" y="900.8" width="8" height="14.5" fill="#a3a3a3" stroke="#111" stroke-width="1.6"/>
<rect x="266.9" y="860.8" width="8" height="54.5" fill="url(#xh)" stroke="#111" stroke-width="1.6"/>
<rect x="282.4" y="850.8" width="8" height="64.5" fill="#d9d9d9" stroke="#111" stroke-width="1.6"/>
<rect x="313.4" y="902.8" width="8" height="12.5" fill="#a3a3a3" stroke="#111" stroke-width="1.6"/>
<rect x="328.9" y="862.3" width="8" height="53.0" fill="url(#xh)" stroke="#111" stroke-width="1.6"/>
<rect x="344.4" y="843.8" width="8" height="71.5" fill="#d9d9d9" stroke="#111" stroke-width="1.6"/>
<rect x="375.4" y="907.6" width="8" height="7.7" fill="#a3a3a3" stroke="#111" stroke-width="1.6"/>
<rect x="390.9" y="907.6" width="8" height="7.7" fill="url(#xh)" stroke="#111" stroke-width="1.6"/>
<rect x="406.4" y="849.1" width="8" height="66.2" fill="#d9d9d9" stroke="#111" stroke-width="1.6"/>
<rect x="437.4" y="910.0" width="8" height="5.3" fill="#a3a3a3" stroke="#111" stroke-width="1.6"/>
<rect x="452.9" y="906.3" width="8" height="9.0" fill="url(#xh)" stroke="#111" stroke-width="1.6"/>
<rect x="468.4" y="908.2" width="8" height="7.1" fill="#d9d9d9" stroke="#111" stroke-width="1.6"/>
<text class="bl" x="85.5" y="931.4" text-anchor="middle">C57/BL6</text>
<text class="bl" x="146.9" y="931.4" text-anchor="middle">SCID 1</text>
<text class="bl" x="208.4" y="931.4" text-anchor="middle">SCID 2</text>
<text class="bl" x="270.2" y="931.4" text-anchor="middle">SCID 3</text>
<text class="bl" x="333.9" y="931.4" text-anchor="middle">SCID 4</text>
<text class="bl" x="396.1" y="931.4" text-anchor="middle">SCID 5</text>
<text class="bl" x="429.2" y="931.4"><tspan font-style="italic">Il2rg</tspan><tspan font-size="6" dy="-4.5">-/-</tspan><tspan dy="4.5"> SCID</tspan></text>
<rect x="373.9" y="728.7" width="18.6" height="4.6" fill="#b0b0b0" stroke="#333" stroke-width="1.3"/>
<rect x="373.9" y="747.5" width="19" height="5.4" fill="#fafafa" stroke="#444" stroke-width="1.2"/>
<path d="M374.5 748L377.6 752.8L380.8 748L384 752.8L387.2 748L390.4 752.8L392.5 749.4M374.5 752.8L377.6 748L380.8 752.8L384 748L387.2 752.8L390.4 748L392.5 751.4" fill="none" stroke="#777" stroke-width="0.8"/>
<rect x="373.9" y="769.3" width="19" height="5" fill="url(#dh)" stroke="#333" stroke-width="1.2"/>
<text class="lg" x="403.5" y="735.9">IL-2</text>
<text class="lg" x="401.9" y="754.5">Con A</text>
<text class="lg" x="401.9" y="776.3">Con A + IL-2</text>
<text class="yl" transform="translate(31.9,818.4) rotate(-90)" text-anchor="middle">T Cell Proliferation Index</text>
</svg>
</body></html>
